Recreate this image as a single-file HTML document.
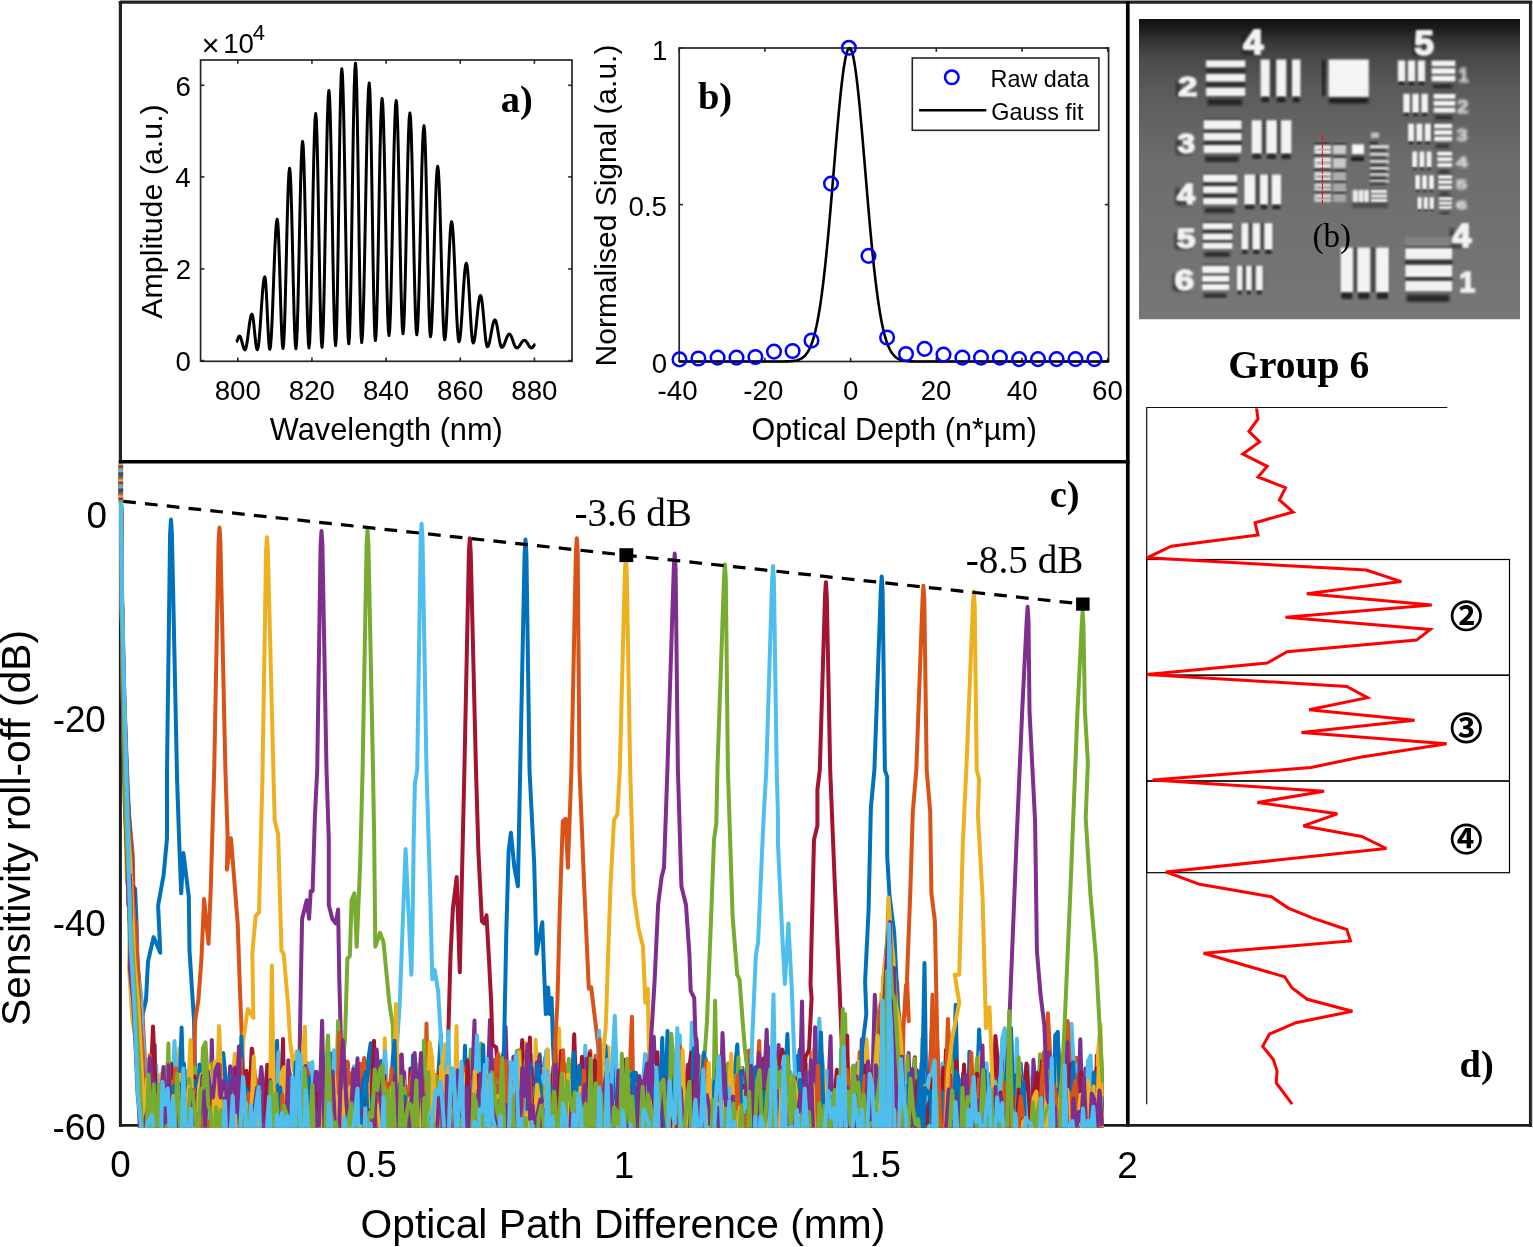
<!DOCTYPE html><html><head><meta charset="utf-8"><style>html,body{margin:0;padding:0;background:#fff;overflow:hidden}svg{display:block}</style></head><body><svg width="1533" height="1247" viewBox="0 0 1533 1247">
<rect x="0" y="0" width="1533" height="1247" fill="#fff"/>
<rect x="200.6" y="60.0" width="371.40" height="301.30" fill="none" stroke="#262626" stroke-width="1.7"/>
<line x1="237.80" y1="361.3" x2="237.80" y2="357.5" stroke="#262626" stroke-width="1.6" />
<line x1="237.80" y1="60.0" x2="237.80" y2="63.8" stroke="#262626" stroke-width="1.6" />
<text x="214.68" y="399.75" font-family="'Liberation Sans', Arial, sans-serif" font-size="27.7" font-weight="normal" fill="#000" >800</text>
<line x1="311.95" y1="361.3" x2="311.95" y2="357.5" stroke="#262626" stroke-width="1.6" />
<line x1="311.95" y1="60.0" x2="311.95" y2="63.8" stroke="#262626" stroke-width="1.6" />
<text x="288.82" y="399.75" font-family="'Liberation Sans', Arial, sans-serif" font-size="27.7" font-weight="normal" fill="#000" >820</text>
<line x1="386.10" y1="361.3" x2="386.10" y2="357.5" stroke="#262626" stroke-width="1.6" />
<line x1="386.10" y1="60.0" x2="386.10" y2="63.8" stroke="#262626" stroke-width="1.6" />
<text x="362.98" y="399.75" font-family="'Liberation Sans', Arial, sans-serif" font-size="27.7" font-weight="normal" fill="#000" >840</text>
<line x1="460.25" y1="361.3" x2="460.25" y2="357.5" stroke="#262626" stroke-width="1.6" />
<line x1="460.25" y1="60.0" x2="460.25" y2="63.8" stroke="#262626" stroke-width="1.6" />
<text x="437.12" y="399.75" font-family="'Liberation Sans', Arial, sans-serif" font-size="27.7" font-weight="normal" fill="#000" >860</text>
<line x1="534.40" y1="361.3" x2="534.40" y2="357.5" stroke="#262626" stroke-width="1.6" />
<line x1="534.40" y1="60.0" x2="534.40" y2="63.8" stroke="#262626" stroke-width="1.6" />
<text x="511.27" y="399.75" font-family="'Liberation Sans', Arial, sans-serif" font-size="27.7" font-weight="normal" fill="#000" >880</text>
<line x1="200.6" y1="360.60" x2="204.4" y2="360.60" stroke="#262626" stroke-width="1.6" />
<line x1="572.0" y1="360.60" x2="568.2" y2="360.60" stroke="#262626" stroke-width="1.6" />
<text x="175.55" y="371.00" font-family="'Liberation Sans', Arial, sans-serif" font-size="27.7" font-weight="normal" fill="#000" >0</text>
<line x1="200.6" y1="268.90" x2="204.4" y2="268.90" stroke="#262626" stroke-width="1.6" />
<line x1="572.0" y1="268.90" x2="568.2" y2="268.90" stroke="#262626" stroke-width="1.6" />
<text x="175.80" y="279.42" font-family="'Liberation Sans', Arial, sans-serif" font-size="27.7" font-weight="normal" fill="#000" >2</text>
<line x1="200.6" y1="176.90" x2="204.4" y2="176.90" stroke="#262626" stroke-width="1.6" />
<line x1="572.0" y1="176.90" x2="568.2" y2="176.90" stroke="#262626" stroke-width="1.6" />
<text x="175.30" y="187.30" font-family="'Liberation Sans', Arial, sans-serif" font-size="27.7" font-weight="normal" fill="#000" >4</text>
<line x1="200.6" y1="85.30" x2="204.4" y2="85.30" stroke="#262626" stroke-width="1.6" />
<line x1="572.0" y1="85.30" x2="568.2" y2="85.30" stroke="#262626" stroke-width="1.6" />
<text x="175.55" y="95.70" font-family="'Liberation Sans', Arial, sans-serif" font-size="27.7" font-weight="normal" fill="#000" >6</text>
<text x="269.85" y="440.10" font-family="'Liberation Sans', Arial, sans-serif" font-size="30.75" font-weight="normal" fill="#000" >Wavelength (nm)</text>
<text transform="translate(161.60,318.80) rotate(-90)" x="0" y="0" font-family="'Liberation Sans', Arial, sans-serif" font-size="30.4" font-weight="normal" fill="#000">Amplitude (a.u.)</text>
<text x="201.45" y="56.30" font-family="'Liberation Sans', Arial, sans-serif" font-size="31.0" font-weight="normal" fill="#000" >×</text>
<text x="223.20" y="53.15" font-family="'Liberation Sans', Arial, sans-serif" font-size="27.7" font-weight="normal" fill="#000" >10</text>
<text x="252.80" y="39.80" font-family="'Liberation Sans', Arial, sans-serif" font-size="22" font-weight="normal" fill="#000" >4</text>
<text x="500.75" y="112.05" font-family="'Liberation Serif', 'Times New Roman', serif" font-size="38.5" font-weight="bold" fill="#000" >a)</text>
<path d="M236.20,342.00 L236.52,341.85 L236.84,341.43 L237.16,340.76 L237.48,339.93 L237.80,339.00 L238.12,338.07 L238.44,337.24 L238.76,336.57 L239.08,336.15 L239.40,336.00 L239.96,336.34 L240.52,337.31 L241.08,338.82 L241.64,340.73 L242.20,342.85 L242.76,344.97 L243.32,346.88 L243.88,348.39 L244.44,349.36 L245.00,349.70 L245.69,348.83 L246.38,346.31 L247.07,342.38 L247.76,337.44 L248.45,331.95 L249.14,326.46 L249.83,321.52 L250.52,317.59 L251.21,315.07 L251.90,314.20 L252.44,315.07 L252.98,317.59 L253.52,321.52 L254.06,326.46 L254.60,331.95 L255.14,337.44 L255.68,342.38 L256.22,346.31 L256.76,348.83 L257.30,349.70 L258.05,347.92 L258.80,342.75 L259.55,334.70 L260.30,324.55 L261.05,313.30 L261.80,302.05 L262.55,291.90 L263.30,283.85 L264.05,278.68 L264.80,276.90 L265.30,278.67 L265.80,283.81 L266.30,291.82 L266.80,301.91 L267.30,313.10 L267.80,324.29 L268.30,334.38 L268.80,342.39 L269.30,347.53 L269.80,349.30 L270.54,346.12 L271.28,336.88 L272.02,322.49 L272.76,304.35 L273.50,284.25 L274.24,264.15 L274.98,246.01 L275.72,231.62 L276.46,222.38 L277.20,219.20 L277.78,222.36 L278.36,231.55 L278.94,245.85 L279.52,263.87 L280.10,283.85 L280.68,303.83 L281.26,321.85 L281.84,336.15 L282.42,345.34 L283.00,348.50 L283.66,344.09 L284.32,331.29 L284.98,311.36 L285.64,286.24 L286.30,258.40 L286.96,230.56 L287.62,205.44 L288.28,185.51 L288.94,172.71 L289.60,168.30 L290.23,172.71 L290.86,185.53 L291.49,205.48 L292.12,230.63 L292.75,258.50 L293.38,286.37 L294.01,311.52 L294.64,331.47 L295.27,344.29 L295.90,348.70 L296.57,343.63 L297.24,328.91 L297.91,305.99 L298.58,277.11 L299.25,245.10 L299.92,213.09 L300.59,184.21 L301.26,161.29 L301.93,146.57 L302.60,141.50 L303.24,146.55 L303.88,161.22 L304.52,184.06 L305.16,212.84 L305.80,244.75 L306.44,276.66 L307.08,305.44 L307.72,328.28 L308.36,342.95 L309.00,348.00 L309.67,342.26 L310.34,325.62 L311.01,299.69 L311.68,267.02 L312.35,230.80 L313.02,194.58 L313.69,161.91 L314.36,135.98 L315.03,119.34 L315.70,113.60 L316.33,119.32 L316.96,135.92 L317.59,161.77 L318.22,194.34 L318.85,230.45 L319.48,266.56 L320.11,299.13 L320.74,324.98 L321.37,341.58 L322.00,347.30 L322.69,341.02 L323.38,322.78 L324.07,294.37 L324.76,258.58 L325.45,218.90 L326.14,179.22 L326.83,143.43 L327.52,115.02 L328.21,96.78 L328.90,90.50 L329.57,96.74 L330.24,114.85 L330.91,143.06 L331.58,178.60 L332.25,218.00 L332.92,257.40 L333.59,292.94 L334.26,321.15 L334.93,339.26 L335.60,345.50 L336.22,338.73 L336.84,319.07 L337.46,288.45 L338.08,249.87 L338.70,207.10 L339.32,164.33 L339.94,125.75 L340.56,95.13 L341.18,75.47 L341.80,68.70 L342.50,75.43 L343.20,94.97 L343.90,125.40 L344.60,163.74 L345.30,206.25 L346.00,248.76 L346.70,287.10 L347.40,317.53 L348.10,337.07 L348.80,343.80 L349.47,336.93 L350.14,317.01 L350.81,285.97 L351.48,246.86 L352.15,203.50 L352.82,160.14 L353.49,121.03 L354.16,89.99 L354.83,70.07 L355.50,63.20 L356.12,70.03 L356.74,89.87 L357.36,120.77 L357.98,159.70 L358.60,202.85 L359.22,246.00 L359.84,284.93 L360.46,315.83 L361.08,335.67 L361.70,342.50 L362.45,336.15 L363.20,317.73 L363.95,289.04 L364.70,252.88 L365.45,212.80 L366.20,172.72 L366.95,136.56 L367.70,107.87 L368.45,89.45 L369.20,83.10 L369.82,89.40 L370.44,107.68 L371.06,136.15 L371.68,172.03 L372.30,211.80 L372.92,251.57 L373.54,287.45 L374.16,315.92 L374.78,334.20 L375.40,340.50 L376.07,334.58 L376.74,317.39 L377.41,290.62 L378.08,256.89 L378.75,219.50 L379.42,182.11 L380.09,148.38 L380.76,121.61 L381.43,104.42 L382.10,98.50 L382.79,104.30 L383.48,121.13 L384.17,147.35 L384.86,180.38 L385.55,217.00 L386.24,253.62 L386.93,286.65 L387.62,312.87 L388.31,329.70 L389.00,335.50 L389.72,329.75 L390.44,313.06 L391.16,287.06 L391.88,254.31 L392.60,218.00 L393.32,181.69 L394.04,148.94 L394.76,122.94 L395.48,106.25 L396.20,100.50 L396.88,106.21 L397.56,122.78 L398.24,148.58 L398.92,181.10 L399.60,217.15 L400.28,253.20 L400.96,285.72 L401.64,311.52 L402.32,328.09 L403.00,333.80 L403.69,328.39 L404.38,312.71 L405.07,288.27 L405.76,257.48 L406.45,223.35 L407.14,189.22 L407.83,158.43 L408.52,133.99 L409.21,118.31 L409.90,112.90 L410.59,118.33 L411.28,134.09 L411.97,158.64 L412.66,189.56 L413.35,223.85 L414.04,258.14 L414.73,289.06 L415.42,313.61 L416.11,329.37 L416.80,334.80 L417.52,329.69 L418.24,314.84 L418.96,291.72 L419.68,262.59 L420.40,230.30 L421.12,198.01 L421.84,168.88 L422.56,145.76 L423.28,130.91 L424.00,125.80 L424.65,130.96 L425.30,145.95 L425.95,169.29 L426.60,198.70 L427.25,231.30 L427.90,263.90 L428.55,293.31 L429.20,316.65 L429.85,331.64 L430.50,336.80 L431.22,332.63 L431.94,320.52 L432.66,301.66 L433.38,277.89 L434.10,251.55 L434.82,225.21 L435.54,201.44 L436.26,182.58 L436.98,170.47 L437.70,166.30 L438.40,170.55 L439.10,182.87 L439.80,202.06 L440.50,226.24 L441.20,253.05 L441.90,279.86 L442.60,304.04 L443.30,323.23 L444.00,335.55 L444.70,339.80 L445.39,336.91 L446.08,328.52 L446.77,315.46 L447.46,299.00 L448.15,280.75 L448.84,262.50 L449.53,246.04 L450.22,232.98 L450.91,224.59 L451.60,221.70 L452.34,224.64 L453.08,233.17 L453.82,246.45 L454.56,263.19 L455.30,281.75 L456.04,300.31 L456.78,317.05 L457.52,330.33 L458.26,338.86 L459.00,341.80 L459.73,339.88 L460.46,334.29 L461.19,325.60 L461.92,314.64 L462.65,302.50 L463.38,290.36 L464.11,279.40 L464.84,270.71 L465.57,265.12 L466.30,263.20 L466.99,265.15 L467.68,270.82 L468.37,279.65 L469.06,290.77 L469.75,303.10 L470.44,315.43 L471.13,326.55 L471.82,335.38 L472.51,341.05 L473.20,343.00 L473.93,341.84 L474.66,338.46 L475.39,333.21 L476.12,326.59 L476.85,319.25 L477.58,311.91 L478.31,305.29 L479.04,300.04 L479.77,296.66 L480.50,295.50 L481.19,296.76 L481.88,300.40 L482.57,306.07 L483.26,313.22 L483.95,321.15 L484.64,329.08 L485.33,336.23 L486.02,341.90 L486.71,345.54 L487.40,346.80 L488.15,346.14 L488.90,344.23 L489.65,341.26 L490.40,337.51 L491.15,333.35 L491.90,329.19 L492.65,325.44 L493.40,322.47 L494.15,320.56 L494.90,319.90 L495.59,320.58 L496.28,322.54 L496.97,325.59 L497.66,329.44 L498.35,333.70 L499.04,337.96 L499.73,341.81 L500.42,344.86 L501.11,346.82 L501.80,347.50 L502.55,347.17 L503.30,346.22 L504.05,344.74 L504.80,342.87 L505.55,340.80 L506.30,338.73 L507.05,336.86 L507.80,335.38 L508.55,334.43 L509.30,334.10 L510.04,334.44 L510.78,335.43 L511.52,336.96 L512.26,338.90 L513.00,341.05 L513.74,343.20 L514.48,345.14 L515.22,346.67 L515.96,347.66 L516.70,348.00 L517.47,347.81 L518.24,347.26 L519.01,346.41 L519.78,345.34 L520.55,344.15 L521.32,342.96 L522.09,341.89 L522.86,341.04 L523.63,340.49 L524.40,340.30 L525.12,340.49 L525.84,341.04 L526.56,341.89 L527.28,342.96 L528.00,344.15 L528.72,345.34 L529.44,346.41 L530.16,347.26 L530.88,347.81 L531.60,348.00 L531.98,347.91 L532.36,347.65 L532.74,347.24 L533.12,346.72 L533.50,346.15 L533.88,345.58 L534.26,345.06 L534.64,344.65 L535.02,344.39 L535.40,344.30" fill="none" stroke="#000" stroke-width="3.0" stroke-linejoin="round" />
<rect x="679.2" y="48.0" width="429.40" height="313.50" fill="none" stroke="#262626" stroke-width="1.7"/>
<line x1="679.20" y1="361.5" x2="679.20" y2="357.7" stroke="#262626" stroke-width="1.6" />
<line x1="679.20" y1="48.0" x2="679.20" y2="51.8" stroke="#262626" stroke-width="1.6" />
<text x="657.58" y="399.75" font-family="'Liberation Sans', Arial, sans-serif" font-size="27.7" font-weight="normal" fill="#000" >-40</text>
<line x1="764.90" y1="361.5" x2="764.90" y2="357.7" stroke="#262626" stroke-width="1.6" />
<line x1="764.90" y1="48.0" x2="764.90" y2="51.8" stroke="#262626" stroke-width="1.6" />
<text x="743.27" y="399.75" font-family="'Liberation Sans', Arial, sans-serif" font-size="27.7" font-weight="normal" fill="#000" >-20</text>
<line x1="850.60" y1="361.5" x2="850.60" y2="357.7" stroke="#262626" stroke-width="1.6" />
<line x1="850.60" y1="48.0" x2="850.60" y2="51.8" stroke="#262626" stroke-width="1.6" />
<text x="842.98" y="399.75" font-family="'Liberation Sans', Arial, sans-serif" font-size="27.7" font-weight="normal" fill="#000" >0</text>
<line x1="936.30" y1="361.5" x2="936.30" y2="357.7" stroke="#262626" stroke-width="1.6" />
<line x1="936.30" y1="48.0" x2="936.30" y2="51.8" stroke="#262626" stroke-width="1.6" />
<text x="920.68" y="399.75" font-family="'Liberation Sans', Arial, sans-serif" font-size="27.7" font-weight="normal" fill="#000" >20</text>
<line x1="1022.00" y1="361.5" x2="1022.00" y2="357.7" stroke="#262626" stroke-width="1.6" />
<line x1="1022.00" y1="48.0" x2="1022.00" y2="51.8" stroke="#262626" stroke-width="1.6" />
<text x="1006.75" y="399.75" font-family="'Liberation Sans', Arial, sans-serif" font-size="27.7" font-weight="normal" fill="#000" >40</text>
<line x1="1107.70" y1="361.5" x2="1107.70" y2="357.7" stroke="#262626" stroke-width="1.6" />
<line x1="1107.70" y1="48.0" x2="1107.70" y2="51.8" stroke="#262626" stroke-width="1.6" />
<text x="1092.08" y="399.75" font-family="'Liberation Sans', Arial, sans-serif" font-size="27.7" font-weight="normal" fill="#000" >60</text>
<line x1="679.2" y1="361.50" x2="683.0" y2="361.50" stroke="#262626" stroke-width="1.6" />
<line x1="1108.6" y1="361.50" x2="1104.8" y2="361.50" stroke="#262626" stroke-width="1.6" />
<text x="651.75" y="373.10" font-family="'Liberation Sans', Arial, sans-serif" font-size="27.7" font-weight="normal" fill="#000" >0</text>
<line x1="679.2" y1="204.60" x2="683.0" y2="204.60" stroke="#262626" stroke-width="1.6" />
<line x1="1108.6" y1="204.60" x2="1104.8" y2="204.60" stroke="#262626" stroke-width="1.6" />
<text x="628.50" y="216.20" font-family="'Liberation Sans', Arial, sans-serif" font-size="27.7" font-weight="normal" fill="#000" >0.5</text>
<line x1="679.2" y1="48.00" x2="683.0" y2="48.00" stroke="#262626" stroke-width="1.6" />
<line x1="1108.6" y1="48.00" x2="1104.8" y2="48.00" stroke="#262626" stroke-width="1.6" />
<text x="652.00" y="59.60" font-family="'Liberation Sans', Arial, sans-serif" font-size="27.7" font-weight="normal" fill="#000" >1</text>
<text x="751.50" y="439.60" font-family="'Liberation Sans', Arial, sans-serif" font-size="30.5" font-weight="normal" fill="#000" >Optical Depth (n*µm)</text>
<text transform="translate(616.30,366.40) rotate(-90)" x="0" y="0" font-family="'Liberation Sans', Arial, sans-serif" font-size="30.0" font-weight="normal" fill="#000">Normalised Signal (a.u.)</text>
<text x="697.90" y="109.05" font-family="'Liberation Serif', 'Times New Roman', serif" font-size="38.5" font-weight="bold" fill="#000" >b)</text>
<path d="M679.20,361.50 L680.27,361.50 L681.35,361.50 L682.42,361.50 L683.49,361.50 L684.57,361.50 L685.64,361.50 L686.71,361.50 L687.79,361.50 L688.86,361.50 L689.94,361.50 L691.01,361.50 L692.08,361.50 L693.16,361.50 L694.23,361.50 L695.30,361.50 L696.38,361.50 L697.45,361.50 L698.52,361.50 L699.60,361.50 L700.67,361.50 L701.74,361.50 L702.82,361.50 L703.89,361.50 L704.96,361.50 L706.04,361.50 L707.11,361.50 L708.18,361.50 L709.26,361.50 L710.33,361.50 L711.41,361.50 L712.48,361.50 L713.55,361.50 L714.63,361.50 L715.70,361.50 L716.77,361.50 L717.85,361.50 L718.92,361.50 L719.99,361.50 L721.07,361.50 L722.14,361.50 L723.21,361.50 L724.29,361.50 L725.36,361.50 L726.43,361.50 L727.51,361.50 L728.58,361.50 L729.65,361.50 L730.73,361.50 L731.80,361.50 L732.88,361.50 L733.95,361.50 L735.02,361.50 L736.10,361.50 L737.17,361.50 L738.24,361.50 L739.32,361.50 L740.39,361.50 L741.46,361.50 L742.54,361.50 L743.61,361.50 L744.68,361.50 L745.76,361.50 L746.83,361.50 L747.90,361.50 L748.98,361.50 L750.05,361.50 L751.12,361.50 L752.20,361.50 L753.27,361.50 L754.35,361.50 L755.42,361.50 L756.49,361.50 L757.57,361.50 L758.64,361.50 L759.71,361.50 L760.79,361.50 L761.86,361.50 L762.93,361.50 L764.01,361.50 L765.08,361.50 L766.15,361.50 L767.23,361.50 L768.30,361.50 L769.37,361.50 L770.45,361.50 L771.52,361.50 L772.59,361.50 L773.67,361.50 L774.74,361.50 L775.82,361.49 L776.89,361.49 L777.96,361.49 L779.04,361.48 L780.11,361.48 L781.18,361.47 L782.26,361.46 L783.33,361.45 L784.40,361.44 L785.48,361.41 L786.55,361.39 L787.62,361.35 L788.70,361.31 L789.77,361.25 L790.84,361.18 L791.92,361.09 L792.99,360.98 L794.06,360.83 L795.14,360.66 L796.21,360.44 L797.28,360.17 L798.36,359.84 L799.43,359.43 L800.51,358.94 L801.58,358.35 L802.65,357.63 L803.73,356.78 L804.80,355.77 L805.87,354.57 L806.95,353.16 L808.02,351.51 L809.09,349.59 L810.17,347.36 L811.24,344.79 L812.31,341.85 L813.39,338.49 L814.46,334.69 L815.53,330.40 L816.61,325.59 L817.68,320.23 L818.75,314.29 L819.83,307.74 L820.90,300.57 L821.98,292.75 L823.05,284.29 L824.12,275.19 L825.20,265.46 L826.27,255.13 L827.34,244.23 L828.42,232.80 L829.49,220.91 L830.56,208.63 L831.64,196.04 L832.71,183.25 L833.78,170.34 L834.86,157.45 L835.93,144.69 L837.00,132.19 L838.08,120.09 L839.15,108.52 L840.23,97.62 L841.30,87.51 L842.37,78.33 L843.45,70.19 L844.52,63.20 L845.59,57.44 L846.67,53.00 L847.74,49.94 L848.81,48.30 L849.89,48.09 L850.96,49.34 L852.03,52.00 L853.11,56.06 L854.18,61.46 L855.25,68.11 L856.33,75.94 L857.40,84.85 L858.47,94.70 L859.55,105.40 L860.62,116.79 L861.69,128.76 L862.77,141.16 L863.84,153.86 L864.92,166.73 L865.99,179.64 L867.06,192.48 L868.14,205.13 L869.21,217.51 L870.28,229.52 L871.36,241.08 L872.43,252.13 L873.50,262.63 L874.58,272.53 L875.65,281.81 L876.72,290.45 L877.80,298.45 L878.87,305.80 L879.94,312.52 L881.02,318.63 L882.09,324.15 L883.16,329.11 L884.24,333.54 L885.31,337.47 L886.39,340.95 L887.46,344.01 L888.53,346.67 L889.61,348.99 L890.68,351.00 L891.75,352.72 L892.83,354.20 L893.90,355.45 L894.97,356.52 L896.05,357.41 L897.12,358.16 L898.19,358.79 L899.27,359.30 L900.34,359.73 L901.41,360.08 L902.49,360.37 L903.56,360.60 L904.63,360.79 L905.71,360.94 L906.78,361.06 L907.86,361.16 L908.93,361.23 L910.00,361.29 L911.08,361.34 L912.15,361.38 L913.22,361.41 L914.30,361.43 L915.37,361.45 L916.44,361.46 L917.52,361.47 L918.59,361.48 L919.66,361.48 L920.74,361.49 L921.81,361.49 L922.88,361.49 L923.96,361.50 L925.03,361.50 L926.11,361.50 L927.18,361.50 L928.25,361.50 L929.33,361.50 L930.40,361.50 L931.47,361.50 L932.55,361.50 L933.62,361.50 L934.69,361.50 L935.77,361.50 L936.84,361.50 L937.91,361.50 L938.99,361.50 L940.06,361.50 L941.13,361.50 L942.21,361.50 L943.28,361.50 L944.35,361.50 L945.43,361.50 L946.50,361.50 L947.58,361.50 L948.65,361.50 L949.72,361.50 L950.80,361.50 L951.87,361.50 L952.94,361.50 L954.02,361.50 L955.09,361.50 L956.16,361.50 L957.24,361.50 L958.31,361.50 L959.38,361.50 L960.46,361.50 L961.53,361.50 L962.60,361.50 L963.68,361.50 L964.75,361.50 L965.82,361.50 L966.90,361.50 L967.97,361.50 L969.04,361.50 L970.12,361.50 L971.19,361.50 L972.27,361.50 L973.34,361.50 L974.41,361.50 L975.49,361.50 L976.56,361.50 L977.63,361.50 L978.71,361.50 L979.78,361.50 L980.85,361.50 L981.93,361.50 L983.00,361.50 L984.07,361.50 L985.15,361.50 L986.22,361.50 L987.29,361.50 L988.37,361.50 L989.44,361.50 L990.51,361.50 L991.59,361.50 L992.66,361.50 L993.74,361.50 L994.81,361.50 L995.88,361.50 L996.96,361.50 L998.03,361.50 L999.10,361.50 L1000.18,361.50 L1001.25,361.50 L1002.32,361.50 L1003.40,361.50 L1004.47,361.50 L1005.54,361.50 L1006.62,361.50 L1007.69,361.50 L1008.76,361.50 L1009.84,361.50 L1010.91,361.50 L1011.98,361.50 L1013.06,361.50 L1014.13,361.50 L1015.21,361.50 L1016.28,361.50 L1017.35,361.50 L1018.43,361.50 L1019.50,361.50 L1020.57,361.50 L1021.65,361.50 L1022.72,361.50 L1023.79,361.50 L1024.87,361.50 L1025.94,361.50 L1027.01,361.50 L1028.09,361.50 L1029.16,361.50 L1030.23,361.50 L1031.31,361.50 L1032.38,361.50 L1033.45,361.50 L1034.53,361.50 L1035.60,361.50 L1036.68,361.50 L1037.75,361.50 L1038.82,361.50 L1039.90,361.50 L1040.97,361.50 L1042.04,361.50 L1043.12,361.50 L1044.19,361.50 L1045.26,361.50 L1046.34,361.50 L1047.41,361.50 L1048.48,361.50 L1049.56,361.50 L1050.63,361.50 L1051.70,361.50 L1052.78,361.50 L1053.85,361.50 L1054.92,361.50 L1056.00,361.50 L1057.07,361.50 L1058.15,361.50 L1059.22,361.50 L1060.29,361.50 L1061.37,361.50 L1062.44,361.50 L1063.51,361.50 L1064.59,361.50 L1065.66,361.50 L1066.73,361.50 L1067.81,361.50 L1068.88,361.50 L1069.95,361.50 L1071.03,361.50 L1072.10,361.50 L1073.17,361.50 L1074.25,361.50 L1075.32,361.50 L1076.39,361.50 L1077.47,361.50 L1078.54,361.50 L1079.62,361.50 L1080.69,361.50 L1081.76,361.50 L1082.84,361.50 L1083.91,361.50 L1084.98,361.50 L1086.06,361.50 L1087.13,361.50 L1088.20,361.50 L1089.28,361.50 L1090.35,361.50 L1091.42,361.50 L1092.50,361.50 L1093.57,361.50 L1094.64,361.50 L1095.72,361.50 L1096.79,361.50 L1097.86,361.50 L1098.94,361.50 L1100.01,361.50 L1101.09,361.50 L1102.16,361.50 L1103.23,361.50 L1104.31,361.50 L1105.38,361.50 L1106.45,361.50 L1107.53,361.50 L1108.60,361.50" fill="none" stroke="#000" stroke-width="2.6" stroke-linejoin="round" />
<circle cx="679.5" cy="359.4" r="6.8" fill="none" stroke="#0000ff" stroke-width="2.5"/>
<circle cx="698.4" cy="358.5" r="6.8" fill="none" stroke="#0000ff" stroke-width="2.5"/>
<circle cx="717.6" cy="357.6" r="6.8" fill="none" stroke="#0000ff" stroke-width="2.5"/>
<circle cx="736.5" cy="357.6" r="6.8" fill="none" stroke="#0000ff" stroke-width="2.5"/>
<circle cx="755.4" cy="357" r="6.8" fill="none" stroke="#0000ff" stroke-width="2.5"/>
<circle cx="774" cy="351.6" r="6.8" fill="none" stroke="#0000ff" stroke-width="2.5"/>
<circle cx="792.6" cy="351" r="6.8" fill="none" stroke="#0000ff" stroke-width="2.5"/>
<circle cx="811.5" cy="340.5" r="6.8" fill="none" stroke="#0000ff" stroke-width="2.5"/>
<circle cx="831" cy="183.6" r="6.8" fill="none" stroke="#0000ff" stroke-width="2.5"/>
<circle cx="848.9" cy="47.8" r="6.8" fill="none" stroke="#0000ff" stroke-width="2.5"/>
<circle cx="868.5" cy="255.9" r="6.8" fill="none" stroke="#0000ff" stroke-width="2.5"/>
<circle cx="887.1" cy="337.5" r="6.8" fill="none" stroke="#0000ff" stroke-width="2.5"/>
<circle cx="906" cy="354" r="6.8" fill="none" stroke="#0000ff" stroke-width="2.5"/>
<circle cx="924.6" cy="348.9" r="6.8" fill="none" stroke="#0000ff" stroke-width="2.5"/>
<circle cx="943.5" cy="354.6" r="6.8" fill="none" stroke="#0000ff" stroke-width="2.5"/>
<circle cx="962.4" cy="357.6" r="6.8" fill="none" stroke="#0000ff" stroke-width="2.5"/>
<circle cx="981" cy="357.6" r="6.8" fill="none" stroke="#0000ff" stroke-width="2.5"/>
<circle cx="999.9" cy="357.6" r="6.8" fill="none" stroke="#0000ff" stroke-width="2.5"/>
<circle cx="1019.1" cy="359.1" r="6.8" fill="none" stroke="#0000ff" stroke-width="2.5"/>
<circle cx="1038" cy="359.1" r="6.8" fill="none" stroke="#0000ff" stroke-width="2.5"/>
<circle cx="1056.6" cy="359.1" r="6.8" fill="none" stroke="#0000ff" stroke-width="2.5"/>
<circle cx="1075.5" cy="359.1" r="6.8" fill="none" stroke="#0000ff" stroke-width="2.5"/>
<circle cx="1094.4" cy="359.1" r="6.8" fill="none" stroke="#0000ff" stroke-width="2.5"/>
<rect x="912.3" y="58.0" width="186.6" height="72.3" fill="#fff" stroke="#262626" stroke-width="1.6"/>
<circle cx="951.8" cy="77.3" r="6.8" fill="none" stroke="#0000ff" stroke-width="2.5"/>
<line x1="919.1" y1="110.2" x2="986.3" y2="110.2" stroke="#000" stroke-width="2.6" />
<text x="990.50" y="87.00" font-family="'Liberation Sans', Arial, sans-serif" font-size="23.4" font-weight="normal" fill="#000" >Raw data</text>
<text x="991.25" y="119.70" font-family="'Liberation Sans', Arial, sans-serif" font-size="23.4" font-weight="normal" fill="#000" >Gauss fit</text>
<defs><clipPath id="cc"><rect x="117" y="463.5" width="987" height="664.3"/></clipPath></defs>
<line x1="119" y1="1125.4" x2="1128" y2="1125.4" stroke="#1c1c1c" stroke-width="2.9"/>
<line x1="120.4" y1="463" x2="120.4" y2="1126.8" stroke="#1c1c1c" stroke-width="3"/>
<g clip-path="url(#cc)" fill="none" stroke-width="4" stroke-linejoin="round">
<path d="M120.8,463.5 L121.0,500.0 L122.1,609.6 L124.2,709.7 L127.9,803.0 L132.1,887.6 L133.6,917.2 L135.1,888.8 L136.7,927.2 L136.8,947.0 L140.9,1022.1 L146.0,1000.0 L148.0,961.8 L153.6,937.1 L160.3,952.8 L158.1,905.7 L163.7,874.3 L167.0,838.3 L167.0,770.0 L170.1,533.6 L171.0,519.6 L171.9,533.6 L177.1,780.0 L179.4,847.3 L181.2,893.3 L183.4,852.9 L188.8,896.7 L189.5,950.6 L194.0,1020.1 L196.5,1140.2 L199.1,1181.4 L201.7,1142.5 L204.3,1128.5 L206.9,1150.4 L209.5,1158.1 L212.1,1105.0 L214.7,1075.4 L217.3,1113.9 L219.9,1132.9 L222.5,1097.7 L225.1,1090.0 L227.7,1128.0 L230.3,1103.6 L232.9,1090.7 L235.5,1136.0 L238.1,1159.2 L240.7,1122.0 L243.3,1126.1 L245.9,1097.1 L248.5,1175.8 L251.1,1152.4 L253.7,1155.3 L256.3,1182.3 L258.9,1117.0 L261.5,1101.5 L264.1,1143.2 L266.7,1071.8 L269.3,1091.4 L271.9,1099.3 L274.5,1108.3 L277.1,1040.8 L279.7,1169.4 L282.3,1105.2 L284.9,1106.6 L287.5,1187.2 L290.1,1116.4 L292.7,1135.9 L295.3,1100.0 L297.9,1139.1 L300.5,1122.6 L303.1,1108.1 L305.7,1147.0 L308.3,1095.7 L310.9,1089.1 L313.5,1097.1 L316.1,1130.3 L318.7,1075.4 L321.3,1090.9 L323.9,1117.0 L326.5,1090.1 L329.1,1070.0 L331.7,1053.5 L334.3,1167.9 L336.9,1086.3 L339.5,1100.8 L342.1,1119.6 L344.7,1150.3 L347.3,1074.1 L349.9,1158.8 L352.5,1097.4 L355.1,1072.5 L357.7,1169.6 L360.3,1125.2 L362.9,1158.0 L365.5,1104.6 L368.1,1061.1 L370.7,1043.3 L373.3,1171.1 L375.9,1131.1 L378.5,1089.0 L381.1,1061.1 L383.7,1101.9 L386.3,1143.4 L388.9,1110.7 L391.5,1123.6 L394.1,1132.2 L396.7,1152.3 L399.3,1116.3 L401.9,1120.1 L404.5,1134.0 L407.1,1100.9 L409.7,1172.4 L412.3,1143.9 L414.9,1085.0 L417.5,1130.1 L420.1,1170.3 L422.7,1075.6 L425.3,1101.6 L427.9,1047.7 L430.5,1116.1 L433.1,1133.7 L435.7,1167.4 L438.3,1075.1 L440.9,1034.5 L443.5,1125.7 L446.1,1145.4 L448.7,1104.5 L451.3,1152.6 L453.9,1132.9 L456.5,1133.8 L459.1,1113.1 L461.7,1080.2 L464.3,1113.7 L466.9,1081.8 L469.5,1125.7 L472.1,1100.2 L474.7,1183.4 L477.3,1161.0 L479.9,1086.6 L482.5,1134.4 L485.1,1096.3 L487.7,1098.5 L490.3,1072.8 L492.9,1090.2 L495.5,1083.1 L498.1,1120.6 L500.7,1140.0 L503.3,1141.2 L505.9,1133.7 L508.5,1156.6 L511.1,1138.5 L513.7,1124.6 L516.3,1114.0 L518.9,1134.3 L521.5,1187.7 L524.1,1125.5 L526.7,1115.6 L529.3,1086.8 L531.9,1103.9 L534.5,1144.8 L537.1,1147.0 L539.7,1054.3 L542.3,1096.0 L544.9,1059.7 L547.5,1049.8 L550.1,1124.8 L552.7,1108.4 L555.3,1105.0 L557.9,1099.9 L560.5,1098.0 L563.1,1106.8 L565.7,1105.3 L568.3,1159.8 L570.9,1113.7 L573.5,1133.0 L576.1,1103.9 L578.7,1124.7 L581.3,1089.3 L583.9,1083.7 L586.5,1102.1 L589.1,1103.3 L591.7,1112.4 L594.3,1132.6 L596.9,1125.5 L599.5,1139.7 L602.1,1113.4 L604.7,1129.6 L607.3,1113.9 L609.9,1180.8 L612.5,1107.8 L615.1,1163.5 L617.7,1161.2 L620.3,1140.5 L622.9,1149.1 L625.5,1116.3 L628.1,1141.5 L630.7,1155.1 L633.3,1145.8 L635.9,1072.8 L638.5,1116.0 L641.1,1157.8 L643.7,1119.3 L646.3,1172.6 L648.9,1060.2 L651.5,1171.3 L654.1,1103.2 L656.7,1100.6 L659.3,1167.7 L661.9,1109.5 L664.5,1087.5 L667.1,1107.6 L669.7,1117.3 L672.3,1097.2 L674.9,1126.3 L677.5,1122.0 L680.1,1137.7 L682.7,1110.9 L685.3,1160.9 L687.9,1098.8 L690.5,1138.4 L693.1,1109.5 L695.7,1102.1 L698.3,1055.3 L700.9,1078.4 L703.5,1127.5 L706.1,1086.3 L708.7,1103.4 L711.3,1112.9 L713.9,1104.7 L716.5,1184.3 L719.1,1098.4 L721.7,1137.9 L724.3,1125.4 L726.9,1150.5 L729.5,1151.2 L732.1,1131.6 L734.7,1072.2 L737.3,1044.6 L739.9,1103.0 L742.5,1068.0 L745.1,1116.9 L747.7,1176.4 L750.3,1111.4 L752.9,1105.3 L755.5,1138.0 L758.1,1115.7 L760.7,1107.9 L763.3,1156.6 L765.9,1176.9 L768.5,1133.8 L771.1,1132.4 L773.7,1136.1 L776.3,1090.0 L778.9,1064.2 L781.5,1135.4 L784.1,1097.3 L786.7,1088.5 L789.3,1095.5 L791.9,1083.7 L794.5,1131.5 L797.1,1093.2 L799.7,1049.6 L802.3,1090.1 L804.9,1137.3 L807.5,1095.1 L810.1,1072.2 L812.7,1101.3 L815.3,1132.5 L817.9,1062.2 L820.5,1157.7 L823.1,1100.9 L825.7,1120.7 L828.3,1162.0 L830.9,1081.7 L833.5,1111.0 L836.1,1161.5 L838.7,1101.8 L841.3,1137.0 L843.9,1187.8 L846.5,1148.8 L849.1,1118.5 L851.7,1107.1 L854.3,1123.0 L856.9,1125.9 L859.5,1109.8 L862.1,1130.7 L864.7,1082.2 L867.3,1115.6 L869.9,1110.1 L872.5,1101.8 L875.1,1156.1 L877.7,1117.5 L880.3,1063.6 L882.9,1024.4 L885.5,995.5 L888.1,962.0 L890.4,939.9 L890.7,996.6 L893.3,991.0 L895.9,1004.4 L898.5,1020.2 L901.1,1182.1 L903.7,1083.1 L906.3,1143.1 L908.9,1176.5 L911.5,1128.2 L914.1,1130.5 L916.7,1076.3 L919.3,1153.0 L921.9,1100.5 L924.5,963.0 L927.1,1157.1 L929.7,1103.0 L932.3,1124.9 L934.9,1107.5 L937.5,1173.9 L940.1,1150.2 L942.7,1094.5 L945.3,1109.6 L947.9,1051.7 L950.5,1129.0 L953.1,1098.1 L955.7,1004.8 L958.3,1127.5 L960.9,1131.6 L963.5,1102.5 L966.1,1103.9 L968.7,1076.1 L971.3,1103.1 L973.9,1136.3 L976.5,1107.5 L979.1,1029.4 L981.7,1078.2 L984.3,1216.7 L986.9,1129.2 L989.5,1154.1 L992.1,1103.3 L994.7,1086.4 L997.3,1055.8 L999.9,1086.8 L1002.5,1085.3 L1005.1,1106.1 L1007.7,1111.4 L1010.3,1096.8 L1012.9,1063.8 L1015.5,1088.9 L1018.1,1118.5 L1020.7,1063.6 L1023.3,1099.6 L1025.9,1107.9 L1028.5,1131.0 L1031.1,1122.9 L1033.7,1125.0 L1036.3,1198.0 L1038.9,1070.8 L1041.5,1087.3 L1044.1,1115.3 L1046.7,1074.7 L1049.3,1097.2 L1051.9,1101.8 L1054.5,1200.1 L1057.1,1127.6 L1059.7,1104.5 L1062.3,1070.9 L1064.9,1065.3 L1067.5,1080.7 L1070.1,1168.8 L1072.7,1204.0 L1075.3,1110.7 L1077.9,1128.3 L1080.5,1096.0 L1083.1,1131.6 L1085.7,1118.7 L1088.3,1175.5 L1090.9,1108.9 L1093.5,1138.0 L1096.1,1110.5 L1098.7,1106.1 L1101.3,1125.2 L1103.9,1110.5" stroke="#0072BD"/>
<path d="M120.8,465.5 L121.0,500.0 L122.1,593.2 L124.3,696.0 L128.3,807.0 L132.8,855.7 L134.4,952.5 L135.9,921.8 L137.5,962.5 L137.9,968.2 L142.1,1005.8 L145.6,1072.3 L148.3,1132.0 L150.9,1191.1 L153.5,1167.0 L156.1,1155.5 L158.7,1166.2 L161.3,1119.1 L163.9,1138.3 L166.5,1122.8 L169.1,1152.4 L171.7,1143.3 L174.3,1102.5 L176.9,1109.5 L179.5,1139.3 L182.1,1112.5 L184.7,1118.5 L187.3,1118.2 L189.9,1067.6 L192.5,1131.5 L195.1,1021.2 L198.4,999.9 L201.4,959.5 L204.1,898.9 L208.5,943.8 L210.8,887.7 L214.2,770.0 L218.6,541.6 L219.5,527.6 L220.4,541.6 L225.4,770.0 L227.6,836.1 L226.9,869.8 L231.0,838.3 L237.7,923.6 L240.0,991.0 L241.1,1017.9 L244.5,1110.4 L247.1,1114.7 L249.7,1113.7 L252.3,1049.0 L254.9,1076.9 L257.5,1082.8 L260.1,1139.5 L262.7,1079.9 L265.3,1146.3 L267.9,1089.4 L270.5,1145.9 L273.1,1045.4 L275.7,1170.0 L278.3,1074.1 L280.9,1089.3 L283.5,1176.6 L286.1,1125.3 L288.7,1068.6 L291.3,1079.0 L293.9,1173.4 L296.5,1136.0 L299.1,1159.4 L301.7,1156.1 L304.3,1145.0 L306.9,1062.7 L309.5,1120.8 L312.1,1132.6 L314.7,1135.4 L317.3,1100.5 L319.9,1098.2 L322.5,1151.1 L325.1,1069.9 L327.7,1155.0 L330.3,1127.4 L332.9,1102.6 L335.5,1059.7 L338.1,1128.1 L340.7,1106.0 L343.3,1070.5 L345.9,1091.6 L348.5,1072.6 L351.1,1073.9 L353.7,1099.0 L356.3,1086.1 L358.9,1077.1 L361.5,1110.5 L364.1,1058.0 L366.7,1181.1 L369.3,1147.7 L371.9,1070.6 L374.5,1106.9 L377.1,1144.7 L379.7,1111.5 L382.3,1088.2 L384.9,1143.2 L387.5,1097.2 L390.1,1124.7 L392.7,1121.3 L395.3,1116.4 L397.9,1073.8 L400.5,1146.7 L403.1,1120.4 L405.7,1086.0 L408.3,1150.5 L410.9,1164.8 L413.5,1094.9 L416.1,1116.4 L418.7,1123.4 L421.3,1115.2 L423.9,1153.7 L426.5,1023.4 L429.1,1154.5 L431.7,1135.9 L434.3,1169.2 L436.9,1136.4 L439.5,1072.9 L442.1,1126.0 L444.7,1109.3 L447.3,1117.8 L449.9,1071.5 L452.5,1126.3 L455.1,1171.8 L457.7,1100.8 L460.3,1135.7 L462.9,1099.9 L465.5,1113.7 L468.1,1108.6 L470.7,1113.1 L473.3,1149.1 L475.9,1170.3 L478.5,1088.2 L481.1,1126.4 L483.7,1113.0 L486.3,1138.6 L488.9,1191.3 L491.5,1166.5 L494.1,1077.0 L496.7,1150.8 L499.3,1137.7 L501.9,1174.6 L504.5,1143.6 L507.1,1138.9 L509.7,1134.4 L512.3,1129.8 L514.9,1148.4 L517.5,1145.6 L520.1,1125.2 L522.7,1085.5 L525.3,1125.0 L527.9,1059.4 L530.5,1109.5 L533.1,1076.8 L535.7,1137.7 L538.3,1081.7 L540.9,1151.7 L543.5,1172.9 L546.1,1152.4 L548.7,1099.8 L551.3,1159.8 L553.9,1078.4 L556.5,1123.2 L559.1,1173.7 L561.7,1131.0 L564.3,1063.8 L566.9,1153.5 L569.5,1169.4 L572.1,1108.9 L574.7,1082.5 L577.3,1091.9 L579.9,1136.5 L582.5,1118.1 L585.1,1112.6 L587.7,1083.5 L590.3,1050.8 L592.9,1127.5 L595.5,1055.7 L598.1,1138.0 L600.7,1107.6 L603.3,1159.1 L605.9,1153.0 L608.5,1112.2 L611.1,1154.8 L613.7,1093.2 L616.3,1140.1 L618.9,1117.8 L621.5,1122.4 L624.1,1130.6 L626.7,1115.2 L629.3,1083.9 L631.9,1016.8 L634.5,1162.5 L637.1,1114.0 L639.7,1131.3 L642.3,1157.2 L644.9,1117.2 L647.5,1155.9 L650.1,1127.7 L652.7,1081.2 L655.3,1188.0 L657.9,1108.2 L660.5,1097.7 L663.1,1141.1 L665.7,1087.9 L668.3,1091.0 L670.9,1112.8 L673.5,1059.7 L676.1,1144.7 L678.7,1079.9 L681.3,1110.4 L683.9,1138.9 L686.5,1110.1 L689.1,1116.5 L691.7,1078.3 L694.3,1157.6 L696.9,1116.0 L699.5,1127.4 L702.1,1062.0 L704.7,1155.2 L707.3,1084.6 L709.9,1181.6 L712.5,1113.2 L715.1,1131.2 L717.7,1115.5 L720.3,1152.9 L722.9,1195.4 L725.5,1181.3 L728.1,1084.0 L730.7,1119.2 L733.3,1153.3 L735.9,1091.8 L738.5,1145.3 L741.1,1143.7 L743.7,1158.6 L746.3,1077.5 L748.9,1050.5 L751.5,1148.1 L754.1,1105.0 L756.7,1080.6 L759.3,1040.9 L761.9,1191.2 L764.5,1104.2 L767.1,1085.6 L769.7,1155.8 L772.3,1091.4 L774.9,1098.1 L777.5,1080.8 L780.1,1125.8 L782.7,1093.9 L785.3,1130.1 L787.9,1091.1 L790.5,1107.5 L793.1,1126.1 L795.7,1160.7 L798.3,1057.0 L800.9,1074.0 L803.5,1080.5 L806.1,1131.7 L808.7,1120.8 L811.3,1053.1 L813.9,1084.9 L816.5,1139.3 L819.1,1109.6 L821.7,1106.6 L824.3,1118.0 L826.9,1142.8 L829.5,1068.5 L832.1,1090.8 L834.7,1117.4 L837.3,1164.4 L839.9,1132.4 L842.5,1114.6 L845.1,1087.4 L847.7,1104.8 L850.3,1083.2 L852.9,1116.8 L855.5,1146.9 L858.1,1215.5 L860.7,1160.4 L863.3,1170.6 L865.9,1125.5 L868.5,1109.9 L871.1,1075.5 L873.7,1124.2 L876.3,1086.0 L878.9,1047.3 L881.5,1021.1 L884.1,1136.6 L886.7,1136.6 L889.3,927.8 L890.1,916.5 L891.9,1105.2 L894.5,1113.0 L897.1,982.4 L899.7,1038.3 L902.3,1075.2 L904.9,1077.1 L907.5,1127.7 L910.1,1132.4 L912.7,1071.7 L915.3,1160.0 L917.9,1124.1 L920.5,1132.3 L923.1,1101.3 L925.7,1127.3 L928.3,1194.2 L930.9,1132.1 L933.5,1087.7 L936.1,1198.0 L938.7,1161.1 L941.3,1132.9 L943.9,1174.7 L946.5,1144.7 L949.1,1120.4 L951.7,1163.3 L954.3,1106.6 L956.9,1101.0 L959.5,1156.7 L962.1,1113.1 L964.7,1078.1 L967.3,1121.2 L969.9,1101.5 L972.5,1095.5 L975.1,1125.6 L977.7,1085.0 L980.3,1104.9 L982.9,1150.6 L985.5,1099.2 L988.1,1087.5 L990.7,1089.9 L993.3,1140.0 L995.9,1104.9 L998.5,1076.9 L1001.1,1117.8 L1003.7,1087.3 L1006.3,1083.7 L1008.9,1127.1 L1011.5,1100.7 L1014.1,1128.7 L1016.7,1079.0 L1019.3,1114.8 L1021.9,1128.3 L1024.5,1110.3 L1027.1,1112.5 L1029.7,1098.7 L1032.3,1097.3 L1034.9,1153.0 L1037.5,1135.6 L1040.1,1100.1 L1042.7,1093.3 L1045.3,1103.0 L1047.9,1013.3 L1050.5,1060.5 L1053.1,1076.5 L1055.7,1069.1 L1058.3,1048.6 L1060.9,1082.4 L1063.5,1155.5 L1066.1,1096.2 L1068.7,1100.6 L1071.3,1033.3 L1073.9,1169.4 L1076.5,1057.8 L1079.1,1117.0 L1081.7,1082.0 L1084.3,1124.1 L1086.9,1109.0 L1089.5,1077.2 L1092.1,1112.8 L1094.7,1080.9 L1097.3,1120.3 L1099.9,1133.2 L1102.5,1091.5" stroke="#D95319"/>
<path d="M120.8,467.5 L121.0,500.0 L121.6,596.6 L122.7,690.9 L124.5,787.9 L126.8,881.0 L127.8,885.2 L129.3,841.8 L130.4,895.2 L129.1,968.1 L132.2,1018.1 L136.5,1046.4 L143.0,1137.3 L145.6,1133.3 L148.2,1158.0 L150.8,1163.0 L153.4,1102.4 L156.0,1086.4 L158.6,1079.2 L161.2,1074.0 L163.8,1132.4 L166.4,1127.3 L169.0,1156.5 L171.6,1101.8 L174.2,1122.6 L176.8,1103.7 L179.4,1047.8 L182.0,1079.5 L184.6,1152.2 L187.2,1120.7 L189.8,1126.0 L192.4,1126.2 L195.0,1107.1 L197.6,1138.1 L200.2,1140.3 L202.8,1073.5 L205.4,1095.6 L208.0,1134.9 L210.6,1164.0 L213.2,1149.0 L215.8,1122.6 L218.4,1107.7 L221.0,1055.3 L223.6,1142.6 L226.2,1127.4 L228.8,1142.2 L231.4,1125.7 L234.0,1139.4 L236.6,1161.4 L239.2,1091.8 L243.3,1040.3 L247.8,1008.9 L253.4,1017.9 L252.3,953.9 L255.7,915.8 L259.0,912.4 L262.4,780.0 L266.1,551.2 L267.0,537.2 L267.9,551.2 L273.6,780.0 L274.7,820.4 L278.1,833.9 L281.5,950.6 L283.7,953.9 L288.2,1006.7 L290.0,1040.0 L293.8,1070.4 L296.4,1051.4 L299.0,1080.3 L301.6,1074.8 L304.2,1172.8 L306.8,1143.9 L309.4,1103.1 L312.0,1112.4 L314.6,1096.4 L317.2,1136.7 L319.8,1083.5 L322.4,1052.2 L325.0,1098.6 L327.6,1089.1 L330.2,1099.8 L332.8,1086.6 L335.4,1112.0 L338.0,1138.2 L340.6,1117.3 L343.2,1122.4 L345.8,1178.2 L348.4,1120.2 L351.0,1126.8 L353.6,1119.7 L356.2,1143.1 L358.8,1107.0 L361.4,1100.6 L364.0,1143.6 L366.6,1108.8 L369.2,1093.5 L371.8,1095.0 L374.4,1150.8 L377.0,1154.6 L379.6,1120.0 L382.2,1155.9 L384.8,1038.2 L387.4,1148.7 L390.0,1148.8 L392.6,1101.4 L395.2,1138.7 L397.8,1201.0 L400.4,1127.6 L403.0,1155.1 L405.6,1139.5 L408.2,1175.9 L410.8,1152.9 L413.4,1129.3 L416.0,1093.1 L418.6,1163.7 L421.2,1152.1 L423.8,1158.1 L426.4,1126.9 L429.0,1138.4 L431.6,1177.0 L434.2,1116.3 L436.8,1162.8 L439.4,1128.3 L442.0,1172.9 L444.6,1133.3 L447.2,1147.5 L449.8,1141.5 L452.4,1125.8 L455.0,1126.0 L457.6,1132.1 L460.2,1128.1 L462.8,1171.0 L465.4,1126.4 L468.0,1192.9 L470.6,1192.2 L473.2,1127.5 L475.8,1125.6 L478.4,1071.1 L481.0,1101.9 L483.6,1090.7 L486.2,1141.1 L488.8,1119.1 L491.4,1097.2 L494.0,1119.2 L496.6,1124.6 L499.2,1131.4 L501.8,1162.6 L504.4,1158.2 L507.0,1172.1 L509.6,1106.9 L512.2,1125.5 L514.8,1135.4 L517.4,1098.3 L520.0,1127.0 L522.6,1072.0 L525.2,1042.8 L527.8,1091.3 L530.4,1129.5 L533.0,1156.4 L535.6,1039.8 L538.2,1091.1 L540.8,1144.3 L543.4,1068.8 L546.0,1159.4 L548.6,1118.9 L551.2,1113.0 L553.8,1118.1 L556.4,1145.1 L559.0,1028.6 L561.6,1122.1 L564.2,1096.7 L566.8,1109.2 L569.4,1164.9 L572.0,1131.9 L574.6,1109.1 L577.2,1087.4 L579.8,1131.9 L582.4,1109.3 L585.0,1133.1 L587.6,1101.9 L590.2,1203.2 L592.8,1100.0 L595.4,1140.4 L598.0,1139.1 L600.6,1215.2 L603.2,1156.8 L605.8,1102.3 L608.4,1047.3 L611.0,1149.6 L613.6,1149.9 L616.2,1113.3 L618.8,1121.8 L621.4,1152.8 L624.0,1140.7 L626.6,1149.8 L629.2,1118.5 L631.8,1114.7 L634.4,1083.9 L637.0,1112.6 L639.6,1120.8 L642.2,1137.0 L644.8,1109.7 L647.4,1172.7 L650.0,1066.6 L652.6,1128.7 L655.2,1090.4 L657.8,1163.3 L660.4,1100.8 L663.0,1119.2 L665.6,1134.9 L668.2,1146.1 L670.8,1147.9 L673.4,1053.3 L676.0,1068.8 L678.6,1103.7 L681.2,1100.9 L683.8,1133.2 L686.4,1172.7 L689.0,1173.8 L691.6,1136.2 L694.2,1121.9 L696.8,1155.5 L699.4,1088.4 L702.0,1096.4 L704.6,1107.1 L707.2,1171.1 L709.8,1120.1 L712.4,1115.5 L715.0,1158.9 L717.6,1191.8 L720.2,1055.4 L722.8,1099.1 L725.4,1132.0 L728.0,1064.0 L730.6,1078.8 L733.2,1100.0 L735.8,1107.2 L738.4,1089.4 L741.0,1067.9 L743.6,1116.3 L746.2,1127.7 L748.8,1101.1 L751.4,1215.3 L754.0,1093.0 L756.6,1132.4 L759.2,1118.3 L761.8,1123.0 L764.4,1105.0 L767.0,1113.0 L769.6,1115.0 L772.2,1123.4 L774.8,1106.1 L777.4,1141.4 L780.0,1094.6 L782.6,1187.5 L785.2,1127.1 L787.8,1121.0 L790.4,1180.5 L793.0,1153.0 L795.6,1093.7 L798.2,1091.6 L800.8,1164.4 L803.4,1232.1 L806.0,1117.0 L808.6,1121.3 L811.2,1100.7 L813.8,1048.9 L816.4,1115.3 L819.0,1108.8 L821.6,1135.2 L824.2,1114.1 L826.8,1113.7 L829.4,1088.8 L832.0,1097.5 L834.6,1144.0 L837.2,1136.4 L839.8,1075.9 L842.4,1156.2 L845.0,1100.4 L847.6,1072.0 L850.2,1105.5 L852.8,1119.3 L855.4,1081.9 L858.0,1115.6 L860.6,1126.7 L863.2,1131.8 L865.8,1084.4 L868.4,1097.3 L871.0,1066.1 L873.6,1126.8 L876.2,1116.9 L878.8,1054.9 L881.4,994.2 L884.0,1133.1 L886.6,974.5 L889.2,918.7 L889.6,911.0 L891.8,964.7 L894.4,1212.2 L897.0,988.4 L899.6,1035.9 L902.2,1063.7 L904.8,1096.0 L907.4,1131.4 L910.0,1103.9 L912.6,1181.1 L915.2,1182.9 L917.8,1169.4 L920.4,1110.9 L923.0,1088.5 L925.6,1095.7 L928.2,1115.8 L930.8,1155.1 L933.4,1086.0 L936.0,1123.4 L938.6,1116.2 L941.2,1120.1 L943.8,1135.7 L946.4,1146.9 L949.0,1145.0 L951.6,1170.9 L954.2,1121.0 L956.8,1136.4 L959.4,1097.0 L962.0,1192.2 L964.6,1091.6 L967.2,1133.0 L969.8,1135.4 L972.4,1117.2 L975.0,1156.1 L977.6,1178.3 L980.2,1097.2 L982.8,1134.3 L985.4,1102.8 L988.0,1099.0 L990.6,1143.3 L993.2,1133.4 L995.8,1135.2 L998.4,1086.6 L1001.0,1113.8 L1003.6,1109.9 L1006.2,1089.0 L1008.8,1114.3 L1011.4,1042.3 L1014.0,1141.8 L1016.6,1068.1 L1019.2,1062.7 L1021.8,1147.6 L1024.4,1079.3 L1027.0,1097.9 L1029.6,1077.2 L1032.2,1146.0 L1034.8,1096.7 L1037.4,1137.1 L1040.0,1114.7 L1042.6,1055.5 L1045.2,1107.6 L1047.8,1179.0 L1050.4,1150.8 L1053.0,1142.9 L1055.6,1046.7 L1058.2,1131.7 L1060.8,1163.8 L1063.4,1077.7 L1066.0,1111.4 L1068.6,1113.0 L1071.2,1155.9 L1073.8,1085.0 L1076.4,1140.2 L1079.0,1204.7 L1081.6,1178.0 L1084.2,1168.7 L1086.8,1145.6 L1089.4,1113.5 L1092.0,1162.3 L1094.6,1156.3 L1097.2,1060.3 L1099.8,1130.1 L1102.4,1149.4" stroke="#EDB120"/>
<path d="M120.8,469.5 L121.0,500.0 L121.7,600.8 L123.2,707.5 L125.6,781.3 L128.5,877.1 L131.6,943.4 L135.0,1011.5 L138.9,1087.3 L144.2,1092.8 L146.8,1096.8 L149.4,1107.2 L152.0,1115.3 L154.6,1044.6 L157.2,1140.6 L159.8,1173.2 L162.4,1103.8 L165.0,1181.0 L167.6,1063.5 L170.2,1088.0 L172.8,1071.6 L175.4,1075.3 L178.0,1091.7 L180.6,1145.1 L183.2,1118.1 L185.8,1077.1 L188.4,1101.4 L191.0,1081.9 L193.6,1117.5 L196.2,1122.0 L198.8,1087.5 L201.4,1074.7 L204.0,1101.6 L206.6,1136.4 L209.2,1161.3 L211.8,1039.9 L214.4,1146.3 L217.0,1137.6 L219.6,1132.4 L222.2,1077.5 L224.8,1131.7 L227.4,1087.5 L230.0,1095.8 L232.6,1144.2 L235.2,1101.9 L237.8,1149.8 L240.4,1116.7 L243.0,1089.3 L245.6,1124.9 L248.2,1150.6 L250.8,1137.1 L253.4,1131.6 L256.0,1115.5 L258.6,1203.3 L261.2,1187.5 L263.8,1108.0 L266.4,1125.9 L269.0,1119.0 L271.6,1109.6 L274.2,1119.7 L276.8,1127.3 L279.4,1107.3 L282.0,1088.3 L284.6,1099.7 L287.2,1111.9 L289.8,1149.7 L292.4,1110.4 L295.0,1160.4 L297.6,1148.0 L299.8,1044.4 L300.9,979.3 L302.1,918.8 L306.7,900.2 L309.1,918.8 L310.7,891.0 L312.6,891.0 L314.9,816.5 L317.2,770.0 L320.6,544.9 L321.5,530.9 L322.4,544.9 L326.5,770.0 L328.8,839.8 L328.8,904.9 L332.3,918.8 L335.8,923.5 L338.1,909.5 L339.3,979.3 L340.5,1025.8 L344.4,1152.1 L347.0,1107.3 L349.6,1114.9 L352.2,1093.4 L354.8,1072.6 L357.4,1112.0 L360.0,1120.9 L362.6,1083.5 L365.2,1159.9 L367.8,1108.9 L370.4,1151.1 L373.0,1162.6 L375.6,1179.1 L378.2,1184.7 L380.8,1103.9 L383.4,1102.6 L386.0,1126.6 L388.6,1092.8 L391.2,1122.6 L393.8,1136.4 L396.4,1152.8 L399.0,1055.9 L401.6,1086.9 L404.2,1072.1 L406.8,1141.2 L409.4,1125.0 L412.0,1161.1 L414.6,1078.5 L417.2,1093.0 L419.8,1099.0 L422.4,1116.0 L425.0,1119.6 L427.6,1126.1 L430.2,1076.8 L432.8,1133.2 L435.4,1081.8 L438.0,1101.1 L440.6,1143.9 L443.2,1159.0 L445.8,1138.2 L448.4,1114.9 L451.0,1158.2 L453.6,1095.7 L456.2,1079.1 L458.8,1098.4 L461.4,1171.2 L464.0,1191.0 L466.6,1081.9 L469.2,1059.3 L471.8,1120.9 L474.4,1090.2 L477.0,1117.7 L479.6,1132.2 L482.2,1080.9 L484.8,1135.5 L487.4,1091.7 L490.0,1019.9 L492.6,1126.7 L495.2,1059.8 L497.8,1164.2 L500.4,1087.3 L503.0,1114.8 L505.6,1027.0 L508.2,1109.4 L510.8,1136.7 L513.4,1056.8 L516.0,1164.0 L518.6,1100.5 L521.2,1143.2 L523.8,1073.4 L526.4,1123.8 L529.0,1091.8 L531.6,1100.3 L534.2,1155.4 L536.8,1189.2 L539.4,1056.3 L542.0,1107.1 L544.6,1152.4 L547.2,1123.7 L549.8,1080.0 L552.4,1163.5 L555.0,1039.0 L557.6,1124.9 L560.2,1130.5 L562.8,1076.4 L565.4,1113.2 L568.0,1153.9 L570.6,1089.5 L573.2,1105.1 L575.8,1082.7 L578.4,1151.9 L581.0,1159.2 L583.6,1100.8 L586.2,1136.0 L588.8,1192.9 L591.4,1139.0 L594.0,1096.9 L596.6,1140.8 L599.2,1072.5 L601.8,1131.3 L604.4,1117.0 L607.0,1167.8 L609.6,1139.9 L612.2,1119.0 L614.8,1093.0 L617.4,1105.7 L620.0,1076.0 L622.6,1184.0 L625.2,1109.7 L627.8,1114.8 L630.4,1144.3 L633.0,1109.7 L635.6,1088.8 L638.2,1091.1 L640.8,1115.3 L643.4,1084.8 L646.0,1130.6 L648.6,1055.9 L651.2,1084.0 L653.8,1036.8 L656.4,1101.1 L659.0,1113.9 L661.6,1093.6 L664.2,1115.7 L666.8,1137.6 L669.4,1105.2 L672.0,1111.3 L674.6,1134.2 L677.2,1128.5 L679.8,1151.0 L682.4,1115.3 L685.0,1166.5 L687.6,1064.7 L690.2,1120.6 L692.8,1089.5 L695.4,1161.4 L698.0,1109.3 L700.6,1125.4 L703.2,1087.9 L705.8,1091.6 L708.4,1175.7 L711.0,1081.0 L713.6,1168.9 L716.2,1072.3 L718.8,1118.3 L721.4,1156.9 L724.0,1094.0 L726.6,1118.7 L729.2,1156.6 L731.8,1151.6 L734.4,1113.9 L737.0,1178.7 L739.6,1162.7 L742.2,1070.9 L744.8,1133.6 L747.4,1116.4 L750.0,1110.0 L752.6,1088.1 L755.2,1086.3 L757.8,1197.1 L760.4,1125.3 L763.0,1067.4 L765.6,1134.2 L768.2,1047.0 L770.8,1101.8 L773.4,1152.6 L776.0,1092.5 L778.6,1045.1 L781.2,1132.0 L783.8,1088.8 L786.4,1136.6 L789.0,1126.6 L791.6,1104.7 L794.2,1094.3 L796.8,1103.5 L799.4,1112.2 L802.0,1001.4 L804.6,1161.6 L807.2,1189.3 L809.8,1107.7 L812.4,1120.1 L815.0,1174.3 L817.6,1066.4 L820.2,1147.2 L822.8,1169.7 L825.4,1105.8 L828.0,1096.3 L830.6,1036.2 L833.2,1166.2 L835.8,1156.2 L838.4,1121.5 L841.0,1126.7 L843.6,1114.5 L846.2,1136.4 L848.8,1165.3 L851.4,1127.5 L854.0,1087.6 L856.6,1083.2 L859.2,1129.7 L861.8,1039.3 L864.4,1086.7 L867.0,1113.8 L869.6,1105.9 L872.2,1089.8 L874.8,994.8 L877.4,1040.8 L880.0,1036.8 L882.6,1021.9 L885.2,1015.2 L887.8,974.7 L889.5,926.2 L890.4,939.9 L893.0,1143.0 L895.6,1080.0 L898.2,1034.2 L900.8,1066.1 L903.4,1080.6 L906.0,1145.9 L908.6,1053.1 L911.2,1130.3 L913.8,1131.9 L916.4,1069.7 L919.0,1114.1 L921.6,1063.2 L924.2,1071.0 L926.8,1131.7 L929.4,1079.5 L932.0,1027.9 L934.6,1071.2 L937.2,1078.9 L939.8,1088.2 L942.4,1159.9 L945.0,1165.0 L947.6,1119.2 L950.2,1192.0 L952.8,1117.7 L955.4,1109.9 L958.0,1102.4 L960.6,1103.1 L963.2,1073.6 L965.8,1131.0 L968.4,1074.8 L971.0,1104.0 L973.6,1105.2 L976.2,1129.6 L978.8,1092.5 L981.4,1151.0 L984.0,1100.3 L986.6,1085.7 L989.2,1144.1 L991.8,1150.3 L994.4,1139.6 L997.0,1110.3 L999.6,1091.8 L1002.2,1069.9 L1004.8,1031.6 L1007.4,1038.3 L1010.0,1083.1 L1012.6,1105.6 L1015.2,1134.7 L1017.8,1067.8 L1020.4,1081.1 L1023.0,1111.2 L1025.6,1109.8 L1028.2,1110.1 L1030.8,1195.0 L1033.4,1059.8 L1036.0,1097.1 L1038.6,1113.1 L1041.2,1146.1 L1043.8,1109.8 L1046.4,1096.4 L1049.0,1052.4 L1051.6,1078.2 L1054.2,1094.1 L1056.8,1116.1 L1059.4,1160.2 L1062.0,1131.6 L1064.6,1163.9 L1067.2,1123.4 L1069.8,1086.6 L1072.4,1090.4 L1075.0,1098.1 L1077.6,1130.4 L1080.2,1098.6 L1082.8,1141.7 L1085.4,1198.1 L1088.0,1124.6 L1090.6,1125.5 L1093.2,1183.5 L1095.8,1139.8 L1098.4,1203.1 L1101.0,1134.3 L1103.6,1075.2" stroke="#7E2F8E"/>
<path d="M120.8,471.5 L121.0,500.0 L121.7,604.3 L123.0,701.6 L125.1,795.3 L127.7,872.3 L130.5,958.4 L133.8,990.5 L137.3,1093.1 L143.1,1136.2 L145.7,1075.4 L148.3,1130.0 L150.9,1143.0 L153.5,1097.1 L156.1,1144.6 L158.7,1115.6 L161.3,1124.8 L163.9,1199.4 L166.5,1194.7 L169.1,1246.5 L171.7,1130.4 L174.3,1129.8 L176.9,1153.1 L179.5,1149.3 L182.1,1138.1 L184.7,1144.4 L187.3,1121.0 L189.9,1118.4 L192.5,1145.5 L195.1,1067.3 L197.7,1082.0 L200.3,1131.4 L202.9,1047.8 L205.5,1042.4 L208.1,1087.3 L210.7,1063.7 L213.3,1156.4 L215.9,1149.7 L218.5,1163.8 L221.1,1153.7 L223.7,1105.8 L226.3,1151.6 L228.9,1194.2 L231.5,1084.9 L234.1,1074.7 L236.7,1092.7 L239.3,1197.6 L241.9,1120.7 L244.5,1177.6 L247.1,1154.6 L249.7,1125.5 L252.3,1095.5 L254.9,1164.9 L257.5,1151.6 L260.1,1177.9 L262.7,1130.3 L265.3,1158.7 L267.9,1138.3 L270.5,1092.6 L273.1,1116.4 L275.7,1110.9 L278.3,1105.5 L280.9,1088.8 L283.5,1071.0 L286.1,1159.3 L288.7,1176.8 L291.3,1107.8 L293.9,1103.8 L296.5,1081.4 L299.1,1101.7 L301.7,1068.3 L304.3,1106.5 L306.9,1141.2 L309.5,1081.5 L312.1,1114.7 L314.7,1130.0 L317.3,1089.8 L319.9,1110.1 L322.5,1068.9 L325.1,1112.8 L327.7,1039.0 L330.3,1136.3 L332.9,1079.5 L335.5,1121.0 L338.1,1021.1 L340.7,1081.9 L345.0,1040.0 L347.4,958.4 L349.8,956.0 L351.6,900.2 L354.4,893.3 L356.7,946.7 L360.2,863.0 L362.6,770.0 L366.6,544.0 L367.5,530.0 L368.4,544.0 L373.0,770.0 L374.2,839.8 L375.3,946.7 L380.0,932.8 L383.5,942.1 L389.3,1002.6 L392.8,1025.8 L395.3,1138.2 L397.9,1093.5 L400.5,1109.1 L403.1,1131.3 L405.7,1160.0 L408.3,1119.5 L410.9,1141.3 L413.5,1094.2 L416.1,1064.0 L418.7,1117.9 L421.3,1159.0 L423.9,1040.5 L426.5,1100.0 L429.1,1104.8 L431.7,1120.9 L434.3,1121.1 L436.9,1125.4 L439.5,1120.7 L442.1,1180.3 L444.7,1153.3 L447.3,1131.5 L449.9,1122.7 L452.5,1120.4 L455.1,1112.1 L457.7,1187.8 L460.3,1158.1 L462.9,1146.7 L465.5,1117.7 L468.1,1126.1 L470.7,1049.6 L473.3,1126.0 L475.9,1118.1 L478.5,1159.6 L481.1,1043.5 L483.7,1100.9 L486.3,1107.0 L488.9,1125.1 L491.5,1101.4 L494.1,1117.7 L496.7,1066.9 L499.3,1137.6 L501.9,1127.6 L504.5,1133.9 L507.1,1099.3 L509.7,1111.6 L512.3,1093.7 L514.9,1113.2 L517.5,1116.9 L520.1,1138.6 L522.7,1113.3 L525.3,1129.6 L527.9,1135.3 L530.5,1200.0 L533.1,1159.8 L535.7,1164.8 L538.3,1200.2 L540.9,1091.7 L543.5,1083.9 L546.1,1093.2 L548.7,1108.0 L551.3,1075.0 L553.9,1180.7 L556.5,1080.8 L559.1,1192.7 L561.7,1119.9 L564.3,1122.6 L566.9,1110.4 L569.5,1106.6 L572.1,1071.6 L574.7,1154.2 L577.3,1154.8 L579.9,1161.9 L582.5,1131.7 L585.1,1149.9 L587.7,1194.4 L590.3,1110.4 L592.9,1182.8 L595.5,1161.7 L598.1,1170.4 L600.7,1169.7 L603.3,1123.3 L605.9,1163.9 L608.5,1186.0 L611.1,1118.4 L613.7,1166.3 L616.3,1181.3 L618.9,1097.7 L621.5,1089.9 L624.1,1178.7 L626.7,1078.9 L629.3,1071.7 L631.9,1181.8 L634.5,1121.7 L637.1,1145.4 L639.7,1107.6 L642.3,1233.8 L644.9,1112.6 L647.5,1145.0 L650.1,1115.9 L652.7,1102.1 L655.3,1212.1 L657.9,1134.7 L660.5,1133.5 L663.1,1112.8 L665.7,1093.9 L668.3,1105.2 L670.9,1155.0 L673.5,1103.3 L676.1,1151.6 L678.7,1099.4 L681.3,1131.0 L683.9,1131.1 L686.5,1120.4 L689.1,1178.4 L691.7,1135.0 L694.3,1164.0 L696.9,1092.1 L699.5,1080.6 L702.1,1172.6 L704.7,1200.2 L707.3,1117.1 L709.9,1144.8 L712.5,1156.6 L715.1,1000.8 L717.7,1136.2 L720.3,1154.7 L722.9,1127.4 L725.5,1107.1 L728.1,1063.3 L730.7,1106.2 L733.3,1159.6 L735.9,1134.9 L738.5,1057.2 L741.1,1178.6 L743.7,1122.3 L746.3,1081.9 L748.9,1114.1 L751.5,1132.5 L754.1,1157.6 L756.7,1125.2 L759.3,1115.8 L761.9,1128.5 L764.5,1103.7 L767.1,1132.9 L769.7,1096.9 L772.3,1135.7 L774.9,1109.1 L777.5,1149.4 L780.1,1078.2 L782.7,1093.2 L785.3,1111.1 L787.9,1167.3 L790.5,1127.5 L793.1,1233.3 L795.7,1146.9 L798.3,1129.4 L800.9,1164.1 L803.5,1129.1 L806.1,1111.3 L808.7,1071.9 L811.3,1130.9 L813.9,1182.5 L816.5,1206.2 L819.1,1129.4 L821.7,1054.6 L824.3,1079.2 L826.9,1111.1 L829.5,1135.4 L832.1,1137.2 L834.7,1119.9 L837.3,1114.9 L839.9,1080.1 L842.5,1120.1 L845.1,1014.0 L847.7,1121.7 L850.3,1109.9 L852.9,1090.0 L855.5,1091.4 L858.1,1143.2 L860.7,1174.1 L863.3,1161.7 L865.9,1104.0 L868.5,1095.5 L871.1,1103.3 L873.7,1087.9 L876.3,1047.2 L878.9,1012.7 L881.5,1028.9 L884.1,1002.2 L886.7,956.0 L888.7,897.9 L889.3,912.2 L891.9,991.6 L894.5,975.7 L897.1,1002.7 L899.7,1024.6 L902.3,1083.3 L904.9,1133.3 L907.5,1055.4 L910.1,1156.3 L912.7,1118.4 L915.3,1143.5 L917.9,1076.7 L920.5,1094.2 L923.1,1181.0 L925.7,1161.9 L928.3,1118.5 L930.9,1148.0 L933.5,1111.3 L936.1,1123.0 L938.7,1161.3 L941.3,1133.8 L943.9,1106.0 L946.5,1122.6 L949.1,1113.2 L951.7,1102.9 L954.3,1080.6 L956.9,1066.1 L959.5,1131.3 L962.1,1093.0 L964.7,1125.7 L967.3,1094.5 L969.9,1080.1 L972.5,1088.0 L975.1,1087.8 L977.7,1086.0 L980.3,1094.5 L982.9,1092.2 L985.5,1088.6 L988.1,1081.1 L990.7,1085.8 L993.3,1107.3 L995.9,1109.7 L998.5,1189.1 L1001.1,1152.5 L1003.7,1134.4 L1006.3,1096.0 L1008.9,1090.9 L1011.5,1127.2 L1014.1,1170.2 L1016.7,1115.7 L1019.3,1098.1 L1021.9,1104.6 L1024.5,1153.0 L1027.1,1164.8 L1029.7,1157.9 L1032.3,1163.3 L1034.9,1093.0 L1037.5,1116.3 L1040.1,1054.2 L1042.7,1071.3 L1045.3,1092.4 L1047.9,1148.7 L1050.5,1102.4 L1053.1,1108.5 L1055.7,1170.5 L1058.3,1165.5 L1060.9,1147.5 L1063.5,1080.2 L1066.1,1136.2 L1068.7,1169.9 L1071.3,1120.9 L1073.9,1104.7 L1076.5,1167.5 L1079.1,1063.7 L1081.7,1155.1 L1084.3,1095.1 L1086.9,1107.6 L1089.5,1154.2 L1092.1,1131.2 L1094.7,1123.8 L1097.3,1133.6 L1099.9,1093.4 L1102.5,1115.1" stroke="#77AC30"/>
<path d="M120.8,473.5 L121.0,500.0 L122.0,606.3 L124.1,713.5 L127.8,783.9 L132.0,880.2 L136.7,967.9 L140.7,996.6 L144.7,1069.0 L145.9,1119.9 L148.5,1124.5 L151.1,1104.7 L153.7,1084.6 L156.3,1065.2 L158.9,1150.2 L161.5,1123.6 L164.1,1187.6 L166.7,1127.6 L169.3,1088.0 L171.9,1096.8 L174.5,1041.0 L177.1,1099.9 L179.7,1139.4 L182.3,1152.1 L184.9,1118.0 L187.5,1070.7 L190.1,1170.1 L192.7,1159.6 L195.3,1123.7 L197.9,1138.1 L200.5,1095.9 L203.1,1142.4 L205.7,1124.8 L208.3,1126.0 L210.9,1117.0 L213.5,1075.6 L216.1,1164.4 L218.7,1176.8 L221.3,1165.9 L223.9,1122.3 L226.5,1106.1 L229.1,1089.7 L231.7,1095.7 L234.3,1100.6 L236.9,1165.2 L239.5,1126.9 L242.1,1090.7 L244.7,1150.5 L247.3,1128.2 L249.9,1130.9 L252.5,1103.7 L255.1,1155.1 L257.7,1186.0 L260.3,1144.1 L262.9,1143.4 L265.5,1105.9 L268.1,1155.1 L270.7,1141.1 L273.3,1148.5 L275.9,1143.7 L278.5,1052.2 L281.1,1206.6 L283.7,1096.7 L286.3,1143.1 L288.9,1113.9 L291.5,1171.6 L294.1,1115.4 L296.7,1153.6 L299.3,1109.8 L301.9,1084.6 L304.5,1175.1 L307.1,1187.3 L309.7,1064.4 L312.3,1062.2 L314.9,1126.5 L317.5,1195.2 L320.1,1175.2 L322.7,1086.2 L325.3,1056.3 L327.9,1118.4 L330.5,1158.1 L333.1,1069.8 L335.7,1115.2 L338.3,1127.2 L340.9,1081.1 L343.5,1121.2 L346.1,1079.7 L348.7,1131.9 L351.3,1095.4 L353.9,1066.2 L356.5,1069.8 L359.1,1064.8 L361.7,1127.3 L364.3,1176.0 L366.9,1089.4 L369.5,1113.2 L372.1,1111.6 L374.7,1134.6 L377.3,1104.7 L379.9,1153.5 L382.5,1087.3 L385.1,1050.8 L387.7,1102.2 L390.3,1100.1 L392.9,1075.4 L397.0,1045.0 L399.8,1002.6 L402.5,930.0 L405.6,849.0 L411.4,974.7 L412.5,930.0 L413.7,840.0 L414.9,784.0 L417.2,770.0 L420.7,537.7 L421.6,523.7 L422.5,537.7 L426.5,770.0 L430.0,886.3 L432.3,979.3 L434.7,970.0 L438.1,991.0 L441.0,1040.0 L444.9,1102.6 L447.5,1144.3 L450.1,1160.6 L452.7,1120.8 L455.3,1088.6 L457.9,1093.1 L460.5,1152.9 L463.1,1137.0 L465.7,1109.0 L468.3,1140.0 L470.9,1167.4 L473.5,1111.7 L476.1,1129.3 L478.7,1106.2 L481.3,1086.9 L483.9,1132.4 L486.5,1154.3 L489.1,1141.1 L491.7,1087.8 L494.3,1109.3 L496.9,1084.3 L499.5,1120.9 L502.1,1083.0 L504.7,1124.4 L507.3,1130.6 L509.9,1110.7 L512.5,1116.7 L515.1,1122.6 L517.7,1114.4 L520.3,1085.0 L522.9,1141.3 L525.5,1178.4 L528.1,1104.6 L530.7,1054.2 L533.3,1081.9 L535.9,1157.3 L538.5,1100.1 L541.1,1076.4 L543.7,1082.8 L546.3,1050.5 L548.9,1083.2 L551.5,1206.8 L554.1,1092.6 L556.7,1138.9 L559.3,1144.9 L561.9,1172.6 L564.5,1158.4 L567.1,1127.3 L569.7,1076.9 L572.3,1074.0 L574.9,1088.7 L577.5,1067.8 L580.1,1122.8 L582.7,1138.2 L585.3,1045.8 L587.9,1097.8 L590.5,1129.2 L593.1,1095.5 L595.7,1150.2 L598.3,1074.3 L600.9,1175.7 L603.5,1151.8 L606.1,1141.0 L608.7,1142.1 L611.3,1177.7 L613.9,1104.4 L616.5,1110.9 L619.1,1128.4 L621.7,1109.0 L624.3,1143.1 L626.9,1093.0 L629.5,1144.3 L632.1,1159.6 L634.7,1127.0 L637.3,1125.1 L639.9,1103.8 L642.5,1090.5 L645.1,1054.1 L647.7,1156.3 L650.3,1164.8 L652.9,1100.5 L655.5,1065.4 L658.1,1074.7 L660.7,1113.6 L663.3,1118.2 L665.9,1120.4 L668.5,1050.7 L671.1,1119.1 L673.7,1102.2 L676.3,1156.0 L678.9,1083.7 L681.5,1119.9 L684.1,1124.4 L686.7,1125.3 L689.3,1119.4 L691.9,1022.6 L694.5,1093.7 L697.1,1091.8 L699.7,1139.6 L702.3,1160.8 L704.9,1184.4 L707.5,1129.4 L710.1,1101.7 L712.7,1097.7 L715.3,1153.3 L717.9,1080.7 L720.5,1121.4 L723.1,1063.9 L725.7,1111.2 L728.3,1101.2 L730.9,1127.5 L733.5,1125.7 L736.1,1100.7 L738.7,1082.2 L741.3,1077.2 L743.9,1126.0 L746.5,1144.7 L749.1,1088.6 L751.7,1059.4 L754.3,1118.7 L756.9,1114.9 L759.5,1113.3 L762.1,1084.7 L764.7,1061.9 L767.3,1125.2 L769.9,1079.4 L772.5,1047.8 L775.1,1079.8 L777.7,1130.7 L780.3,1159.0 L782.9,1071.4 L785.5,1072.6 L788.1,1093.5 L790.7,1072.2 L793.3,1131.8 L795.9,1114.6 L798.5,1140.2 L801.1,1090.1 L803.7,1111.1 L806.3,1127.4 L808.9,1110.8 L811.5,1076.8 L814.1,1065.6 L816.7,1069.2 L819.3,1018.7 L821.9,1074.5 L824.5,1134.2 L827.1,1070.7 L829.7,1139.8 L832.3,1151.9 L834.9,1094.0 L837.5,1140.6 L840.1,1122.3 L842.7,1140.7 L845.3,1130.7 L847.9,1183.3 L850.5,1095.3 L853.1,1084.8 L855.7,1134.3 L858.3,1084.0 L860.9,1096.2 L863.5,1083.6 L866.1,1072.5 L868.7,1161.8 L871.3,1091.7 L873.9,1105.6 L876.5,1091.8 L879.1,1023.8 L881.7,1048.7 L884.3,978.9 L886.9,977.4 L888.8,917.1 L889.5,993.3 L892.1,956.1 L894.7,1115.8 L897.3,1026.3 L899.9,1089.4 L902.5,1169.2 L905.1,1081.8 L907.7,1106.1 L910.3,1131.4 L912.9,1137.7 L915.5,1164.1 L918.1,1123.4 L920.7,1128.8 L923.3,1069.4 L925.9,1103.9 L928.5,1136.2 L931.1,1080.1 L933.7,1089.8 L936.3,1110.1 L938.9,1143.7 L941.5,1121.0 L944.1,1153.6 L946.7,1189.1 L949.3,1123.7 L951.9,1100.0 L954.5,1176.3 L957.1,1074.3 L959.7,1134.1 L962.3,1121.7 L964.9,1100.4 L967.5,1092.2 L970.1,1144.8 L972.7,1095.7 L975.3,1134.4 L977.9,1206.8 L980.5,1052.2 L983.1,1119.8 L985.7,1131.4 L988.3,1073.9 L990.9,1101.4 L993.5,1132.6 L996.1,1102.9 L998.7,1095.9 L1001.3,1068.0 L1003.9,1184.1 L1006.5,1098.9 L1009.1,1137.2 L1011.7,1142.8 L1014.3,1108.0 L1016.9,1038.8 L1019.5,1154.0 L1022.1,1104.9 L1024.7,1167.4 L1027.3,1174.2 L1029.9,1134.9 L1032.5,1093.9 L1035.1,1117.3 L1037.7,1117.8 L1040.3,1085.0 L1042.9,1107.4 L1045.5,1140.5 L1048.1,1149.2 L1050.7,1123.9 L1053.3,1098.8 L1055.9,1119.9 L1058.5,1115.6 L1061.1,1125.9 L1063.7,1134.2 L1066.3,1147.9 L1068.9,1135.0 L1071.5,1023.7 L1074.1,1074.1 L1076.7,1065.3 L1079.3,1109.9 L1081.9,1119.7 L1084.5,1089.7 L1087.1,1131.7 L1089.7,1081.9 L1092.3,1117.4 L1094.9,1096.3 L1097.5,1150.3 L1100.1,1063.3 L1102.7,1118.3" stroke="#4DBEEE"/>
<path d="M120.8,475.5 L121.0,500.0 L121.7,590.3 L123.1,694.9 L125.5,804.2 L128.4,858.0 L129.6,921.8 L131.1,895.6 L132.3,931.8 L131.4,955.7 L134.8,1019.6 L139.8,1056.1 L142.6,1106.1 L145.2,1097.5 L147.8,1136.4 L150.4,1091.9 L153.0,1026.4 L155.6,1088.1 L158.2,1116.9 L160.8,1100.3 L163.4,1106.0 L166.0,1101.8 L168.6,1077.1 L171.2,1063.7 L173.8,1099.5 L176.4,1075.5 L179.0,1092.9 L181.6,1097.5 L184.2,1091.0 L186.8,1092.5 L189.4,1110.3 L192.0,1098.2 L194.6,1076.2 L197.2,1086.9 L199.8,1090.4 L202.4,1133.0 L205.0,1170.9 L207.6,1130.8 L210.2,1117.9 L212.8,1110.1 L215.4,1070.4 L218.0,1104.5 L220.6,1066.1 L223.2,1126.5 L225.8,1148.6 L228.4,1083.4 L231.0,1149.7 L233.6,1165.3 L236.2,1133.0 L238.8,1105.4 L241.4,1082.6 L244.0,1121.3 L246.6,1093.5 L249.2,1125.1 L251.8,1178.0 L254.4,1158.3 L257.0,1132.9 L259.6,1120.4 L262.2,1179.0 L264.8,1154.2 L267.4,1133.2 L270.0,1076.9 L272.6,1092.0 L275.2,1126.9 L277.8,1113.0 L280.4,1133.0 L283.0,1039.0 L285.6,1189.1 L288.2,1204.8 L290.8,1204.3 L293.4,1190.1 L296.0,1156.0 L298.6,1114.1 L301.2,1152.8 L303.8,1152.4 L306.4,1146.0 L309.0,1130.9 L311.6,1163.2 L314.2,1107.4 L316.8,1125.8 L319.4,1113.0 L322.0,1101.2 L324.6,1100.0 L327.2,1093.5 L329.8,1149.4 L332.4,1106.4 L335.0,1174.1 L337.6,1192.1 L340.2,1134.4 L342.8,1106.6 L345.4,1101.7 L348.0,1102.9 L350.6,1083.8 L353.2,1167.9 L355.8,1126.0 L358.4,1114.6 L361.0,1133.8 L363.6,1096.9 L366.2,1089.7 L368.8,1100.5 L371.4,1109.6 L374.0,1040.8 L376.6,1118.9 L379.2,1125.5 L381.8,1091.2 L384.4,1075.8 L387.0,1169.0 L389.6,1173.8 L392.2,1097.3 L394.8,1103.8 L397.4,1110.6 L400.0,1143.5 L402.6,1109.5 L405.2,1173.4 L407.8,1160.8 L410.4,1068.5 L413.0,1158.4 L415.6,1120.6 L418.2,1094.2 L420.8,1105.2 L423.4,1153.0 L426.0,1139.0 L428.6,1103.6 L431.2,1140.2 L433.8,1074.7 L436.4,1135.6 L439.0,1072.9 L441.6,1133.8 L444.2,1092.8 L448.1,1042.0 L450.5,956.0 L452.8,909.5 L456.7,877.0 L459.8,972.3 L462.1,870.0 L464.4,770.0 L468.9,552.2 L469.8,538.2 L470.7,552.2 L476.0,770.0 L478.4,851.4 L481.9,921.2 L484.2,923.5 L486.5,915.3 L488.8,956.0 L491.2,1002.6 L492.5,1045.0 L496.2,1047.5 L498.8,1076.5 L501.4,1058.0 L504.0,1102.9 L506.6,1093.5 L509.2,1127.8 L511.8,1159.5 L514.4,1154.8 L517.0,1117.5 L519.6,1093.6 L522.2,1039.9 L524.8,1120.2 L527.4,1171.6 L530.0,1136.1 L532.6,1108.0 L535.2,1162.3 L537.8,1138.5 L540.4,1103.9 L543.0,1114.1 L545.6,1101.3 L548.2,1111.7 L550.8,1112.9 L553.4,1066.5 L556.0,1081.3 L558.6,1102.6 L561.2,1093.8 L563.8,1113.5 L566.4,1114.4 L569.0,1100.5 L571.6,1108.8 L574.2,1034.2 L576.8,1112.4 L579.4,1109.9 L582.0,1056.7 L584.6,1159.7 L587.2,1128.0 L589.8,1091.6 L592.4,1126.1 L595.0,1133.4 L597.6,1157.2 L600.2,1126.4 L602.8,1147.0 L605.4,1086.6 L608.0,1074.0 L610.6,1126.5 L613.2,1078.5 L615.8,1149.4 L618.4,1144.3 L621.0,1091.9 L623.6,1107.5 L626.2,1154.7 L628.8,1143.0 L631.4,1128.1 L634.0,1144.0 L636.6,1119.0 L639.2,1132.1 L641.8,1114.8 L644.4,1134.7 L647.0,1122.2 L649.6,1148.7 L652.2,1122.4 L654.8,1123.6 L657.4,1111.6 L660.0,1122.0 L662.6,1144.2 L665.2,1130.9 L667.8,1083.4 L670.4,1131.4 L673.0,1118.2 L675.6,1067.1 L678.2,1097.3 L680.8,1096.2 L683.4,1148.1 L686.0,1149.7 L688.6,1074.1 L691.2,1052.6 L693.8,1180.3 L696.4,1176.2 L699.0,1102.7 L701.6,1112.5 L704.2,1153.1 L706.8,1092.6 L709.4,1117.1 L712.0,1140.4 L714.6,1128.8 L717.2,1144.7 L719.8,1117.5 L722.4,1149.8 L725.0,1162.8 L727.6,1148.1 L730.2,1111.5 L732.8,1086.0 L735.4,1142.8 L738.0,1155.2 L740.6,1112.7 L743.2,1085.8 L745.8,1107.8 L748.4,1070.6 L751.0,1142.8 L753.6,1068.9 L756.2,1090.6 L758.8,1165.7 L761.4,1091.5 L764.0,1091.2 L766.6,1110.7 L769.2,1126.6 L771.8,1100.0 L774.4,1119.7 L777.0,1092.1 L779.6,1060.5 L782.2,1049.5 L784.8,1058.0 L787.4,1066.3 L790.0,1082.2 L792.6,1105.4 L795.2,1091.8 L797.8,1072.4 L800.4,1122.6 L803.0,1105.0 L805.6,1157.7 L808.2,1100.8 L810.8,1071.9 L813.4,1120.9 L816.0,1089.8 L818.6,1125.0 L821.2,1093.6 L823.8,1137.4 L826.4,1209.0 L829.0,1111.0 L831.6,1107.5 L834.2,1105.1 L836.8,1069.7 L839.4,1096.3 L842.0,1112.6 L844.6,1150.4 L847.2,1035.8 L849.8,1174.9 L852.4,1144.2 L855.0,1148.3 L857.6,1097.8 L860.2,1121.9 L862.8,1115.5 L865.4,1189.8 L868.0,1149.5 L870.6,1097.9 L873.2,1146.4 L875.8,1119.7 L878.4,1058.9 L881.0,1141.1 L883.6,1022.0 L886.2,951.3 L888.8,937.2 L889.6,907.5 L891.4,1108.1 L894.0,969.6 L896.6,1003.3 L899.2,1016.6 L901.8,1070.7 L904.4,1090.3 L907.0,1086.1 L909.6,1133.8 L912.2,1104.1 L914.8,1057.2 L917.4,1168.7 L920.0,1086.2 L922.6,1092.7 L925.2,1174.1 L927.8,1179.8 L930.4,1145.2 L933.0,1081.3 L935.6,1145.9 L938.2,1121.6 L940.8,1115.9 L943.4,1119.7 L946.0,1049.8 L948.6,1104.5 L951.2,1152.1 L953.8,1105.5 L956.4,1095.8 L959.0,1153.7 L961.6,1113.6 L964.2,1139.9 L966.8,1162.6 L969.4,1148.5 L972.0,1090.9 L974.6,1121.3 L977.2,1168.2 L979.8,1089.5 L982.4,1123.0 L985.0,1210.2 L987.6,1151.2 L990.2,1196.1 L992.8,1142.9 L995.4,1036.0 L998.0,1062.7 L1000.6,1122.8 L1003.2,1160.4 L1005.8,1170.4 L1008.4,1154.5 L1011.0,1119.6 L1013.6,1083.6 L1016.2,1121.1 L1018.8,1080.4 L1021.4,1125.4 L1024.0,1190.5 L1026.6,1112.1 L1029.2,1090.0 L1031.8,1104.9 L1034.4,1088.0 L1037.0,1154.2 L1039.6,1131.6 L1042.2,1120.6 L1044.8,1108.5 L1047.4,1099.8 L1050.0,1085.1 L1052.6,1129.9 L1055.2,1150.9 L1057.8,1090.1 L1060.4,1123.2 L1063.0,1132.8 L1065.6,1150.9 L1068.2,1094.2 L1070.8,1093.8 L1073.4,1095.5 L1076.0,1104.1 L1078.6,1112.8 L1081.2,1145.1 L1083.8,1142.2 L1086.4,1117.4 L1089.0,1185.2 L1091.6,1113.4 L1094.2,1183.7 L1096.8,1055.5 L1099.4,1092.6 L1102.0,1131.7" stroke="#A2142F"/>
<path d="M120.8,477.5 L121.0,500.0 L121.8,597.6 L123.3,709.0 L125.8,818.0 L128.9,856.9 L130.1,902.5 L131.6,859.7 L132.9,912.5 L132.2,940.8 L135.7,999.5 L140.2,1050.3 L142.6,1148.3 L145.2,1151.6 L147.8,1141.6 L150.4,1114.1 L153.0,1118.4 L155.6,1173.6 L158.2,1116.8 L160.8,1108.5 L163.4,1147.0 L166.0,1201.2 L168.6,1162.5 L171.2,1147.7 L173.8,1099.4 L176.4,1138.2 L179.0,1106.8 L181.6,1027.5 L184.2,1120.4 L186.8,1127.5 L189.4,1092.4 L192.0,1082.4 L194.6,1081.3 L197.2,1126.5 L199.8,1171.7 L202.4,1195.4 L205.0,1162.9 L207.6,1146.0 L210.2,1173.9 L212.8,1180.6 L215.4,1139.2 L218.0,1138.1 L220.6,1137.0 L223.2,1053.1 L225.8,1078.3 L228.4,1151.1 L231.0,1078.4 L233.6,1116.4 L236.2,1142.5 L238.8,1140.1 L241.4,1036.6 L244.0,1133.3 L246.6,1161.8 L249.2,1138.8 L251.8,1109.0 L254.4,1128.9 L257.0,1139.9 L259.6,1163.7 L262.2,1154.7 L264.8,1178.5 L267.4,1132.3 L270.0,1116.1 L272.6,1117.1 L275.2,1133.1 L277.8,1085.2 L280.4,1114.2 L283.0,1107.3 L285.6,1162.6 L288.2,1140.2 L290.8,1144.2 L293.4,1094.6 L296.0,1107.4 L298.6,1136.7 L301.2,1138.1 L303.8,1077.4 L306.4,1144.3 L309.0,1149.1 L311.6,1113.2 L314.2,1121.7 L316.8,1072.1 L319.4,1079.2 L322.0,1106.9 L324.6,1121.9 L327.2,1115.0 L329.8,1069.0 L332.4,1098.0 L335.0,1088.5 L337.6,1187.7 L340.2,1144.8 L342.8,1111.6 L345.4,1085.4 L348.0,1085.9 L350.6,1105.9 L353.2,1170.4 L355.8,1110.6 L358.4,1143.5 L361.0,1191.4 L363.6,1151.5 L366.2,1136.5 L368.8,1117.3 L371.4,1097.9 L374.0,1116.9 L376.6,1121.7 L379.2,1137.3 L381.8,1119.5 L384.4,1155.2 L387.0,1093.7 L389.6,1117.7 L392.2,1084.5 L394.8,1101.6 L397.4,1134.1 L400.0,1125.0 L402.6,1123.1 L405.2,1120.0 L407.8,1206.0 L410.4,1151.8 L413.0,1055.2 L415.6,1116.2 L418.2,1071.7 L420.8,1137.2 L423.4,1171.0 L426.0,1130.2 L428.6,1133.2 L431.2,1148.9 L433.8,1084.9 L436.4,1079.2 L439.0,1152.5 L441.6,1065.5 L444.2,1058.6 L446.8,1168.5 L449.4,1090.9 L452.0,1108.1 L454.6,1089.8 L457.2,1163.9 L459.8,1092.5 L462.4,1131.2 L465.0,1045.8 L467.6,1141.8 L470.2,1158.5 L472.8,1094.8 L475.4,1149.9 L478.0,1061.5 L480.6,1141.6 L483.2,1045.1 L485.8,1143.3 L488.4,1126.8 L491.0,1104.1 L493.6,1132.4 L496.2,1086.0 L498.8,1133.2 L501.4,1063.2 L504.0,1050.0 L506.3,932.8 L508.6,851.4 L510.9,832.8 L514.4,867.7 L517.9,886.3 L520.2,770.0 L524.6,553.6 L525.5,539.6 L526.4,553.6 L529.5,770.0 L534.2,863.0 L536.5,953.7 L542.3,922.3 L543.5,956.0 L545.8,1014.2 L548.1,987.4 L549.5,1014.0 L551.6,997.9 L553.0,1045.0 L556.0,1107.0 L558.6,1094.6 L561.2,1138.2 L563.8,1118.1 L566.4,1121.0 L569.0,1135.7 L571.6,1109.4 L574.2,1114.0 L576.8,1104.5 L579.4,1065.4 L582.0,1122.4 L584.6,1122.2 L587.2,1168.8 L589.8,1134.9 L592.4,1090.1 L595.0,1063.6 L597.6,1111.1 L600.2,1068.8 L602.8,1064.0 L605.4,1045.6 L608.0,1087.8 L610.6,1131.0 L613.2,1102.9 L615.8,1066.5 L618.4,1125.7 L621.0,1082.9 L623.6,1135.3 L626.2,1127.5 L628.8,1158.8 L631.4,1074.3 L634.0,1139.7 L636.6,1117.8 L639.2,1108.0 L641.8,1138.6 L644.4,1166.8 L647.0,1150.7 L649.6,1164.4 L652.2,1122.5 L654.8,1144.0 L657.4,1082.7 L660.0,1129.9 L662.6,1098.5 L665.2,1146.0 L667.8,1173.7 L670.4,1124.5 L673.0,1080.4 L675.6,1079.5 L678.2,1072.3 L680.8,1126.8 L683.4,1125.7 L686.0,1110.2 L688.6,1126.2 L691.2,1096.9 L693.8,1048.2 L696.4,1059.5 L699.0,1140.8 L701.6,1063.9 L704.2,1176.4 L706.8,1122.4 L709.4,1128.3 L712.0,1110.1 L714.6,1117.0 L717.2,1069.7 L719.8,1134.3 L722.4,1086.0 L725.0,1152.2 L727.6,1119.7 L730.2,1110.9 L732.8,1095.0 L735.4,1170.3 L738.0,1206.6 L740.6,1076.0 L743.2,1163.1 L745.8,1139.3 L748.4,1132.4 L751.0,1077.0 L753.6,1097.6 L756.2,1080.7 L758.8,1076.9 L761.4,1106.1 L764.0,1132.9 L766.6,1082.9 L769.2,1096.7 L771.8,1121.4 L774.4,1193.7 L777.0,1151.6 L779.6,1115.3 L782.2,1143.8 L784.8,1093.7 L787.4,1033.9 L790.0,1117.3 L792.6,1106.5 L795.2,1088.0 L797.8,1055.7 L800.4,1185.8 L803.0,1129.8 L805.6,1064.4 L808.2,1113.2 L810.8,1170.1 L813.4,1095.3 L816.0,1159.2 L818.6,1085.9 L821.2,1085.7 L823.8,1133.0 L826.4,1160.4 L829.0,1103.7 L831.6,1131.8 L834.2,1127.6 L836.8,1135.1 L839.4,1128.8 L842.0,1142.4 L844.6,1079.1 L847.2,1067.3 L849.8,1133.9 L852.4,1148.4 L855.0,1080.2 L857.6,1062.9 L860.2,1088.6 L862.8,1068.7 L865.4,1080.5 L868.0,1104.8 L870.6,1116.2 L873.2,1133.8 L875.8,1093.5 L878.4,1080.4 L881.0,1021.2 L883.6,1044.3 L886.2,1111.9 L888.8,1111.2 L890.2,924.2 L891.4,1128.3 L894.0,976.8 L896.6,1028.7 L899.2,1044.9 L901.8,1097.8 L904.4,1097.9 L907.0,1164.9 L909.6,1121.6 L912.2,1178.8 L914.8,1123.0 L917.4,1118.4 L920.0,1167.0 L922.6,1038.0 L925.2,1165.9 L927.8,1077.2 L930.4,1171.7 L933.0,1089.0 L935.6,1175.2 L938.2,1125.9 L940.8,1151.5 L943.4,1097.0 L946.0,1135.9 L948.6,1117.4 L951.2,1105.3 L953.8,1149.2 L956.4,1138.1 L959.0,1111.3 L961.6,1152.5 L964.2,1085.7 L966.8,1180.3 L969.4,1051.7 L972.0,1082.9 L974.6,1169.6 L977.2,1147.6 L979.8,1132.5 L982.4,1101.0 L985.0,1093.3 L987.6,1080.5 L990.2,1074.7 L992.8,1149.2 L995.4,1104.1 L998.0,1113.7 L1000.6,1087.3 L1003.2,1112.9 L1005.8,1168.7 L1008.4,1126.4 L1011.0,1028.0 L1013.6,1113.1 L1016.2,1075.3 L1018.8,1120.0 L1021.4,1128.9 L1024.0,1120.1 L1026.6,1129.5 L1029.2,1094.1 L1031.8,1138.9 L1034.4,1187.0 L1037.0,1095.3 L1039.6,1084.3 L1042.2,1139.2 L1044.8,1130.3 L1047.4,1099.3 L1050.0,1089.3 L1052.6,1155.4 L1055.2,1035.5 L1057.8,1031.9 L1060.4,1115.1 L1063.0,1147.9 L1065.6,1078.3 L1068.2,1068.1 L1070.8,1146.7 L1073.4,1169.7 L1076.0,1166.5 L1078.6,1139.7 L1081.2,1161.6 L1083.8,1141.5 L1086.4,1141.8 L1089.0,1182.3 L1091.6,1115.6 L1094.2,1078.1 L1096.8,1191.0 L1099.4,1128.0 L1102.0,1095.7" stroke="#0072BD"/>
<path d="M120.8,479.5 L121.0,500.0 L121.9,604.1 L123.8,691.5 L127.1,794.2 L130.8,870.0 L132.3,953.5 L133.8,916.6 L135.2,963.5 L135.0,934.5 L138.9,1001.0 L141.4,1077.7 L144.7,1141.1 L147.3,1171.5 L149.9,1055.3 L152.5,1193.9 L155.1,1152.0 L157.7,1146.8 L160.3,1155.6 L162.9,1180.0 L165.5,1168.0 L168.1,1108.4 L170.7,1081.7 L173.3,1086.9 L175.9,1068.6 L178.5,1147.4 L181.1,1122.3 L183.7,1081.9 L186.3,1106.1 L188.9,1115.1 L191.5,1086.8 L194.1,1090.3 L196.7,1137.6 L199.3,1109.2 L201.9,1149.6 L204.5,1097.9 L207.1,1106.8 L209.7,1128.7 L212.3,1175.0 L214.9,1134.0 L217.5,1074.5 L220.1,1149.2 L222.7,1118.9 L225.3,1190.0 L227.9,1165.5 L230.5,1128.8 L233.1,1094.9 L235.7,1096.0 L238.3,1144.4 L240.9,1059.1 L243.5,1221.9 L246.1,1181.4 L248.7,1097.0 L251.3,1093.9 L253.9,1082.2 L256.5,1174.9 L259.1,1194.6 L261.7,1196.6 L264.3,1177.4 L266.9,1126.5 L269.5,1152.5 L272.1,1149.7 L274.7,1112.4 L277.3,1139.4 L279.9,1124.5 L282.5,1078.4 L285.1,1153.2 L287.7,1125.3 L290.3,1155.4 L292.9,1103.6 L295.5,1169.8 L298.1,1161.8 L300.7,1106.3 L303.3,1199.1 L305.9,1065.7 L308.5,1074.8 L311.1,1134.3 L313.7,1139.5 L316.3,1107.9 L318.9,1109.4 L321.5,1155.4 L324.1,1114.1 L326.7,1147.6 L329.3,1135.3 L331.9,1119.0 L334.5,1116.8 L337.1,1131.4 L339.7,1125.6 L342.3,1138.0 L344.9,1135.7 L347.5,1072.0 L350.1,1077.5 L352.7,1158.5 L355.3,1203.2 L357.9,1100.2 L360.5,1063.7 L363.1,1134.8 L365.7,1112.9 L368.3,1124.3 L370.9,1113.1 L373.5,1142.0 L376.1,1125.0 L378.7,1132.5 L381.3,1133.7 L383.9,1117.5 L386.5,1170.3 L389.1,1083.5 L391.7,1117.7 L394.3,1113.7 L396.9,1145.0 L399.5,1190.4 L402.1,1125.1 L404.7,1138.0 L407.3,1206.1 L409.9,1083.6 L412.5,1072.7 L415.1,1110.7 L417.7,1111.5 L420.3,1078.0 L422.9,1108.7 L425.5,1229.4 L428.1,1088.6 L430.7,1194.4 L433.3,1146.4 L435.9,1075.2 L438.5,1156.5 L441.1,1179.2 L443.7,1130.3 L446.3,1135.3 L448.9,1197.6 L451.5,1072.1 L454.1,1122.5 L456.7,1125.3 L459.3,1116.0 L461.9,1112.4 L464.5,1068.1 L467.1,1119.5 L469.7,1132.4 L472.3,1094.0 L474.9,1099.4 L477.5,1085.3 L480.1,1138.2 L482.7,1091.9 L485.3,1088.2 L487.9,1143.3 L490.5,1090.5 L493.1,1110.3 L495.7,1061.5 L498.3,1053.9 L500.9,1101.3 L503.5,1152.2 L506.1,1115.6 L508.7,1145.5 L511.3,1144.2 L513.9,1074.6 L516.5,1100.1 L519.1,1131.5 L521.7,1159.0 L524.3,1117.3 L526.9,1079.6 L529.5,1106.6 L532.1,1120.3 L534.7,1121.1 L537.3,1084.8 L539.9,1103.5 L542.5,1128.3 L545.1,1206.7 L547.7,1111.6 L550.3,1128.1 L552.9,1134.4 L555.0,1045.0 L557.4,1002.6 L559.8,909.5 L562.8,821.2 L565.6,818.8 L567.9,867.7 L571.4,770.0 L575.9,552.2 L576.8,538.2 L577.7,552.2 L579.5,770.0 L584.2,886.3 L588.8,988.6 L591.2,987.4 L595.8,1025.8 L598.0,1045.0 L602.3,1102.1 L604.9,1072.7 L607.5,1163.9 L610.1,1108.3 L612.7,1153.5 L615.3,1141.8 L617.9,1102.4 L620.5,1099.9 L623.1,1134.7 L625.7,1096.1 L628.3,1135.8 L630.9,1140.8 L633.5,1136.0 L636.1,1133.8 L638.7,1095.4 L641.3,1095.4 L643.9,1141.2 L646.5,1130.3 L649.1,1136.9 L651.7,1099.6 L654.3,1104.7 L656.9,1099.8 L659.5,1154.3 L662.1,1109.3 L664.7,1141.6 L667.3,1158.7 L669.9,1124.6 L672.5,1139.1 L675.1,1112.8 L677.7,1114.3 L680.3,1131.7 L682.9,1113.1 L685.5,1120.8 L688.1,1132.6 L690.7,1157.3 L693.3,1096.7 L695.9,1098.4 L698.5,1094.0 L701.1,1161.4 L703.7,1161.3 L706.3,1121.3 L708.9,1098.9 L711.5,1126.0 L714.1,1088.5 L716.7,1158.5 L719.3,1104.6 L721.9,1187.5 L724.5,1150.9 L727.1,1161.0 L729.7,1106.8 L732.3,1149.0 L734.9,1129.7 L737.5,1101.1 L740.1,1125.3 L742.7,1098.5 L745.3,1160.3 L747.9,1084.7 L750.5,1161.4 L753.1,1168.9 L755.7,1115.9 L758.3,1084.3 L760.9,1191.2 L763.5,1099.2 L766.1,1093.8 L768.7,1122.4 L771.3,1181.7 L773.9,1170.7 L776.5,1121.4 L779.1,1163.1 L781.7,1102.6 L784.3,1081.4 L786.9,1163.9 L789.5,1180.8 L792.1,1118.2 L794.7,1165.0 L797.3,1117.9 L799.9,1154.5 L802.5,1154.9 L805.1,1140.2 L807.7,1111.5 L810.3,1111.5 L812.9,1132.4 L815.5,1082.4 L818.1,1077.1 L820.7,1102.4 L823.3,1177.2 L825.9,1153.7 L828.5,1140.3 L831.1,1117.2 L833.7,1090.4 L836.3,1155.4 L838.9,1091.5 L841.5,1171.8 L844.1,1117.7 L846.7,1139.6 L849.3,1129.8 L851.9,1075.5 L854.5,1126.9 L857.1,1108.6 L859.7,1051.9 L862.3,1101.1 L864.9,1157.3 L867.5,1148.8 L870.1,1131.5 L872.7,1110.3 L875.3,1095.1 L877.9,1039.1 L880.5,1004.5 L883.1,1000.7 L885.7,1140.0 L888.3,953.6 L888.6,911.7 L890.9,1152.1 L893.5,1002.9 L896.1,988.1 L898.7,1058.2 L901.3,1095.4 L903.9,1115.5 L906.5,1156.8 L909.1,1146.4 L911.7,1092.7 L914.3,1128.5 L916.9,1146.5 L919.5,1104.1 L922.1,1157.8 L924.7,1103.5 L927.3,1124.3 L929.9,1093.0 L932.5,994.8 L935.1,1092.3 L937.7,1136.3 L940.3,1159.3 L942.9,1099.9 L945.5,1117.6 L948.1,1158.9 L950.7,1137.5 L953.3,1124.3 L955.9,1166.4 L958.5,1136.7 L961.1,1116.7 L963.7,1157.1 L966.3,1087.4 L968.9,1161.5 L971.5,1168.9 L974.1,1094.5 L976.7,1146.5 L979.3,1157.9 L981.9,1166.9 L984.5,1122.6 L987.1,1160.6 L989.7,1155.0 L992.3,1198.9 L994.9,1182.9 L997.5,1147.2 L1000.1,1179.2 L1002.7,1145.5 L1005.3,1090.4 L1007.9,1121.4 L1010.5,1086.7 L1013.1,1154.2 L1015.7,1099.1 L1018.3,1132.9 L1020.9,1092.5 L1023.5,1157.1 L1026.1,1075.9 L1028.7,1092.9 L1031.3,1122.6 L1033.9,1094.5 L1036.5,1143.0 L1039.1,1213.7 L1041.7,1159.9 L1044.3,1153.4 L1046.9,1093.4 L1049.5,1117.3 L1052.1,1153.6 L1054.7,1086.5 L1057.3,1103.7 L1059.9,1172.3 L1062.5,1072.8 L1065.1,1103.3 L1067.7,1021.1 L1070.3,1079.4 L1072.9,1167.7 L1075.5,1074.7 L1078.1,1105.7 L1080.7,1126.9 L1083.3,1103.3 L1085.9,1093.1 L1088.5,1128.7 L1091.1,1150.0 L1093.7,1099.5 L1096.3,1110.8 L1098.9,1166.3 L1101.5,1084.3 L1104.1,1140.0" stroke="#D95319"/>
<path d="M120.8,481.5 L121.0,500.0 L121.8,609.8 L123.5,712.7 L126.3,791.3 L129.5,878.2 L133.1,962.0 L136.8,1002.9 L140.9,1065.9 L143.7,1107.2 L146.3,1132.4 L148.9,1115.4 L151.5,1102.2 L154.1,1101.7 L156.7,1110.5 L159.3,1093.1 L161.9,1140.8 L164.5,1156.0 L167.1,1155.5 L169.7,1127.3 L172.3,1155.4 L174.9,1121.3 L177.5,1132.6 L180.1,1074.7 L182.7,1155.7 L185.3,1080.3 L187.9,1094.9 L190.5,1040.0 L193.1,1137.4 L195.7,1097.5 L198.3,1135.2 L200.9,1129.7 L203.5,1071.4 L206.1,1084.8 L208.7,1065.7 L211.3,1125.6 L213.9,1136.4 L216.5,1108.8 L219.1,1025.9 L221.7,1094.6 L224.3,1094.4 L226.9,1087.3 L229.5,1119.4 L232.1,1101.3 L234.7,1053.7 L237.3,1104.0 L239.9,1144.3 L242.5,1136.2 L245.1,1132.0 L247.7,1115.4 L250.3,1106.5 L252.9,1181.3 L255.5,1158.0 L258.1,1149.2 L260.7,1173.2 L263.3,1209.0 L265.9,1184.7 L268.5,1108.6 L271.1,1188.1 L273.7,1089.3 L276.3,1139.8 L278.9,1134.2 L281.5,1073.4 L284.1,1067.4 L286.7,1169.6 L289.3,1092.4 L291.9,1103.5 L294.5,1145.6 L297.1,1130.8 L299.7,1149.1 L302.3,1060.5 L304.9,1026.8 L307.5,1163.9 L310.1,1142.4 L312.7,1122.3 L315.3,1150.2 L317.9,1083.8 L320.5,1113.4 L323.1,1130.8 L325.7,1178.6 L328.3,1175.7 L330.9,1119.8 L333.5,1184.4 L336.1,1090.3 L338.7,1133.1 L341.3,1082.8 L343.9,1107.1 L346.5,1098.2 L349.1,1105.3 L351.7,1141.9 L354.3,1140.4 L356.9,1133.4 L359.5,1117.7 L362.1,1097.6 L364.7,1134.4 L367.3,1084.8 L369.9,1147.7 L372.5,1174.6 L375.1,1162.2 L377.7,1158.7 L380.3,1087.4 L382.9,1103.9 L385.5,1114.4 L388.1,1081.5 L390.7,1110.1 L393.3,1158.1 L395.9,1003.9 L398.5,1097.2 L401.1,1083.3 L403.7,1080.7 L406.3,1124.9 L408.9,1130.0 L411.5,1158.4 L414.1,1129.5 L416.7,1132.5 L419.3,1187.9 L421.9,1115.8 L424.5,1163.3 L427.1,1127.7 L429.7,1042.3 L432.3,1059.5 L434.9,1165.6 L437.5,1108.2 L440.1,1101.6 L442.7,1059.5 L445.3,1044.3 L447.9,1110.5 L450.5,1129.1 L453.1,1098.4 L455.7,1095.9 L458.3,1176.3 L460.9,1108.7 L463.5,1137.6 L466.1,1073.6 L468.7,1114.7 L471.3,1132.3 L473.9,1116.6 L476.5,1152.2 L479.1,1141.6 L481.7,1133.6 L484.3,1202.8 L486.9,1107.8 L489.5,1098.5 L492.1,1103.4 L494.7,1087.8 L497.3,1162.3 L499.9,1115.5 L502.5,1129.9 L505.1,1134.1 L507.7,1170.1 L510.3,1163.7 L512.9,1139.4 L515.5,1173.0 L518.1,1148.5 L520.7,1123.5 L523.3,1116.3 L525.9,1060.6 L528.5,1112.9 L531.1,1128.4 L533.7,1171.5 L536.3,1149.3 L538.9,1104.1 L541.5,1121.9 L544.1,1136.6 L546.7,1193.0 L549.3,1168.9 L551.9,1119.2 L554.5,1166.8 L557.1,1106.5 L559.7,1132.0 L562.3,1170.2 L564.9,1076.7 L567.5,1224.8 L570.1,1154.1 L572.7,1189.3 L575.3,1149.2 L577.9,1116.9 L580.5,1087.5 L583.1,1116.2 L585.7,1134.9 L588.3,1117.4 L590.9,1164.9 L593.5,1125.8 L596.1,1092.7 L598.7,1107.5 L601.3,1092.4 L603.5,1050.0 L605.8,1025.8 L608.1,956.0 L610.5,886.3 L614.0,820.0 L617.4,814.2 L619.8,770.0 L624.9,570.9 L625.8,556.9 L626.7,570.9 L630.2,770.0 L633.7,893.3 L638.4,928.1 L643.0,946.7 L645.3,1002.6 L647.7,988.6 L648.8,1045.0 L653.3,1129.5 L655.9,1157.0 L658.5,1086.7 L661.1,1090.7 L663.7,1130.4 L666.3,1200.4 L668.9,1156.8 L671.5,1095.6 L674.1,1154.2 L676.7,1150.5 L679.3,1074.7 L681.9,1127.9 L684.5,1130.3 L687.1,1154.0 L689.7,1117.5 L692.3,1120.1 L694.9,1101.7 L697.5,1181.7 L700.1,1078.7 L702.7,1056.0 L705.3,1101.3 L707.9,1132.6 L710.5,1081.3 L713.1,1081.8 L715.7,1150.7 L718.3,1130.7 L720.9,1122.3 L723.5,1159.2 L726.1,1131.9 L728.7,1094.5 L731.3,1053.7 L733.9,1181.3 L736.5,1075.5 L739.1,1164.0 L741.7,1133.6 L744.3,1091.1 L746.9,1109.3 L749.5,1104.3 L752.1,1134.4 L754.7,1098.5 L757.3,1171.3 L759.9,1059.9 L762.5,1160.9 L765.1,1152.2 L767.7,1172.4 L770.3,1087.3 L772.9,1117.1 L775.5,1127.2 L778.1,1077.5 L780.7,1163.8 L783.3,1151.0 L785.9,1107.3 L788.5,1140.9 L791.1,1122.5 L793.7,1118.2 L796.3,1121.9 L798.9,1105.2 L801.5,1154.4 L804.1,1084.0 L806.7,1121.0 L809.3,1146.9 L811.9,1141.2 L814.5,1113.2 L817.1,1125.0 L819.7,1101.7 L822.3,1068.8 L824.9,1090.1 L827.5,1167.9 L830.1,1103.0 L832.7,1108.9 L835.3,1109.3 L837.9,1120.8 L840.5,1170.7 L843.1,1126.7 L845.7,1113.3 L848.3,1126.0 L850.9,1069.3 L853.5,1066.3 L856.1,1190.6 L858.7,1061.8 L861.3,1169.8 L863.9,1147.4 L866.5,1039.3 L869.1,1078.9 L871.7,1100.0 L874.3,1165.4 L876.9,1101.2 L879.5,1067.8 L882.1,1048.8 L884.7,1010.1 L887.3,985.3 L889.9,950.7 L890.4,925.2 L892.5,986.1 L895.1,1005.6 L897.7,1081.1 L900.3,1047.0 L902.9,1080.8 L905.5,1107.8 L908.1,1150.9 L910.7,1132.3 L913.3,1182.5 L915.9,1122.4 L918.5,1122.9 L921.1,1132.4 L923.7,1128.6 L926.3,1177.3 L928.9,1107.9 L931.5,1082.5 L934.1,1175.6 L936.7,1129.6 L939.3,1134.0 L941.9,1175.2 L944.5,1166.6 L947.1,1150.8 L949.7,1183.8 L952.3,1193.0 L954.9,1103.2 L957.5,1168.6 L960.1,1102.5 L962.7,1157.4 L965.3,1106.4 L967.9,1145.2 L970.5,1180.0 L973.1,1113.0 L975.7,1134.6 L978.3,1153.5 L980.9,1056.1 L983.5,1070.0 L986.1,1168.5 L988.7,1134.1 L991.3,1144.9 L993.9,1161.2 L996.5,1116.8 L999.1,1107.1 L1001.7,1097.3 L1004.3,1173.4 L1006.9,1114.9 L1009.5,1091.3 L1012.1,1202.8 L1014.7,1145.4 L1017.3,1160.1 L1019.9,1107.6 L1022.5,1179.5 L1025.1,1130.6 L1027.7,1132.8 L1030.3,1150.3 L1032.9,1123.3 L1035.5,1174.4 L1038.1,1158.8 L1040.7,1150.4 L1043.3,1090.3 L1045.9,1067.9 L1048.5,1120.9 L1051.1,1126.6 L1053.7,1167.2 L1056.3,1163.0 L1058.9,1112.4 L1061.5,1084.9 L1064.1,1139.0 L1066.7,1152.0 L1069.3,1149.5 L1071.9,1108.9 L1074.5,1086.2 L1077.1,1127.6 L1079.7,1137.5 L1082.3,1115.2 L1084.9,1141.4 L1087.5,1123.2 L1090.1,1082.6 L1092.7,1104.6 L1095.3,1172.7 L1097.9,1054.3 L1100.5,1024.3 L1103.1,1171.0" stroke="#EDB120"/>
<path d="M120.8,483.5 L121.0,500.0 L122.0,603.0 L123.9,687.9 L127.3,791.8 L131.1,850.3 L135.5,937.7 L139.4,1013.0 L143.4,1069.5 L146.9,1160.5 L149.5,1058.3 L152.1,1135.7 L154.7,1081.9 L157.3,1126.8 L159.9,1111.3 L162.5,1158.2 L165.1,1106.4 L167.7,1138.7 L170.3,1184.6 L172.9,1145.6 L175.5,1163.9 L178.1,1111.9 L180.7,1151.5 L183.3,1104.7 L185.9,1109.0 L188.5,1114.9 L191.1,1154.1 L193.7,1097.5 L196.3,1137.5 L198.9,1137.7 L201.5,1094.0 L204.1,1142.5 L206.7,1084.2 L209.3,1096.0 L211.9,1101.9 L214.5,1125.8 L217.1,1141.0 L219.7,1105.4 L222.3,1156.0 L224.9,1103.9 L227.5,1140.3 L230.1,1066.3 L232.7,1072.8 L235.3,1067.6 L237.9,1136.4 L240.5,1104.4 L243.1,1128.6 L245.7,1115.8 L248.3,1151.3 L250.9,1082.0 L253.5,1142.2 L256.1,1098.6 L258.7,1095.3 L261.3,1067.1 L263.9,1093.1 L266.5,1170.8 L269.1,1142.3 L271.7,1158.4 L274.3,1161.3 L276.9,1155.0 L279.5,1096.1 L282.1,1099.1 L284.7,1112.1 L287.3,1160.0 L289.9,1141.9 L292.5,1104.3 L295.1,1115.8 L297.7,1163.2 L300.3,1118.7 L302.9,1118.7 L305.5,1065.9 L308.1,1125.0 L310.7,1202.1 L313.3,1099.3 L315.9,1071.8 L318.5,1162.5 L321.1,1077.3 L323.7,1067.3 L326.3,1098.8 L328.9,1123.2 L331.5,1102.2 L334.1,1114.3 L336.7,1095.1 L339.3,1064.4 L341.9,1101.0 L344.5,1127.2 L347.1,1089.1 L349.7,1126.2 L352.3,1171.2 L354.9,1111.0 L357.5,1058.3 L360.1,1137.2 L362.7,1118.4 L365.3,1175.1 L367.9,1132.6 L370.5,1140.8 L373.1,1122.2 L375.7,1128.4 L378.3,1133.7 L380.9,1098.3 L383.5,1145.3 L386.1,1157.2 L388.7,1083.9 L391.3,1101.1 L393.9,1153.4 L396.5,1117.8 L399.1,1165.8 L401.7,1054.4 L404.3,1108.7 L406.9,1125.7 L409.5,1111.9 L412.1,1116.8 L414.7,1053.1 L417.3,1112.9 L419.9,1113.8 L422.5,1137.5 L425.1,1094.5 L427.7,1111.0 L430.3,1116.1 L432.9,1213.2 L435.5,1128.9 L438.1,1152.5 L440.7,1098.2 L443.3,1189.8 L445.9,1142.4 L448.5,1159.4 L451.1,1121.2 L453.7,1116.5 L456.3,1108.7 L458.9,1143.1 L461.5,1134.9 L464.1,1166.1 L466.7,1118.3 L469.3,1147.7 L471.9,1087.3 L474.5,1020.5 L477.1,1184.9 L479.7,1137.3 L482.3,1178.2 L484.9,1176.3 L487.5,1129.6 L490.1,1117.5 L492.7,1141.4 L495.3,1101.5 L497.9,1127.0 L500.5,1146.1 L503.1,1068.4 L505.7,1105.5 L508.3,1122.5 L510.9,1095.6 L513.5,1091.6 L516.1,1125.6 L518.7,1083.7 L521.3,1173.2 L523.9,1161.1 L526.5,1114.4 L529.1,1164.4 L531.7,1068.3 L534.3,1122.9 L536.9,1062.3 L539.5,1117.9 L542.1,1135.8 L544.7,1126.5 L547.3,1088.0 L549.9,1125.4 L552.5,1180.9 L555.1,1065.0 L557.7,1122.8 L560.3,1119.2 L562.9,1116.7 L565.5,1144.1 L568.1,1202.1 L570.7,1134.7 L573.3,1140.3 L575.9,1113.8 L578.5,1115.2 L581.1,1134.1 L583.7,1143.9 L586.3,1058.7 L588.9,1097.8 L591.5,1111.4 L594.1,1157.5 L596.7,1130.3 L599.3,1110.5 L601.9,1150.0 L604.5,1141.4 L607.1,1150.7 L609.7,1125.1 L612.3,1105.1 L614.9,1120.3 L617.5,1122.1 L620.1,1099.0 L622.7,1082.6 L625.3,1208.4 L627.9,1147.0 L630.5,1124.5 L633.1,1106.0 L635.7,1195.0 L638.3,1103.1 L640.9,1080.8 L643.5,1125.8 L646.1,1121.2 L648.7,1095.9 L651.2,1037.4 L654.7,979.3 L658.1,904.9 L661.6,877.0 L664.0,867.7 L667.4,770.0 L673.8,567.6 L674.7,553.6 L675.6,567.6 L677.9,770.0 L681.4,886.3 L686.0,904.9 L689.5,956.0 L690.7,990.9 L694.2,997.9 L695.3,1032.8 L697.0,1050.0 L700.7,1144.5 L703.3,1131.0 L705.9,1136.4 L708.5,1096.1 L711.1,1185.1 L713.7,1185.6 L716.3,1095.0 L718.9,1093.2 L721.5,1105.1 L724.1,1130.7 L726.7,1091.6 L729.3,1124.7 L731.9,1142.5 L734.5,1097.8 L737.1,1156.6 L739.7,1107.2 L742.3,1127.1 L744.9,1116.1 L747.5,1060.5 L750.1,1169.3 L752.7,1114.0 L755.3,1086.5 L757.9,1098.3 L760.5,1078.0 L763.1,1158.0 L765.7,1081.2 L768.3,1139.3 L770.9,1057.8 L773.5,1122.8 L776.1,1087.5 L778.7,1090.4 L781.3,1136.6 L783.9,1121.9 L786.5,1080.6 L789.1,1132.9 L791.7,1091.2 L794.3,1127.1 L796.9,1096.8 L799.5,1112.2 L802.1,1062.8 L804.7,1074.1 L807.3,1119.5 L809.9,1154.1 L812.5,1187.7 L815.1,1027.3 L817.7,1147.9 L820.3,1098.5 L822.9,1149.3 L825.5,1154.6 L828.1,1163.1 L830.7,1063.3 L833.3,1156.4 L835.9,1159.7 L838.5,1110.0 L841.1,1102.6 L843.7,1110.6 L846.3,1158.4 L848.9,1123.4 L851.5,1099.8 L854.1,1153.5 L856.7,1076.4 L859.3,1147.8 L861.9,1114.7 L864.5,1123.9 L867.1,1141.9 L869.7,1097.3 L872.3,1180.5 L874.9,1133.4 L877.5,1175.7 L880.1,1058.8 L882.7,1195.8 L885.3,1111.3 L887.9,955.9 L889.7,930.5 L890.5,1099.6 L893.1,976.3 L895.7,1015.2 L898.3,1132.2 L900.9,1083.9 L903.5,1137.6 L906.1,1128.0 L908.7,1158.7 L911.3,1101.2 L913.9,1163.1 L916.5,1107.5 L919.1,1122.1 L921.7,1119.0 L924.3,1138.2 L926.9,1123.6 L929.5,1121.1 L932.1,1114.2 L934.7,1074.8 L937.3,1137.9 L939.9,1105.2 L942.5,1104.1 L945.1,1109.7 L947.7,1146.9 L950.3,1075.3 L952.9,1193.1 L955.5,1165.1 L958.1,1135.4 L960.7,1167.8 L963.3,1139.4 L965.9,1121.2 L968.5,1142.5 L971.1,1149.1 L973.7,1120.2 L976.3,1146.5 L978.9,1151.8 L981.5,1189.3 L984.1,1107.8 L986.7,1070.5 L989.3,1158.9 L991.9,1144.1 L994.5,1077.8 L997.1,1161.9 L999.7,1153.0 L1002.3,1103.6 L1004.9,1119.7 L1007.5,1100.2 L1010.1,1170.1 L1012.7,1097.8 L1015.3,1146.5 L1017.9,1086.4 L1020.5,1098.1 L1023.1,1144.2 L1025.7,1090.9 L1028.3,1137.0 L1030.9,1165.3 L1033.5,1147.6 L1036.1,1180.3 L1038.7,1142.7 L1041.3,1166.6 L1043.9,1093.1 L1046.5,1163.8 L1049.1,1083.5 L1051.7,1096.1 L1054.3,1172.1 L1056.9,1118.3 L1059.5,1120.1 L1062.1,1130.2 L1064.7,1116.0 L1067.3,1042.3 L1069.9,1116.4 L1072.5,1152.3 L1075.1,1143.8 L1077.7,1131.4 L1080.3,1039.3 L1082.9,1132.7 L1085.5,1068.4 L1088.1,1166.6 L1090.7,1135.1 L1093.3,1133.8 L1095.9,1136.8 L1098.5,1114.3 L1101.1,1110.9 L1103.7,1131.4" stroke="#7E2F8E"/>
<path d="M120.8,485.5 L121.0,500.0 L121.8,595.7 L123.3,689.2 L125.8,789.4 L128.8,872.0 L130.1,946.1 L131.6,915.0 L132.8,956.1 L132.1,960.7 L135.6,987.5 L139.5,1100.0 L142.4,1149.7 L145.0,1135.9 L147.6,1156.4 L150.2,1135.8 L152.8,1164.1 L155.4,1174.2 L158.0,1095.6 L160.6,1174.8 L163.2,1166.2 L165.8,1150.5 L168.4,1043.6 L171.0,1162.6 L173.6,1126.4 L176.2,1135.4 L178.8,1086.0 L181.4,1140.2 L184.0,1075.8 L186.6,1121.6 L189.2,1078.7 L191.8,1115.4 L194.4,1129.5 L197.0,1170.8 L199.6,1149.5 L202.2,1135.2 L204.8,1140.4 L207.4,1111.1 L210.0,1133.2 L212.6,1105.1 L215.2,1139.4 L217.8,1145.2 L220.4,1106.5 L223.0,1126.8 L225.6,1109.7 L228.2,1124.6 L230.8,1156.0 L233.4,1130.6 L236.0,1122.8 L238.6,1132.4 L241.2,1085.4 L243.8,1203.2 L246.4,1124.8 L249.0,1128.7 L251.6,1099.6 L254.2,1148.4 L256.8,1122.0 L259.4,1152.3 L262.0,1177.8 L264.6,1159.1 L267.2,1078.8 L269.8,1169.6 L272.4,1109.3 L275.0,1171.1 L277.6,1098.1 L280.2,1103.2 L282.8,1119.6 L285.4,1141.2 L288.0,1121.0 L290.6,1108.1 L293.2,1128.5 L295.8,1184.6 L298.4,1090.8 L301.0,1113.8 L303.6,1122.0 L306.2,1136.2 L308.8,1239.8 L311.4,1132.8 L314.0,1099.4 L316.6,1113.6 L319.2,1121.4 L321.8,1154.3 L324.4,1109.9 L327.0,1132.2 L329.6,1116.7 L332.2,1127.1 L334.8,1100.9 L337.4,1096.5 L340.0,1100.3 L342.6,1062.7 L345.2,1077.0 L347.8,1097.9 L350.4,1129.5 L353.0,1123.3 L355.6,1110.9 L358.2,1110.7 L360.8,1140.3 L363.4,1150.1 L366.0,1098.4 L368.6,1113.5 L371.2,1112.9 L373.8,1176.5 L376.4,1176.6 L379.0,1111.6 L381.6,1088.0 L384.2,1088.1 L386.8,1107.3 L389.4,1100.3 L392.0,1176.2 L394.6,1097.6 L397.2,1111.6 L399.8,1206.3 L402.4,1087.6 L405.0,1090.5 L407.6,1146.4 L410.2,1175.6 L412.8,1090.8 L415.4,1133.7 L418.0,1178.6 L420.6,1160.6 L423.2,1116.0 L425.8,1147.2 L428.4,1072.2 L431.0,1148.6 L433.6,1091.7 L436.2,1076.1 L438.8,1105.6 L441.4,1089.2 L444.0,1130.3 L446.6,1063.3 L449.2,1104.4 L451.8,1130.8 L454.4,1110.4 L457.0,1073.5 L459.6,1121.5 L462.2,1168.4 L464.8,1151.3 L467.4,1076.4 L470.0,1122.0 L472.6,1148.8 L475.2,1108.2 L477.8,1101.2 L480.4,1095.3 L483.0,1130.1 L485.6,1109.2 L488.2,1107.6 L490.8,1109.9 L493.4,1108.9 L496.0,1117.0 L498.6,1119.2 L501.2,1169.9 L503.8,1160.1 L506.4,1089.7 L509.0,1134.5 L511.6,1152.5 L514.2,1102.9 L516.8,1050.9 L519.4,1050.3 L522.0,1128.5 L524.6,1116.5 L527.2,1154.5 L529.8,1094.3 L532.4,1087.9 L535.0,1139.7 L537.6,1171.4 L540.2,1150.9 L542.8,1112.2 L545.4,1166.8 L548.0,1079.2 L550.6,1108.4 L553.2,1122.1 L555.8,1098.1 L558.4,1125.5 L561.0,1071.7 L563.6,1108.5 L566.2,1085.4 L568.8,1059.0 L571.4,1126.5 L574.0,1119.0 L576.6,1206.3 L579.2,1105.8 L581.8,1116.0 L584.4,1116.4 L587.0,1152.3 L589.6,1153.5 L592.2,1220.4 L594.8,1136.3 L597.4,1162.8 L600.0,1135.2 L602.6,1135.4 L605.2,1132.8 L607.8,1176.4 L610.4,1112.6 L613.0,1120.9 L615.6,1151.8 L618.2,1177.1 L620.8,1150.3 L623.4,1184.8 L626.0,1130.3 L628.6,1152.6 L631.2,1080.3 L633.8,1104.3 L636.4,1157.8 L639.0,1150.3 L641.6,1143.1 L644.2,1125.1 L646.8,1095.7 L649.4,1138.8 L652.0,1203.1 L654.6,1137.4 L657.2,1207.2 L659.8,1124.8 L662.4,1098.2 L665.0,1132.8 L667.6,1172.9 L670.2,1126.1 L672.8,1081.4 L675.4,1113.1 L678.0,1167.6 L680.6,1148.2 L683.2,1110.2 L685.8,1112.8 L688.4,1101.8 L691.0,1139.3 L693.6,1224.4 L696.2,1126.7 L698.8,1073.6 L701.4,1090.4 L705.0,1050.0 L707.0,1021.2 L710.5,932.8 L714.0,839.8 L716.3,823.5 L717.4,770.0 L724.0,578.4 L724.9,564.4 L725.8,578.4 L727.9,770.0 L732.6,916.5 L737.2,974.7 L739.5,979.3 L743.0,1025.8 L745.0,1050.0 L748.2,1076.6 L750.8,1107.2 L753.4,1148.1 L756.0,1100.3 L758.6,1080.5 L761.2,1129.9 L763.8,1141.4 L766.4,1121.0 L769.0,1110.0 L771.6,1144.7 L774.2,1199.7 L776.8,1067.9 L779.4,1103.2 L782.0,1152.2 L784.6,1115.5 L787.2,1056.3 L789.8,1086.9 L792.4,1134.6 L795.0,1137.7 L797.6,1130.6 L800.2,1106.3 L802.8,1202.0 L805.4,1062.7 L808.0,1132.6 L810.6,1124.2 L813.2,1149.4 L815.8,1151.4 L818.4,1121.3 L821.0,1137.9 L823.6,1129.9 L826.2,1155.4 L828.8,1097.2 L831.4,1151.0 L834.0,1117.8 L836.6,1166.2 L839.2,1111.1 L841.8,1114.1 L844.4,1115.0 L847.0,1164.7 L849.6,1140.5 L852.2,1129.6 L854.8,1096.4 L857.4,1145.2 L860.0,1123.5 L862.6,1100.5 L865.2,1167.0 L867.8,1181.7 L870.4,1177.7 L873.0,1104.8 L875.6,1077.2 L878.2,1062.5 L880.8,1052.7 L883.4,979.9 L886.0,952.5 L888.4,926.3 L888.6,928.6 L891.2,990.5 L893.8,987.3 L896.4,1024.6 L899.0,1061.8 L901.6,1113.4 L904.2,1125.8 L906.8,1204.6 L909.4,1114.3 L912.0,1147.3 L914.6,1058.5 L917.2,1131.0 L919.8,1185.1 L922.4,1152.7 L925.0,1085.6 L927.6,1096.3 L930.2,1155.3 L932.8,1141.2 L935.4,1130.3 L938.0,1148.8 L940.6,1166.4 L943.2,1176.1 L945.8,1092.2 L948.4,1030.3 L951.0,1059.1 L953.6,1071.4 L956.2,1092.4 L958.8,1103.0 L961.4,1158.1 L964.0,1105.4 L966.6,1095.5 L969.2,1107.6 L971.8,1113.8 L974.4,1098.4 L977.0,1058.2 L979.6,1115.0 L982.2,1124.9 L984.8,1114.5 L987.4,1104.1 L990.0,1105.2 L992.6,1104.1 L995.2,1081.6 L997.8,1098.2 L1000.4,1076.7 L1003.0,1073.5 L1005.6,1143.9 L1008.2,1118.1 L1010.8,1120.0 L1013.4,1117.7 L1016.0,1152.0 L1018.6,1057.3 L1021.2,1196.3 L1023.8,1154.2 L1026.4,1115.5 L1029.0,1190.1 L1031.6,1144.7 L1034.2,1127.7 L1036.8,1154.8 L1039.4,1109.4 L1042.0,1187.8 L1044.6,1168.6 L1047.2,1070.5 L1049.8,1125.6 L1052.4,1124.0 L1055.0,1196.4 L1057.6,1155.0 L1060.2,1118.0 L1062.8,1175.4 L1065.4,1166.0 L1068.0,1106.3 L1070.6,1175.5 L1073.2,1136.1 L1075.8,1148.3 L1078.4,1179.1 L1081.0,1135.1 L1083.6,1126.4 L1086.2,1202.9 L1088.8,1101.4 L1091.4,1167.2 L1094.0,1163.0 L1096.6,1130.7 L1099.2,1112.9 L1101.8,1103.2 L1104.4,1186.8" stroke="#77AC30"/>
<path d="M120.8,487.5 L121.0,500.0 L121.8,600.1 L123.5,710.8 L126.3,811.9 L129.6,867.2 L130.9,915.1 L132.4,881.9 L133.7,925.1 L133.2,944.2 L136.8,1017.4 L139.4,1075.5 L141.6,1117.9 L144.2,1131.9 L146.8,1132.9 L149.4,1163.1 L152.0,1109.4 L154.6,1135.9 L157.2,1142.3 L159.8,1180.8 L162.4,1112.6 L165.0,1137.5 L167.6,1170.7 L170.2,1113.4 L172.8,1151.0 L175.4,1107.3 L178.0,1151.9 L180.6,1087.7 L183.2,1120.6 L185.8,1181.2 L188.4,1123.5 L191.0,1228.4 L193.6,1156.2 L196.2,1103.9 L198.8,1148.6 L201.4,1119.0 L204.0,1098.9 L206.6,1108.5 L209.2,1086.2 L211.8,1157.7 L214.4,1136.7 L217.0,1120.6 L219.6,1110.3 L222.2,1169.0 L224.8,1172.7 L227.4,1179.4 L230.0,1135.7 L232.6,1110.4 L235.2,1136.9 L237.8,1128.5 L240.4,1102.1 L243.0,1187.0 L245.6,1153.0 L248.2,1185.2 L250.8,1098.4 L253.4,1126.0 L256.0,1089.2 L258.6,1202.3 L261.2,1177.7 L263.8,1153.6 L266.4,1125.8 L269.0,1127.3 L271.6,1119.2 L274.2,1125.1 L276.8,1183.2 L279.4,1173.2 L282.0,1171.4 L284.6,1102.5 L287.2,1105.2 L289.8,1116.0 L292.4,1139.4 L295.0,1120.6 L297.6,1121.1 L300.2,1054.5 L302.8,1103.6 L305.4,1154.4 L308.0,1144.7 L310.6,1198.4 L313.2,1096.7 L315.8,1170.2 L318.4,1129.9 L321.0,1181.0 L323.6,1121.6 L326.2,1121.9 L328.8,1135.8 L331.4,1154.6 L334.0,1050.2 L336.6,1106.6 L339.2,1115.8 L341.8,1128.7 L344.4,1120.9 L347.0,1097.4 L349.6,1116.3 L352.2,1091.2 L354.8,1131.2 L357.4,1097.4 L360.0,1111.9 L362.6,1096.3 L365.2,1110.7 L367.8,1127.2 L370.4,1119.1 L373.0,1119.1 L375.6,1120.9 L378.2,1176.2 L380.8,1118.2 L383.4,1150.3 L386.0,1116.4 L388.6,1130.4 L391.2,1126.2 L393.8,1172.7 L396.4,1125.7 L399.0,1146.5 L401.6,1140.2 L404.2,1142.1 L406.8,1104.5 L409.4,1132.0 L412.0,1157.3 L414.6,1162.0 L417.2,1158.5 L419.8,1125.0 L422.4,1193.8 L425.0,1154.2 L427.6,1151.7 L430.2,1112.4 L432.8,1156.5 L435.4,1131.1 L438.0,1130.5 L440.6,1118.9 L443.2,1156.8 L445.8,1082.0 L448.4,1031.3 L451.0,1144.1 L453.6,1089.1 L456.2,1115.6 L458.8,1092.6 L461.4,1127.8 L464.0,1094.6 L466.6,1084.0 L469.2,1081.1 L471.8,1163.1 L474.4,1112.7 L477.0,1035.3 L479.6,1078.0 L482.2,1134.7 L484.8,1149.5 L487.4,1059.1 L490.0,1137.1 L492.6,1121.0 L495.2,1101.0 L497.8,1125.1 L500.4,1148.5 L503.0,1098.2 L505.6,1092.8 L508.2,1118.4 L510.8,1091.1 L513.4,1095.7 L516.0,1068.4 L518.6,1080.5 L521.2,1145.2 L523.8,1088.0 L526.4,1138.5 L529.0,1070.8 L531.6,1176.8 L534.2,1142.1 L536.8,1189.2 L539.4,1098.4 L542.0,1133.0 L544.6,1142.2 L547.2,1126.0 L549.8,1169.4 L552.4,1176.7 L555.0,1174.4 L557.6,1139.0 L560.2,1149.1 L562.8,1087.5 L565.4,1173.5 L568.0,1154.8 L570.6,1147.4 L573.2,1103.5 L575.8,1128.0 L578.4,1147.2 L581.0,1096.8 L583.6,1098.2 L586.2,1175.6 L588.8,1078.7 L591.4,1104.7 L594.0,1120.5 L596.6,1111.6 L599.2,1030.7 L601.8,1111.7 L604.4,1136.2 L607.0,1139.7 L609.6,1151.0 L612.2,1067.3 L614.8,1015.7 L617.4,1094.2 L620.0,1111.3 L622.6,1077.9 L625.2,1161.9 L627.8,1136.2 L630.4,1117.6 L633.0,1136.4 L635.6,1112.4 L638.2,1173.4 L640.8,1197.7 L643.4,1123.7 L646.0,1143.8 L648.6,1078.3 L651.2,1099.7 L653.8,1172.1 L656.4,1104.3 L659.0,1147.5 L661.6,1218.2 L664.2,1054.4 L666.8,1096.0 L669.4,1144.5 L672.0,1134.9 L674.6,1071.5 L677.2,1109.1 L679.8,1035.2 L682.4,1123.2 L685.0,1164.7 L687.6,1131.0 L690.2,1087.6 L692.8,1105.9 L695.4,1142.1 L698.0,1156.4 L700.6,1112.9 L703.2,1089.9 L705.8,1058.0 L708.4,1172.8 L711.0,1148.8 L713.6,1113.7 L716.2,1122.4 L718.8,1136.3 L721.4,1109.9 L724.0,1160.4 L726.6,1209.5 L729.2,1088.1 L731.8,1155.8 L734.4,1165.0 L737.0,1115.2 L739.6,1121.3 L742.2,1171.2 L744.8,1097.6 L747.4,1141.2 L750.0,1117.0 L752.3,1037.4 L755.8,956.0 L758.1,942.1 L762.8,835.1 L764.0,810.7 L766.3,770.0 L772.1,580.1 L773.0,566.1 L773.9,580.1 L776.7,770.0 L777.9,813.0 L777.9,842.1 L782.6,942.1 L784.9,984.0 L788.4,923.5 L791.9,991.0 L794.0,1050.0 L796.8,1120.3 L799.4,1073.8 L802.0,1133.1 L804.6,1182.3 L807.2,1076.3 L809.8,1126.1 L812.4,1148.5 L815.0,1098.4 L817.6,1132.0 L820.2,1137.4 L822.8,1160.6 L825.4,1181.9 L828.0,1155.1 L830.6,1093.3 L833.2,1132.4 L835.8,1131.5 L838.4,1198.7 L841.0,1049.4 L843.6,1160.6 L846.2,1097.5 L848.8,1079.9 L851.4,1139.5 L854.0,1213.8 L856.6,1113.8 L859.2,1188.2 L861.8,1146.0 L864.4,1132.2 L867.0,1093.7 L869.6,1087.5 L872.2,1092.9 L874.8,1160.9 L877.4,1156.2 L880.0,1125.5 L882.6,1029.5 L885.2,1023.9 L887.8,971.6 L889.9,943.9 L890.4,978.9 L893.0,998.7 L895.6,1194.7 L898.2,1028.2 L900.8,1112.6 L903.4,1066.8 L906.0,1112.2 L908.6,1113.4 L911.2,1106.3 L913.8,1089.3 L916.4,1111.3 L919.0,1157.5 L921.6,1135.7 L924.2,1119.5 L926.8,1087.2 L929.4,1075.6 L932.0,1074.3 L934.6,1060.2 L937.2,1101.9 L939.8,1148.3 L942.4,1063.4 L945.0,1148.5 L947.6,1144.3 L950.2,1114.0 L952.8,1118.5 L955.4,1138.3 L958.0,1111.7 L960.6,1095.9 L963.2,1101.3 L965.8,1178.8 L968.4,1124.0 L971.0,1166.5 L973.6,1137.2 L976.2,1085.0 L978.8,1112.4 L981.4,1188.6 L984.0,1138.0 L986.6,1063.3 L989.2,1107.1 L991.8,1134.4 L994.4,1081.7 L997.0,1096.2 L999.6,1099.4 L1002.2,1038.7 L1004.8,1028.2 L1007.4,1129.7 L1010.0,1129.8 L1012.6,1110.3 L1015.2,1160.3 L1017.8,1115.1 L1020.4,1148.7 L1023.0,1137.8 L1025.6,1169.9 L1028.2,1065.8 L1030.8,1170.4 L1033.4,1130.2 L1036.0,1126.9 L1038.6,1176.5 L1041.2,1139.3 L1043.8,1159.1 L1046.4,1157.0 L1049.0,1112.4 L1051.6,1081.3 L1054.2,1134.3 L1056.8,1150.1 L1059.4,1123.6 L1062.0,1131.6 L1064.6,1140.8 L1067.2,1151.7 L1069.8,1132.4 L1072.4,1144.7 L1075.0,1126.3 L1077.6,1139.6 L1080.2,1087.9 L1082.8,1121.9 L1085.4,1129.6 L1088.0,1060.8 L1090.6,1055.6 L1093.2,1127.1 L1095.8,1135.7 L1098.4,1157.0 L1101.0,1108.5 L1103.6,1135.6" stroke="#4DBEEE"/>
<path d="M120.8,489.5 L121.0,500.0 L121.9,598.8 L123.7,704.0 L126.8,789.3 L130.5,874.0 L131.9,921.9 L133.4,886.3 L134.8,931.9 L134.5,950.6 L138.3,997.5 L141.5,1100.8 L145.1,1105.5 L147.7,1222.3 L150.3,1156.2 L152.9,1116.3 L155.5,1122.5 L158.1,1112.8 L160.7,1186.0 L163.3,1080.6 L165.9,1147.4 L168.5,1140.7 L171.1,1136.4 L173.7,1090.0 L176.3,1138.3 L178.9,1127.0 L181.5,1166.3 L184.1,1169.1 L186.7,1109.3 L189.3,1159.7 L191.9,1162.8 L194.5,1095.5 L197.1,1126.3 L199.7,1114.9 L202.3,1091.7 L204.9,1103.3 L207.5,1076.9 L210.1,1089.3 L212.7,1134.6 L215.3,1115.2 L217.9,1119.7 L220.5,1142.3 L223.1,1111.2 L225.7,1142.8 L228.3,1112.2 L230.9,1118.7 L233.5,1147.1 L236.1,1069.4 L238.7,1073.4 L241.3,1067.5 L243.9,1076.7 L246.5,1070.8 L249.1,1108.5 L251.7,1048.8 L254.3,1121.8 L256.9,1125.9 L259.5,1116.2 L262.1,1146.7 L264.7,1130.4 L267.3,1064.8 L269.9,1196.0 L272.5,1149.3 L275.1,1139.9 L277.7,1092.5 L280.3,1146.4 L282.9,1103.5 L285.5,1151.7 L288.1,1136.7 L290.7,1122.0 L293.3,1191.7 L295.9,1161.5 L298.5,1105.9 L301.1,1119.8 L303.7,1101.8 L306.3,1129.5 L308.9,1095.6 L311.5,1156.4 L314.1,1102.6 L316.7,1093.6 L319.3,1121.6 L321.9,1157.7 L324.5,1091.9 L327.1,1072.7 L329.7,1075.1 L332.3,1138.2 L334.9,1104.9 L337.5,1077.8 L340.1,1141.3 L342.7,1181.3 L345.3,1116.8 L347.9,1073.3 L350.5,1128.6 L353.1,1122.9 L355.7,1154.6 L358.3,1174.0 L360.9,1105.5 L363.5,1079.2 L366.1,1125.8 L368.7,1152.3 L371.3,1165.2 L373.9,1076.9 L376.5,1128.9 L379.1,1139.2 L381.7,1119.2 L384.3,1104.6 L386.9,1139.9 L389.5,1179.8 L392.1,1153.7 L394.7,1165.5 L397.3,1130.2 L399.9,1154.0 L402.5,1111.3 L405.1,1157.1 L407.7,1126.3 L410.3,1096.1 L412.9,1089.1 L415.5,1184.9 L418.1,1112.4 L420.7,1129.7 L423.3,1131.6 L425.9,1158.7 L428.5,1182.5 L431.1,1127.9 L433.7,1088.7 L436.3,1187.9 L438.9,1135.6 L441.5,1106.8 L444.1,1093.3 L446.7,1181.2 L449.3,1118.7 L451.9,1187.2 L454.5,1075.2 L457.1,1131.2 L459.7,1106.0 L462.3,1124.0 L464.9,1175.0 L467.5,1060.8 L470.1,1113.0 L472.7,1141.3 L475.3,1197.2 L477.9,1075.4 L480.5,1159.3 L483.1,1119.5 L485.7,1084.1 L488.3,1077.0 L490.9,1127.0 L493.5,1113.4 L496.1,1095.8 L498.7,1108.6 L501.3,1198.2 L503.9,1111.9 L506.5,1138.0 L509.1,1101.2 L511.7,1161.6 L514.3,1127.0 L516.9,1125.0 L519.5,1125.3 L522.1,1166.4 L524.7,1150.7 L527.3,1118.5 L529.9,1037.6 L532.5,1135.3 L535.1,1100.1 L537.7,1115.5 L540.3,1083.7 L542.9,1195.7 L545.5,1202.5 L548.1,1129.9 L550.7,1142.8 L553.3,1150.2 L555.9,1139.1 L558.5,1104.6 L561.1,1051.0 L563.7,1190.1 L566.3,1148.9 L568.9,1107.2 L571.5,1159.4 L574.1,1122.0 L576.7,1133.1 L579.3,1138.1 L581.9,1111.0 L584.5,1134.9 L587.1,1100.4 L589.7,1053.3 L592.3,1137.8 L594.9,1060.4 L597.5,1120.0 L600.1,1132.7 L602.7,1085.0 L605.3,1088.4 L607.9,1114.4 L610.5,1086.9 L613.1,1163.5 L615.7,1120.6 L618.3,1116.6 L620.9,1188.3 L623.5,1059.6 L626.1,1133.7 L628.7,1132.7 L631.3,1089.6 L633.9,1088.3 L636.5,1109.7 L639.1,1081.8 L641.7,1142.4 L644.3,1183.0 L646.9,1182.0 L649.5,1138.4 L652.1,1085.2 L654.7,1166.0 L657.3,1052.3 L659.9,1161.6 L662.5,1123.2 L665.1,1076.9 L667.7,1139.1 L670.3,1202.1 L672.9,1074.7 L675.5,1162.8 L678.1,1066.3 L680.7,1081.2 L683.3,1070.0 L685.9,1125.5 L688.5,1069.8 L691.1,1138.0 L693.7,1082.7 L696.3,1131.9 L698.9,1099.3 L701.5,1086.6 L704.1,1132.8 L706.7,1163.4 L709.3,1102.7 L711.9,1108.0 L714.5,1111.5 L717.1,1088.6 L719.7,1140.7 L722.3,1182.9 L724.9,1171.5 L727.5,1144.7 L730.1,1183.1 L732.7,1137.4 L735.3,1136.7 L737.9,1191.1 L740.5,1122.7 L743.1,1169.0 L745.7,1206.5 L748.3,1119.7 L750.9,1152.0 L753.5,1122.4 L756.1,1108.3 L758.7,1181.4 L761.3,1124.4 L763.9,1058.2 L766.5,1080.5 L769.1,1135.1 L771.7,1111.5 L774.3,1107.7 L776.9,1108.4 L779.5,1161.3 L782.1,1133.8 L784.7,1192.9 L787.3,1102.2 L789.9,1147.7 L792.5,1127.6 L795.1,1077.9 L797.7,1116.3 L800.3,1155.0 L802.9,1123.4 L805.5,1056.9 L809.0,1050.0 L811.6,997.9 L810.5,984.0 L814.0,839.8 L817.4,825.8 L817.4,789.8 L819.8,770.0 L825.0,596.2 L825.9,582.2 L826.8,596.2 L830.2,770.0 L834.9,886.3 L839.5,986.3 L842.0,1050.0 L844.5,1154.1 L847.1,1059.5 L849.7,1109.9 L852.3,1125.7 L854.9,1143.1 L857.5,1141.0 L860.1,1111.0 L862.7,1187.2 L865.3,1065.6 L867.9,1132.5 L870.5,1071.6 L873.1,1121.0 L875.7,1180.6 L878.3,1054.7 L880.9,1040.5 L883.5,996.3 L886.1,986.1 L888.7,931.4 L889.0,926.2 L891.3,971.8 L893.9,1004.8 L896.5,1052.4 L899.1,1057.2 L901.7,1078.5 L904.3,1120.2 L906.9,1135.4 L909.5,1123.9 L912.1,1107.0 L914.7,1148.9 L917.3,1080.9 L919.9,1151.7 L922.5,1099.9 L925.1,1181.3 L927.7,1107.3 L930.3,1099.6 L932.9,1079.5 L935.5,1149.3 L938.1,1121.8 L940.7,1134.2 L943.3,1067.8 L945.9,1091.0 L948.5,1105.2 L951.1,1110.5 L953.7,1124.4 L956.3,1060.9 L958.9,1101.3 L961.5,1115.7 L964.1,1064.6 L966.7,1119.4 L969.3,1103.6 L971.9,1165.2 L974.5,1137.9 L977.1,1073.7 L979.7,1102.3 L982.3,1120.0 L984.9,1152.9 L987.5,1118.4 L990.1,1119.3 L992.7,1115.5 L995.3,1128.1 L997.9,1141.7 L1000.5,1092.5 L1003.1,1136.9 L1005.7,1126.5 L1008.3,1228.1 L1010.9,1127.6 L1013.5,1134.7 L1016.1,1144.6 L1018.7,1089.4 L1021.3,1136.4 L1023.9,1093.7 L1026.5,1063.4 L1029.1,1101.6 L1031.7,1138.6 L1034.3,1095.5 L1036.9,1073.1 L1039.5,1093.2 L1042.1,1060.9 L1044.7,1111.7 L1047.3,1172.5 L1049.9,1112.1 L1052.5,1100.8 L1055.1,1136.2 L1057.7,1116.0 L1060.3,1148.9 L1062.9,1127.8 L1065.5,1109.9 L1068.1,1117.1 L1070.7,1064.4 L1073.3,1088.3 L1075.9,1097.6 L1078.5,1149.0 L1081.1,1072.2 L1083.7,1173.9 L1086.3,1144.1 L1088.9,1113.0 L1091.5,1164.3 L1094.1,1124.1 L1096.7,1067.9 L1099.3,1084.2 L1101.9,1128.2 L1104.5,1104.0" stroke="#A2142F"/>
<path d="M120.8,491.5 L121.0,500.0 L121.9,595.3 L123.8,705.8 L127.1,784.0 L130.9,851.0 L132.4,939.8 L133.9,909.2 L135.3,949.8 L135.2,945.0 L139.1,1010.1 L143.2,1095.9 L144.9,1083.3 L147.5,1168.3 L150.1,1112.7 L152.7,1199.7 L155.3,1109.2 L157.9,1143.6 L160.5,1104.1 L163.1,1113.9 L165.7,1080.1 L168.3,1104.6 L170.9,1098.4 L173.5,1086.2 L176.1,1144.1 L178.7,1083.8 L181.3,1105.2 L183.9,1063.5 L186.5,1122.3 L189.1,1103.3 L191.7,1133.0 L194.3,1143.2 L196.9,1156.8 L199.5,1064.4 L202.1,1158.5 L204.7,1144.4 L207.3,1194.2 L209.9,1245.4 L212.5,1134.7 L215.1,1094.7 L217.7,1135.0 L220.3,1197.1 L222.9,1174.9 L225.5,1106.5 L228.1,1145.0 L230.7,1075.9 L233.3,1159.8 L235.9,1080.8 L238.5,1189.1 L241.1,1136.8 L243.7,1191.2 L246.3,1088.7 L248.9,1097.0 L251.5,1112.5 L254.1,1136.5 L256.7,1149.0 L259.3,1174.4 L261.9,1148.2 L264.5,1155.2 L267.1,1114.1 L269.7,1174.2 L272.3,1215.2 L274.9,1116.3 L277.5,1132.5 L280.1,1087.2 L282.7,1117.4 L285.3,1103.9 L287.9,1179.1 L290.5,1098.5 L293.1,1115.7 L295.7,1062.3 L298.3,1112.4 L300.9,1129.5 L303.5,1180.9 L306.1,1114.1 L308.7,1077.2 L311.3,1143.1 L313.9,1164.6 L316.5,1116.5 L319.1,1159.6 L321.7,1107.5 L324.3,1135.3 L326.9,1097.2 L329.5,1106.0 L332.1,1127.3 L334.7,1100.2 L337.3,1162.1 L339.9,1108.1 L342.5,1129.3 L345.1,1112.7 L347.7,1062.6 L350.3,1139.3 L352.9,1102.5 L355.5,1099.9 L358.1,1091.6 L360.7,1124.5 L363.3,1083.5 L365.9,1072.1 L368.5,1154.1 L371.1,1153.0 L373.7,1119.1 L376.3,1099.9 L378.9,1148.9 L381.5,1128.2 L384.1,1192.8 L386.7,1185.8 L389.3,1175.8 L391.9,1071.2 L394.5,1040.7 L397.1,1156.5 L399.7,1125.3 L402.3,1104.2 L404.9,1096.7 L407.5,1129.1 L410.1,1120.2 L412.7,1185.3 L415.3,1128.4 L417.9,1166.8 L420.5,1151.3 L423.1,1130.3 L425.7,1180.2 L428.3,1162.6 L430.9,1126.6 L433.5,1109.2 L436.1,1120.5 L438.7,1109.1 L441.3,1164.9 L443.9,1118.5 L446.5,1149.2 L449.1,1104.6 L451.7,1115.5 L454.3,1152.4 L456.9,1147.1 L459.5,1123.7 L462.1,1106.8 L464.7,1148.4 L467.3,1100.4 L469.9,1160.3 L472.5,1120.6 L475.1,1106.9 L477.7,1101.3 L480.3,1118.2 L482.9,1126.7 L485.5,1113.6 L488.1,1170.5 L490.7,1100.7 L493.3,1125.3 L495.9,1182.2 L498.5,1129.9 L501.1,1121.5 L503.7,1100.1 L506.3,1136.5 L508.9,1119.2 L511.5,1171.8 L514.1,1169.6 L516.7,1130.3 L519.3,1104.4 L521.9,1148.4 L524.5,1122.6 L527.1,1152.5 L529.7,1063.6 L532.3,1142.0 L534.9,1132.7 L537.5,1065.0 L540.1,1086.1 L542.7,1125.3 L545.3,1099.4 L547.9,1129.0 L550.5,1086.4 L553.1,1167.0 L555.7,1165.4 L558.3,1139.4 L560.9,1150.7 L563.5,1173.9 L566.1,1136.9 L568.7,1121.0 L571.3,1094.1 L573.9,1052.4 L576.5,1126.9 L579.1,1186.8 L581.7,1105.8 L584.3,1159.4 L586.9,1139.9 L589.5,1148.4 L592.1,1159.1 L594.7,1120.7 L597.3,1095.9 L599.9,1105.4 L602.5,1133.5 L605.1,1099.9 L607.7,1093.3 L610.3,1102.6 L612.9,1167.8 L615.5,1115.7 L618.1,1170.2 L620.7,1092.0 L623.3,1169.3 L625.9,1105.6 L628.5,1099.8 L631.1,1091.5 L633.7,1072.4 L636.3,1153.0 L638.9,1196.9 L641.5,1125.5 L644.1,1087.2 L646.7,1140.9 L649.3,1104.0 L651.9,1090.0 L654.5,1073.2 L657.1,1136.1 L659.7,1100.2 L662.3,1038.0 L664.9,1126.5 L667.5,1031.1 L670.1,1072.1 L672.7,1112.7 L675.3,1062.7 L677.9,1075.0 L680.5,1090.0 L683.1,1124.0 L685.7,1105.5 L688.3,1149.0 L690.9,1153.3 L693.5,1109.2 L696.1,1142.8 L698.7,1137.8 L701.3,1087.9 L703.9,1052.5 L706.5,1109.3 L709.1,1088.2 L711.7,1146.5 L714.3,1081.5 L716.9,1198.2 L719.5,1179.9 L722.1,1146.1 L724.7,1074.1 L727.3,1117.3 L729.9,1109.0 L732.5,1121.9 L735.1,1113.4 L737.7,1152.3 L740.3,1071.6 L742.9,1204.2 L745.5,1144.8 L748.1,1110.4 L750.7,1178.6 L753.3,1071.4 L755.9,1067.0 L758.5,1113.3 L761.1,1153.6 L763.7,1091.5 L766.3,1102.7 L768.9,1118.0 L771.5,1102.7 L774.1,1114.3 L776.7,1093.7 L779.3,1125.7 L781.9,1158.0 L784.5,1131.0 L787.1,1165.8 L789.7,1166.9 L792.3,1092.2 L794.9,1094.0 L797.5,1120.5 L800.1,1080.0 L802.7,1110.9 L805.3,1100.3 L807.9,1181.9 L810.5,1089.7 L813.1,1170.1 L815.7,1093.9 L818.3,1112.3 L820.9,1032.4 L823.5,1111.1 L826.1,1106.4 L828.7,1177.5 L831.3,1167.0 L833.9,1149.4 L836.5,1148.2 L839.1,1161.2 L841.7,1138.4 L844.3,1133.9 L846.9,1216.6 L849.5,1109.5 L852.1,1090.8 L854.7,1123.4 L857.3,1194.3 L859.9,1112.2 L862.0,1050.0 L866.3,1014.2 L865.1,981.6 L868.6,909.5 L870.9,807.2 L874.4,770.0 L880.8,590.6 L881.7,576.6 L882.6,590.6 L884.9,770.0 L887.2,777.0 L887.2,856.0 L889.5,895.6 L894.2,932.8 L898.8,1025.8 L901.5,1069.4 L904.1,1137.3 L906.7,1155.7 L909.3,1073.6 L911.9,1122.9 L914.5,1109.5 L917.1,1131.4 L919.7,1071.3 L922.3,1171.3 L924.9,1088.0 L927.5,1093.3 L930.1,1091.4 L932.7,1141.0 L935.3,1095.8 L937.9,1114.3 L940.5,1110.4 L943.1,1091.7 L945.7,1148.0 L948.3,1125.0 L950.9,1147.0 L953.5,1107.5 L956.1,1071.3 L958.7,1079.2 L961.3,1146.5 L963.9,1108.0 L966.5,1090.0 L969.1,1153.5 L971.7,1087.8 L974.3,1110.0 L976.9,1101.9 L979.5,1173.0 L982.1,1099.1 L984.7,1071.1 L987.3,1146.2 L989.9,1118.7 L992.5,1139.5 L995.1,1132.7 L997.7,1175.8 L1000.3,1109.5 L1002.9,1133.1 L1005.5,1087.1 L1008.1,1047.9 L1010.7,1129.9 L1013.3,1161.2 L1015.9,1122.6 L1018.5,1114.1 L1021.1,1100.1 L1023.7,1081.9 L1026.3,1181.8 L1028.9,1149.5 L1031.5,1134.2 L1034.1,1107.2 L1036.7,1176.4 L1039.3,1154.8 L1041.9,1107.9 L1044.5,1159.9 L1047.1,1202.0 L1049.7,1098.2 L1052.3,1114.4 L1054.9,1090.3 L1057.5,1123.3 L1060.1,1168.9 L1062.7,1172.6 L1065.3,1125.6 L1067.9,1190.3 L1070.5,1121.2 L1073.1,1062.2 L1075.7,1122.0 L1078.3,1157.0 L1080.9,1149.5 L1083.5,1208.2 L1086.1,1108.9 L1088.7,1149.5 L1091.3,1120.0 L1093.9,1072.4 L1096.5,1157.8 L1099.1,1137.5 L1101.7,1097.7 L1104.3,1197.8" stroke="#0072BD"/>
<path d="M120.8,493.5 L121.0,500.0 L122.0,602.9 L123.9,690.1 L127.3,794.2 L131.2,870.7 L135.6,941.8 L139.6,1014.4 L143.0,1057.1 L144.5,1120.0 L147.1,1121.3 L149.7,1110.0 L152.3,1115.4 L154.9,1101.4 L157.5,1145.5 L160.1,1148.1 L162.7,1138.0 L165.3,1171.0 L167.9,1076.7 L170.5,1166.3 L173.1,1102.9 L175.7,1183.8 L178.3,1179.3 L180.9,1149.2 L183.5,1120.3 L186.1,1100.9 L188.7,1126.7 L191.3,1176.7 L193.9,1130.1 L196.5,1119.1 L199.1,1142.6 L201.7,1118.1 L204.3,1150.5 L206.9,1168.8 L209.5,1121.7 L212.1,1142.7 L214.7,1168.7 L217.3,1108.2 L219.9,1064.9 L222.5,1161.8 L225.1,1210.3 L227.7,1142.1 L230.3,1102.0 L232.9,1153.9 L235.5,1098.9 L238.1,1100.3 L240.7,1063.6 L243.3,1105.1 L245.9,1161.3 L248.5,1093.5 L251.1,1188.6 L253.7,1144.4 L256.3,1111.3 L258.9,1131.5 L261.5,1140.8 L264.1,1125.0 L266.7,1157.9 L269.3,1126.9 L271.9,1123.5 L274.5,1111.1 L277.1,1146.8 L279.7,1190.1 L282.3,1095.1 L284.9,1143.2 L287.5,1182.4 L290.1,1124.5 L292.7,1134.6 L295.3,1130.1 L297.9,1165.8 L300.5,1158.8 L303.1,1165.2 L305.7,1116.3 L308.3,1170.6 L310.9,1131.5 L313.5,1165.8 L316.1,1136.6 L318.7,1170.1 L321.3,1127.6 L323.9,1145.5 L326.5,1163.4 L329.1,1161.1 L331.7,1150.2 L334.3,1159.2 L336.9,1109.3 L339.5,1032.7 L342.1,1126.1 L344.7,1145.4 L347.3,1061.4 L349.9,1100.8 L352.5,1150.1 L355.1,1164.6 L357.7,1146.7 L360.3,1187.0 L362.9,1197.6 L365.5,1112.8 L368.1,1158.0 L370.7,1110.2 L373.3,1225.5 L375.9,1131.7 L378.5,1067.0 L381.1,1088.2 L383.7,1083.5 L386.3,1082.9 L388.9,1131.0 L391.5,1068.5 L394.1,1138.4 L396.7,1102.2 L399.3,1166.5 L401.9,1195.8 L404.5,1135.5 L407.1,1141.3 L409.7,1130.7 L412.3,1150.2 L414.9,1149.2 L417.5,1211.0 L420.1,1102.6 L422.7,1078.7 L425.3,1147.1 L427.9,1199.3 L430.5,1153.9 L433.1,1101.8 L435.7,1139.2 L438.3,1215.2 L440.9,1137.4 L443.5,1170.5 L446.1,1140.5 L448.7,1150.7 L451.3,1164.6 L453.9,1125.4 L456.5,1162.7 L459.1,1195.2 L461.7,1165.3 L464.3,1098.6 L466.9,1155.1 L469.5,1166.0 L472.1,1242.0 L474.7,1165.4 L477.3,1154.1 L479.9,1114.4 L482.5,1175.2 L485.1,1116.6 L487.7,1094.4 L490.3,1168.5 L492.9,1140.1 L495.5,1084.3 L498.1,1131.4 L500.7,1146.0 L503.3,1153.4 L505.9,1061.2 L508.5,1152.6 L511.1,1211.0 L513.7,1145.4 L516.3,1145.5 L518.9,1148.3 L521.5,1116.0 L524.1,1082.1 L526.7,1076.2 L529.3,1075.2 L531.9,1119.3 L534.5,1153.6 L537.1,1157.8 L539.7,1179.2 L542.3,1103.8 L544.9,1158.5 L547.5,1113.9 L550.1,1124.0 L552.7,1095.8 L555.3,1139.5 L557.9,1116.9 L560.5,1095.1 L563.1,1050.3 L565.7,1119.9 L568.3,1111.4 L570.9,1126.6 L573.5,1174.7 L576.1,1101.5 L578.7,1093.8 L581.3,1161.4 L583.9,1070.3 L586.5,1177.0 L589.1,1120.9 L591.7,1147.5 L594.3,1110.8 L596.9,1162.0 L599.5,1039.2 L602.1,1139.3 L604.7,1083.5 L607.3,1079.5 L609.9,1149.3 L612.5,1143.3 L615.1,1111.1 L617.7,1157.1 L620.3,1157.7 L622.9,1197.8 L625.5,1174.9 L628.1,1177.1 L630.7,1133.6 L633.3,1130.4 L635.9,1176.3 L638.5,1159.8 L641.1,1150.9 L643.7,1083.2 L646.3,1150.9 L648.9,1164.1 L651.5,1118.8 L654.1,1120.2 L656.7,1144.4 L659.3,1167.1 L661.9,1150.5 L664.5,1136.3 L667.1,1166.7 L669.7,1181.9 L672.3,1212.3 L674.9,1142.1 L677.5,1113.1 L680.1,1046.4 L682.7,1139.2 L685.3,1134.3 L687.9,1135.0 L690.5,1160.1 L693.1,1227.4 L695.7,1112.0 L698.3,1133.5 L700.9,1142.0 L703.5,1092.3 L706.1,1060.5 L708.7,1167.6 L711.3,1120.4 L713.9,1117.6 L716.5,1090.3 L719.1,1166.1 L721.7,1155.7 L724.3,1163.3 L726.9,1149.5 L729.5,1100.6 L732.1,1201.8 L734.7,1171.6 L737.3,1075.3 L739.9,1160.1 L742.5,1180.4 L745.1,1115.5 L747.7,1138.7 L750.3,1159.9 L752.9,1144.0 L755.5,1124.4 L758.1,1150.1 L760.7,1137.3 L763.3,1147.6 L765.9,1200.8 L768.5,1114.9 L771.1,1096.9 L773.7,1144.3 L776.3,1127.4 L778.9,1114.5 L781.5,1158.4 L784.1,1123.0 L786.7,1154.2 L789.3,1131.2 L791.9,1101.9 L794.5,1204.6 L797.1,1180.9 L799.7,1152.4 L802.3,1169.5 L804.9,1086.1 L807.5,1199.9 L810.1,1149.6 L812.7,1118.1 L815.3,1134.6 L817.9,1065.7 L820.5,1148.5 L823.1,1151.5 L825.7,1144.8 L828.3,1118.4 L830.9,1164.5 L833.5,1121.9 L836.1,1110.6 L838.7,1126.9 L841.3,1174.7 L843.9,1105.3 L846.5,1069.7 L849.1,1087.6 L851.7,1153.9 L854.3,1153.3 L856.9,1133.3 L859.5,1141.0 L862.1,1110.4 L864.7,1076.1 L867.3,1092.7 L869.9,1094.5 L872.5,1107.9 L875.1,1161.0 L877.7,1058.9 L880.3,1068.6 L882.9,1110.8 L885.5,1125.1 L888.1,941.2 L889.0,927.7 L890.7,963.2 L893.3,989.9 L895.9,996.0 L898.5,1134.7 L901.1,1137.9 L903.5,1025.8 L906.0,985.0 L908.8,1021.2 L907.0,979.3 L910.5,886.3 L912.8,811.9 L916.3,770.0 L922.5,599.8 L923.4,585.8 L924.3,599.8 L926.7,770.0 L930.2,811.9 L931.4,893.3 L934.9,921.2 L937.2,1037.4 L940.1,1113.1 L942.7,1166.5 L945.3,1109.2 L947.9,1018.9 L950.5,1126.6 L953.1,1172.5 L955.7,1115.4 L958.3,1161.7 L960.9,1128.3 L963.5,1129.4 L966.1,1132.9 L968.7,1134.9 L971.3,1052.7 L973.9,1111.1 L976.5,1164.6 L979.1,1078.8 L981.7,1152.1 L984.3,1108.4 L986.9,1113.6 L989.5,1130.9 L992.1,1117.3 L994.7,1157.9 L997.3,1140.6 L999.9,1127.3 L1002.5,1131.2 L1005.1,1083.0 L1007.7,1114.9 L1010.3,1127.7 L1012.9,1145.9 L1015.5,1145.2 L1018.1,1128.9 L1020.7,1096.7 L1023.3,1117.7 L1025.9,1119.5 L1028.5,1123.3 L1031.1,1128.6 L1033.7,1114.3 L1036.3,1131.6 L1038.9,1171.1 L1041.5,1086.3 L1044.1,1052.0 L1046.7,1128.6 L1049.3,1101.0 L1051.9,1151.7 L1054.5,1089.9 L1057.1,1109.1 L1059.7,1127.5 L1062.3,1167.3 L1064.9,1149.4 L1067.5,1158.5 L1070.1,1094.1 L1072.7,1097.5 L1075.3,1080.9 L1077.9,1160.7 L1080.5,1097.6 L1083.1,1234.7 L1085.7,1087.6 L1088.3,1115.5 L1090.9,1171.8 L1093.5,1149.8 L1096.1,1209.8 L1098.7,1107.8 L1101.3,1104.6 L1103.9,1169.4" stroke="#D95319"/>
<path d="M120.8,495.5 L121.0,500.0 L121.9,599.2 L123.7,709.3 L126.7,813.8 L130.3,860.8 L134.2,959.3 L138.0,1000.7 L143.1,1094.9 L144.5,1134.9 L147.1,1079.1 L149.7,1129.7 L152.3,1118.0 L154.9,1178.1 L157.5,1178.9 L160.1,1217.0 L162.7,1113.4 L165.3,1121.9 L167.9,1073.5 L170.5,1190.1 L173.1,1095.9 L175.7,1137.9 L178.3,1122.7 L180.9,1184.9 L183.5,1121.5 L186.1,1122.2 L188.7,1087.0 L191.3,1119.2 L193.9,1123.5 L196.5,1151.6 L199.1,1086.3 L201.7,1074.2 L204.3,1108.9 L206.9,1183.7 L209.5,1163.3 L212.1,1157.4 L214.7,1061.3 L217.3,1141.3 L219.9,1096.7 L222.5,1113.0 L225.1,1128.6 L227.7,1144.8 L230.3,1116.3 L232.9,1080.4 L235.5,1121.9 L238.1,1182.6 L240.7,1140.7 L243.3,1110.6 L245.9,1103.5 L248.5,1189.8 L251.1,1120.0 L253.7,1056.6 L256.3,1132.4 L258.9,1165.7 L261.5,1142.5 L264.1,1156.4 L266.7,1129.8 L269.3,1151.2 L271.9,965.6 L274.5,1161.6 L277.1,1153.4 L279.7,1131.6 L282.3,1117.5 L284.9,1178.2 L287.5,1192.1 L290.1,1134.7 L292.7,1180.1 L295.3,1124.5 L297.9,1156.3 L300.5,1109.5 L303.1,1152.4 L305.7,1138.6 L308.3,1119.3 L310.9,1108.1 L313.5,1159.1 L316.1,1126.0 L318.7,1149.0 L321.3,1070.5 L323.9,1156.3 L326.5,1171.5 L329.1,1085.1 L331.7,1219.5 L334.3,1076.6 L336.9,1138.2 L339.5,1095.1 L342.1,1090.9 L344.7,1163.9 L347.3,1095.8 L349.9,1087.4 L352.5,1151.4 L355.1,1181.9 L357.7,1131.2 L360.3,1126.4 L362.9,1143.3 L365.5,1148.5 L368.1,1125.4 L370.7,1114.4 L373.3,1112.7 L375.9,1114.4 L378.5,1105.2 L381.1,1143.7 L383.7,1086.2 L386.3,1152.2 L388.9,1170.4 L391.5,1087.7 L394.1,1131.2 L396.7,1153.7 L399.3,1131.7 L401.9,1186.9 L404.5,1158.5 L407.1,1119.7 L409.7,1098.5 L412.3,1094.4 L414.9,1127.9 L417.5,1124.9 L420.1,1073.3 L422.7,1192.8 L425.3,1173.5 L427.9,1139.3 L430.5,1169.5 L433.1,1070.3 L435.7,1116.6 L438.3,1155.4 L440.9,1066.6 L443.5,1072.0 L446.1,1112.9 L448.7,1067.3 L451.3,1139.7 L453.9,1148.1 L456.5,1026.0 L459.1,1187.8 L461.7,1116.8 L464.3,1131.3 L466.9,1159.1 L469.5,1159.3 L472.1,1144.9 L474.7,1071.5 L477.3,1162.8 L479.9,1127.5 L482.5,1136.5 L485.1,1069.0 L487.7,1105.7 L490.3,1126.7 L492.9,1153.3 L495.5,1095.9 L498.1,1097.0 L500.7,1094.7 L503.3,1141.5 L505.9,1154.2 L508.5,1159.7 L511.1,1131.2 L513.7,1168.1 L516.3,1092.5 L518.9,1052.6 L521.5,1133.8 L524.1,1170.9 L526.7,1112.4 L529.3,1142.2 L531.9,1129.1 L534.5,1122.3 L537.1,1084.7 L539.7,1102.7 L542.3,1163.9 L544.9,1149.3 L547.5,1049.3 L550.1,1150.5 L552.7,1134.2 L555.3,1146.2 L557.9,1146.9 L560.5,1111.4 L563.1,1074.2 L565.7,1168.3 L568.3,1074.7 L570.9,1128.4 L573.5,1096.1 L576.1,1165.9 L578.7,1176.1 L581.3,1142.6 L583.9,1158.2 L586.5,1153.8 L589.1,1156.3 L591.7,1131.5 L594.3,1223.7 L596.9,1152.7 L599.5,1108.7 L602.1,1145.0 L604.7,1147.5 L607.3,1109.8 L609.9,1115.6 L612.5,1133.4 L615.1,1108.4 L617.7,1095.2 L620.3,1102.9 L622.9,1144.1 L625.5,1179.2 L628.1,1091.4 L630.7,1154.5 L633.3,1174.9 L635.9,1163.2 L638.5,1170.9 L641.1,1145.5 L643.7,1170.0 L646.3,1119.4 L648.9,1092.9 L651.5,1115.1 L654.1,1153.7 L656.7,1155.3 L659.3,1150.2 L661.9,1130.4 L664.5,1176.8 L667.1,1123.1 L669.7,1136.7 L672.3,1155.1 L674.9,1116.2 L677.5,1090.7 L680.1,1124.0 L682.7,1050.2 L685.3,1150.7 L687.9,1108.7 L690.5,1198.8 L693.1,1120.3 L695.7,1104.1 L698.3,1166.7 L700.9,1158.6 L703.5,1138.6 L706.1,1146.7 L708.7,1063.1 L711.3,1122.5 L713.9,1166.4 L716.5,1104.6 L719.1,1103.4 L721.7,1104.2 L724.3,1101.4 L726.9,1151.0 L729.5,1120.8 L732.1,1109.1 L734.7,1111.3 L737.3,1152.4 L739.9,1107.1 L742.5,1137.1 L745.1,1146.3 L747.7,1161.7 L750.3,1172.5 L752.9,1175.1 L755.5,1212.0 L758.1,1150.1 L760.7,1195.9 L763.3,1150.0 L765.9,1130.3 L768.5,1083.2 L771.1,1140.0 L773.7,1160.9 L776.3,1167.3 L778.9,1162.1 L781.5,1082.3 L784.1,1171.8 L786.7,1120.2 L789.3,1097.7 L791.9,1077.5 L794.5,1080.9 L797.1,1096.9 L799.7,1150.4 L802.3,1102.2 L804.9,1129.3 L807.5,1119.7 L810.1,1164.3 L812.7,1084.0 L815.3,1181.5 L817.9,1146.3 L820.5,1191.2 L823.1,1174.8 L825.7,1132.2 L828.3,1189.4 L830.9,1168.4 L833.5,1154.4 L836.1,1214.5 L838.7,1241.3 L841.3,1146.7 L843.9,1164.1 L846.5,1155.4 L849.1,1149.4 L851.7,1153.8 L854.3,1151.4 L856.9,1169.1 L859.5,1122.3 L862.1,1132.4 L864.7,1129.4 L867.3,1127.5 L869.9,1143.7 L872.5,1175.4 L875.1,1075.0 L877.7,1035.7 L880.3,1113.8 L882.9,980.9 L885.5,957.7 L888.1,1076.7 L888.5,897.5 L890.7,930.9 L893.3,957.4 L895.9,1004.2 L898.5,1016.5 L901.1,1043.2 L903.7,1101.0 L906.3,1112.9 L908.9,1181.8 L911.5,1152.1 L914.1,1128.0 L916.7,1173.6 L919.3,1136.6 L921.9,1170.4 L924.5,1132.1 L927.1,1144.1 L929.7,1155.2 L932.3,1171.5 L934.9,1120.2 L937.5,1176.3 L940.1,1131.8 L942.7,1180.6 L945.3,1137.5 L947.9,1073.0 L952.3,1037.4 L959.3,1002.6 L954.7,974.7 L959.3,974.7 L962.8,844.4 L966.3,770.0 L972.9,605.6 L973.8,591.6 L974.7,605.6 L976.7,770.0 L979.1,779.3 L977.9,814.2 L982.6,897.9 L986.0,1028.1 L989.5,1007.2 L991.0,1045.0 L994.7,1139.8 L997.3,1121.6 L999.9,1171.1 L1002.5,1137.8 L1005.1,1143.3 L1007.7,1147.0 L1010.3,1162.3 L1012.9,1150.7 L1015.5,1118.2 L1018.1,1163.4 L1020.7,1139.4 L1023.3,1121.0 L1025.9,1177.2 L1028.5,1147.4 L1031.1,1175.7 L1033.7,1097.9 L1036.3,1091.6 L1038.9,1134.7 L1041.5,1150.4 L1044.1,1183.4 L1046.7,1086.6 L1049.3,1138.1 L1051.9,1167.7 L1054.5,1134.5 L1057.1,1142.7 L1059.7,1105.7 L1062.3,1119.0 L1064.9,1111.6 L1067.5,1089.9 L1070.1,1155.2 L1072.7,1138.1 L1075.3,1131.8 L1077.9,1124.2 L1080.5,1094.7 L1083.1,1147.4 L1085.7,1177.2 L1088.3,1080.7 L1090.9,1166.2 L1093.5,1086.4 L1096.1,1168.9 L1098.7,1063.1 L1101.3,1110.3 L1103.9,1127.1" stroke="#EDB120"/>
<path d="M120.8,497.5 L121.0,500.0 L121.6,597.9 L122.9,700.6 L124.8,804.5 L127.3,859.9 L128.4,905.3 L129.9,874.6 L131.0,915.3 L129.9,969.0 L133.1,999.5 L137.1,1072.6 L142.7,1186.2 L145.3,1119.0 L147.9,1109.3 L150.5,1058.5 L153.1,1132.7 L155.7,1138.8 L158.3,1100.8 L160.9,1101.0 L163.5,1067.0 L166.1,1153.3 L168.7,1065.2 L171.3,1169.6 L173.9,1115.7 L176.5,1171.8 L179.1,1107.4 L181.7,1100.3 L184.3,1121.7 L186.9,1137.8 L189.5,1134.2 L192.1,1090.2 L194.7,1124.6 L197.3,1114.8 L199.9,1114.3 L202.5,1075.6 L205.1,1127.5 L207.7,1071.3 L210.3,1090.9 L212.9,1097.4 L215.5,1069.8 L218.1,1064.2 L220.7,1097.5 L223.3,1081.2 L225.9,1088.1 L228.5,1128.0 L231.1,1081.5 L233.7,1076.4 L236.3,1112.2 L238.9,1046.5 L241.5,1227.8 L244.1,1122.8 L246.7,1131.8 L249.3,1149.7 L251.9,1136.9 L254.5,1108.6 L257.1,1087.5 L259.7,1096.1 L262.3,1148.4 L264.9,1129.1 L267.5,1116.3 L270.1,1080.2 L272.7,1149.0 L275.3,1095.5 L277.9,1183.1 L280.5,1136.6 L283.1,1208.6 L285.7,1143.9 L288.3,1060.3 L290.9,1142.9 L293.5,1154.6 L296.1,1095.6 L298.7,1072.3 L301.3,1170.9 L303.9,1148.5 L306.5,1108.0 L309.1,1118.4 L311.7,1114.7 L314.3,1095.6 L316.9,1177.9 L319.5,1108.7 L322.1,1020.7 L324.7,1147.3 L327.3,1153.1 L329.9,1129.3 L332.5,1071.5 L335.1,1130.0 L337.7,1177.5 L340.3,1090.4 L342.9,1040.4 L345.5,1084.8 L348.1,1127.0 L350.7,1121.4 L353.3,1068.9 L355.9,1134.8 L358.5,1113.6 L361.1,1112.3 L363.7,1110.3 L366.3,1153.0 L368.9,1110.7 L371.5,1134.6 L374.1,1143.1 L376.7,1049.6 L379.3,1084.7 L381.9,1114.2 L384.5,1142.1 L387.1,1148.7 L389.7,1141.9 L392.3,1150.5 L394.9,1075.6 L397.5,1125.9 L400.1,1084.1 L402.7,1161.9 L405.3,1102.7 L407.9,1151.8 L410.5,1113.3 L413.1,1073.6 L415.7,1151.0 L418.3,1097.1 L420.9,1053.0 L423.5,1130.9 L426.1,1153.2 L428.7,1147.9 L431.3,1149.3 L433.9,1129.9 L436.5,1142.8 L439.1,1093.3 L441.7,1092.6 L444.3,1219.0 L446.9,1076.1 L449.5,1115.3 L452.1,1189.1 L454.7,1115.6 L457.3,1070.6 L459.9,1129.1 L462.5,1098.7 L465.1,1148.0 L467.7,1087.4 L470.3,1165.6 L472.9,1148.3 L475.5,1140.6 L478.1,1095.8 L480.7,1073.6 L483.3,1088.0 L485.9,1133.6 L488.5,1150.8 L491.1,1049.0 L493.7,1124.1 L496.3,1114.5 L498.9,1161.8 L501.5,1156.7 L504.1,1111.5 L506.7,1105.0 L509.3,1157.7 L511.9,1147.7 L514.5,1130.1 L517.1,1087.7 L519.7,1136.5 L522.3,1068.0 L524.9,1095.9 L527.5,1044.4 L530.1,1119.1 L532.7,1105.6 L535.3,1136.2 L537.9,1112.2 L540.5,1099.2 L543.1,1158.3 L545.7,1109.6 L548.3,1124.8 L550.9,1142.1 L553.5,1194.3 L556.1,1129.1 L558.7,1148.0 L561.3,1182.0 L563.9,1134.0 L566.5,1163.0 L569.1,1158.2 L571.7,1096.2 L574.3,1171.3 L576.9,1108.5 L579.5,1126.9 L582.1,1114.8 L584.7,1084.8 L587.3,1092.1 L589.9,1119.4 L592.5,1141.4 L595.1,1111.8 L597.7,1120.1 L600.3,1121.9 L602.9,1105.7 L605.5,1078.3 L608.1,1111.7 L610.7,1085.3 L613.3,1154.0 L615.9,1120.8 L618.5,1070.4 L621.1,1135.2 L623.7,1114.5 L626.3,1168.9 L628.9,1085.2 L631.5,1099.0 L634.1,1142.4 L636.7,1138.1 L639.3,1076.0 L641.9,1133.8 L644.5,1081.1 L647.1,1063.4 L649.7,1099.9 L652.3,1066.3 L654.9,1080.0 L657.5,1128.5 L660.1,1123.6 L662.7,1109.9 L665.3,1077.7 L667.9,1193.7 L670.5,1168.8 L673.1,1163.6 L675.7,1152.4 L678.3,1083.1 L680.9,1090.3 L683.5,1136.6 L686.1,1183.8 L688.7,1141.1 L691.3,1103.9 L693.9,1123.1 L696.5,1038.7 L699.1,1142.6 L701.7,1132.3 L704.3,1102.1 L706.9,1095.2 L709.5,1108.8 L712.1,1182.8 L714.7,1153.9 L717.3,1108.1 L719.9,1141.7 L722.5,1033.1 L725.1,1091.9 L727.7,1129.6 L730.3,1119.6 L732.9,1096.4 L735.5,1156.2 L738.1,1144.5 L740.7,1151.7 L743.3,1135.7 L745.9,1196.7 L748.5,1178.2 L751.1,1065.8 L753.7,1114.4 L756.3,1154.1 L758.9,1053.0 L761.5,1069.2 L764.1,1086.1 L766.7,1029.7 L769.3,1116.6 L771.9,1143.3 L774.5,1120.2 L777.1,1084.7 L779.7,1066.6 L782.3,1069.7 L784.9,1191.2 L787.5,1153.1 L790.1,1097.8 L792.7,1208.8 L795.3,1113.7 L797.9,1113.1 L800.5,1092.4 L803.1,1120.3 L805.7,1071.5 L808.3,1149.9 L810.9,1060.5 L813.5,1145.1 L816.1,1133.6 L818.7,1131.5 L821.3,1174.1 L823.9,1209.3 L826.5,1157.3 L829.1,1095.9 L831.7,1142.7 L834.3,1201.8 L836.9,1176.3 L839.5,1166.8 L842.1,1127.7 L844.7,1156.7 L847.3,1088.1 L849.9,1157.6 L852.5,1179.7 L855.1,1138.4 L857.7,1108.9 L860.3,1111.5 L862.9,1141.9 L865.5,1126.6 L868.1,1061.5 L870.7,1092.6 L873.3,1155.9 L875.9,1065.2 L878.5,1081.9 L881.1,1070.2 L883.7,1011.8 L886.3,966.2 L888.9,932.3 L890.0,921.9 L891.5,1001.8 L894.1,968.0 L896.7,1106.5 L899.3,1111.2 L901.9,1056.5 L904.5,1132.9 L907.1,1125.0 L909.7,1121.5 L912.3,1069.0 L914.9,1132.4 L917.5,1121.7 L920.1,1176.2 L922.7,1158.3 L925.3,1156.0 L927.9,1158.5 L930.5,1134.6 L933.1,1130.7 L935.7,1217.0 L938.3,1137.5 L940.9,1196.8 L943.5,1139.5 L946.1,1127.0 L948.7,1089.6 L951.3,1134.1 L953.9,1117.2 L956.5,1098.4 L959.1,1138.4 L961.7,1169.5 L964.3,1076.8 L966.9,1075.6 L969.5,1129.9 L972.1,1097.7 L974.7,1136.2 L977.3,1100.6 L979.9,1138.6 L982.5,1045.6 L985.1,1153.9 L987.7,1109.2 L990.3,1103.1 L992.9,1165.9 L995.5,1087.1 L998.1,1149.0 L1000.7,1096.3 L1003.3,1118.3 L1005.9,1164.4 L1009.2,1024.7 L1016.6,840.0 L1022.2,710.8 L1026.7,620.8 L1027.6,606.8 L1028.5,620.8 L1029.5,710.8 L1035.1,821.6 L1036.9,950.8 L1040.6,995.1 L1044.3,1024.7 L1047.5,1098.8 L1050.1,1106.9 L1052.7,1105.2 L1055.3,1107.8 L1057.9,1189.1 L1060.5,1111.8 L1063.1,1086.5 L1065.7,1090.2 L1068.3,1154.2 L1070.9,1170.4 L1073.5,1098.5 L1076.1,1130.7 L1078.7,1111.8 L1081.3,1121.8 L1083.9,1077.4 L1086.5,1135.0 L1089.1,1153.0 L1091.7,1093.6 L1094.3,1099.1 L1096.9,1133.8 L1099.5,1090.6 L1102.1,1125.9" stroke="#7E2F8E"/>
<path d="M120.8,499.5 L121.0,500.0 L121.7,607.1 L123.2,685.5 L125.5,815.9 L128.4,870.0 L131.5,935.8 L134.9,993.5 L139.5,1072.4 L143.4,1161.8 L146.0,1152.5 L148.6,1074.5 L151.2,1139.6 L153.8,1084.3 L156.4,1175.8 L159.0,1084.7 L161.6,1128.9 L164.2,1131.8 L166.8,1126.3 L169.4,1123.4 L172.0,1132.2 L174.6,1136.8 L177.2,1074.1 L179.8,1115.5 L182.4,1201.1 L185.0,1145.7 L187.6,1126.0 L190.2,1088.9 L192.8,1092.7 L195.4,1116.5 L198.0,1139.4 L200.6,1089.4 L203.2,1087.6 L205.8,1054.8 L208.4,1105.7 L211.0,1113.0 L213.6,1169.1 L216.2,1107.3 L218.8,1129.1 L221.4,1110.1 L224.0,1129.5 L226.6,1160.4 L229.2,1145.9 L231.8,1165.6 L234.4,1175.1 L237.0,1130.8 L239.6,1144.7 L242.2,1140.3 L244.8,1100.5 L247.4,1125.4 L250.0,1143.4 L252.6,1113.4 L255.2,1125.2 L257.8,1139.7 L260.4,1138.6 L263.0,1131.4 L265.6,1217.2 L268.2,1146.0 L270.8,1081.9 L273.4,1129.7 L276.0,1093.0 L278.6,1130.8 L281.2,1174.3 L283.8,1105.3 L286.4,1113.3 L289.0,1180.6 L291.6,1138.4 L294.2,1138.6 L296.8,1122.6 L299.4,1087.6 L302.0,1184.4 L304.6,1068.4 L307.2,1106.5 L309.8,1131.5 L312.4,1084.9 L315.0,1181.3 L317.6,1149.5 L320.2,1128.8 L322.8,1140.4 L325.4,1130.8 L328.0,1035.4 L330.6,1109.6 L333.2,1128.0 L335.8,1122.4 L338.4,1138.5 L341.0,1130.6 L343.6,1157.2 L346.2,1156.8 L348.8,1117.0 L351.4,1103.2 L354.0,1170.4 L356.6,1125.5 L359.2,1155.1 L361.8,1148.8 L364.4,1210.9 L367.0,1127.6 L369.6,1112.7 L372.2,1116.6 L374.8,1069.5 L377.4,1090.1 L380.0,1069.4 L382.6,1065.1 L385.2,1137.6 L387.8,1090.3 L390.4,1150.9 L393.0,1083.3 L395.6,1151.5 L398.2,1201.5 L400.8,1076.5 L403.4,1144.9 L406.0,1116.7 L408.6,1103.2 L411.2,1105.2 L413.8,1130.1 L416.4,1080.5 L419.0,1178.8 L421.6,1195.7 L424.2,1097.9 L426.8,1158.7 L429.4,1128.8 L432.0,1114.7 L434.6,1142.3 L437.2,1137.9 L439.8,1156.9 L442.4,1135.4 L445.0,1156.7 L447.6,1169.6 L450.2,1090.6 L452.8,1077.3 L455.4,1096.4 L458.0,1164.3 L460.6,1119.7 L463.2,1137.2 L465.8,1167.7 L468.4,1147.8 L471.0,1156.8 L473.6,1094.5 L476.2,1103.7 L478.8,1137.4 L481.4,1160.2 L484.0,1086.0 L486.6,1106.2 L489.2,1129.1 L491.8,1072.2 L494.4,1095.2 L497.0,1110.0 L499.6,1122.1 L502.2,1057.9 L504.8,1150.0 L507.4,1160.8 L510.0,1140.5 L512.6,1095.9 L515.2,1151.3 L517.8,1134.4 L520.4,1143.1 L523.0,1168.1 L525.6,1117.9 L528.2,1173.0 L530.8,1149.6 L533.4,1125.9 L536.0,1185.3 L538.6,1117.4 L541.2,1105.7 L543.8,1123.1 L546.4,1181.7 L549.0,1094.5 L551.6,1156.9 L554.2,1091.7 L556.8,1137.7 L559.4,1120.4 L562.0,1073.7 L564.6,1142.2 L567.2,1081.1 L569.8,1097.2 L572.4,1110.8 L575.0,1092.2 L577.6,1109.0 L580.2,1135.2 L582.8,1129.3 L585.4,1103.9 L588.0,1150.1 L590.6,1058.5 L593.2,1149.4 L595.8,1083.3 L598.4,1094.2 L601.0,1093.7 L603.6,1153.6 L606.2,1133.3 L608.8,1141.7 L611.4,1155.5 L614.0,1107.5 L616.6,1110.8 L619.2,1184.5 L621.8,1053.7 L624.4,1135.2 L627.0,1058.8 L629.6,1122.1 L632.2,1096.4 L634.8,1138.2 L637.4,1133.9 L640.0,1144.1 L642.6,1086.7 L645.2,1145.8 L647.8,1094.2 L650.4,1108.1 L653.0,1138.5 L655.6,1153.8 L658.2,1114.6 L660.8,1083.9 L663.4,1079.7 L666.0,1114.5 L668.6,1136.5 L671.2,1033.8 L673.8,1062.4 L676.4,1110.6 L679.0,1109.4 L681.6,1173.3 L684.2,1129.9 L686.8,1099.6 L689.4,1081.7 L692.0,1164.5 L694.6,1183.6 L697.2,1136.9 L699.8,1144.9 L702.4,1162.5 L705.0,1138.2 L707.6,1138.7 L710.2,1171.4 L712.8,1099.9 L715.4,1140.7 L718.0,1183.5 L720.6,1156.6 L723.2,1187.0 L725.8,1108.7 L728.4,1120.9 L731.0,1143.8 L733.6,1103.4 L736.2,1149.8 L738.8,1142.1 L741.4,1105.3 L744.0,1160.2 L746.6,1188.1 L749.2,1091.7 L751.8,1176.3 L754.4,1147.1 L757.0,1081.8 L759.6,1070.1 L762.2,1134.2 L764.8,1124.0 L767.4,1091.4 L770.0,1069.8 L772.6,1140.9 L775.2,1059.8 L777.8,1087.2 L780.4,1071.3 L783.0,1084.4 L785.6,1060.3 L788.2,1073.6 L790.8,1132.6 L793.4,1076.0 L796.0,1122.0 L798.6,1211.1 L801.2,1117.4 L803.8,1135.3 L806.4,1117.9 L809.0,1112.0 L811.6,1152.2 L814.2,1129.3 L816.8,1152.5 L819.4,1103.1 L822.0,1128.3 L824.6,1105.4 L827.2,1122.8 L829.8,1141.0 L832.4,1101.4 L835.0,1089.7 L837.6,1123.2 L840.2,1100.0 L842.8,1009.0 L845.4,1106.4 L848.0,1091.4 L850.6,1124.8 L853.2,1065.5 L855.8,1092.3 L858.4,1082.4 L861.0,1133.4 L863.6,1094.2 L866.2,1135.6 L868.8,1127.9 L871.4,1123.1 L874.0,1123.6 L876.6,1102.3 L879.2,1084.4 L881.8,1056.3 L884.4,1100.5 L887.0,971.0 L889.6,987.3 L889.8,944.9 L892.2,992.5 L894.8,1000.5 L897.4,1042.9 L900.0,1086.5 L902.6,1104.2 L905.2,1144.2 L907.8,1151.0 L910.4,1078.6 L913.0,1108.6 L915.6,1124.3 L918.2,1119.2 L920.8,1149.2 L923.4,1132.6 L926.0,1151.2 L928.6,1126.2 L931.2,1169.5 L933.8,1143.6 L936.4,1096.8 L939.0,1177.4 L941.6,1175.3 L944.2,1139.6 L946.8,1136.4 L949.4,1135.2 L952.0,1090.5 L954.6,1120.3 L957.2,1130.0 L959.8,1210.2 L962.4,1087.8 L965.0,1142.0 L967.6,1096.9 L970.2,1101.3 L972.8,1086.1 L975.4,1118.3 L978.0,1132.6 L980.6,1120.5 L983.2,1070.1 L985.8,1123.9 L988.4,1151.3 L991.0,1089.0 L993.6,1144.3 L996.2,1150.1 L998.8,1136.3 L1001.4,1110.1 L1004.0,1127.5 L1006.6,1150.3 L1009.2,1011.3 L1011.8,1110.5 L1014.4,1161.1 L1017.0,1173.7 L1019.6,1148.3 L1022.2,1157.8 L1024.8,1183.0 L1027.4,1179.1 L1030.0,1158.6 L1032.6,1102.3 L1035.2,1147.9 L1037.8,1108.4 L1040.4,1100.3 L1043.0,1122.2 L1045.6,1112.2 L1048.2,1107.1 L1050.8,1104.1 L1053.4,1134.4 L1056.0,1213.2 L1058.6,1178.0 L1061.2,1090.6 L1064.6,1024.7 L1070.2,895.4 L1077.5,710.8 L1081.7,625.6 L1082.6,611.6 L1083.5,625.6 L1084.9,710.8 L1087.9,762.5 L1085.7,817.9 L1090.5,895.4 L1096.0,958.2 L1099.7,1028.4 L1102.8,1082.8" stroke="#77AC30"/>
<path d="M120.8,501.5 L121.0,500.0 L122.0,600.0 L124.5,700.0 L127.0,800.0 L129.0,880.0 L131.0,950.0 L134.0,1000.0 L138.0,1095.1 L144.3,1161.3 L146.9,1126.2 L149.5,1119.0 L152.1,1115.0 L154.7,1157.3 L157.3,1161.4 L159.9,1174.9 L162.5,1081.8 L165.1,1104.6 L167.7,1088.5 L170.3,1141.7 L172.9,1098.6 L175.5,1141.9 L178.1,1203.3 L180.7,1193.2 L183.3,1068.6 L185.9,1137.5 L188.5,1142.0 L191.1,1109.0 L193.7,1186.3 L196.3,1143.4 L198.9,1140.8 L201.5,1177.5 L204.1,1147.3 L206.7,1176.3 L209.3,1140.8 L211.9,1134.2 L214.5,1161.0 L217.1,1153.8 L219.7,1207.6 L222.3,1150.0 L224.9,1101.3 L227.5,1166.3 L230.1,1143.4 L232.7,1096.0 L235.3,1157.4 L237.9,1190.9 L240.5,1123.2 L243.1,1076.9 L245.7,1120.0 L248.3,1172.6 L250.9,1104.8 L253.5,1144.0 L256.1,1105.8 L258.7,1087.0 L261.3,1171.6 L263.9,1196.1 L266.5,1134.0 L269.1,1096.7 L271.7,1157.2 L274.3,1163.2 L276.9,1114.5 L279.5,1134.3 L282.1,1112.9 L284.7,1141.3 L287.3,1115.7 L289.9,1183.2 L292.5,1076.9 L295.1,1127.7 L297.7,1051.2 L300.3,1119.5 L302.9,1201.9 L305.5,1090.3 L308.1,1127.2 L310.7,1153.6 L313.3,1167.3 L315.9,1147.1 L318.5,1135.1 L321.1,1141.1 L323.7,1149.8 L326.3,1236.9 L328.9,1103.0 L331.5,1131.5 L334.1,1164.3 L336.7,1132.0 L339.3,1185.0 L341.9,1155.0 L344.5,1117.6 L347.1,1140.3 L349.7,1129.0 L352.3,1138.8 L354.9,1113.4 L357.5,1088.4 L360.1,1223.8 L362.7,1177.5 L365.3,1108.2 L367.9,1202.7 L370.5,1123.5 L373.1,1141.2 L375.7,1170.9 L378.3,1151.4 L380.9,1151.6 L383.5,1097.1 L386.1,1170.1 L388.7,1179.2 L391.3,1169.6 L393.9,1137.6 L396.5,1154.8 L399.1,1190.8 L401.7,1156.1 L404.3,1192.0 L406.9,1146.3 L409.5,1174.4 L412.1,1185.4 L414.7,1133.3 L417.3,1167.4 L419.9,1150.4 L422.5,1219.6 L425.1,1188.1 L427.7,1206.3 L430.3,1142.3 L432.9,1111.3 L435.5,1090.3 L438.1,1094.3 L440.7,1081.9 L443.3,1115.2 L445.9,1160.0 L448.5,1145.5 L451.1,1067.7 L453.7,1069.8 L456.3,1144.6 L458.9,1105.8 L461.5,1061.4 L464.1,1151.1 L466.7,1154.8 L469.3,1147.2 L471.9,1138.5 L474.5,1121.5 L477.1,1160.7 L479.7,1109.3 L482.3,1111.6 L484.9,1064.8 L487.5,1195.6 L490.1,1074.9 L492.7,1118.5 L495.3,1128.7 L497.9,1145.3 L500.5,1116.0 L503.1,1171.2 L505.7,1178.7 L508.3,1154.9 L510.9,1061.7 L513.5,1078.8 L516.1,1054.3 L518.7,1136.8 L521.3,1119.1 L523.9,1188.4 L526.5,1195.3 L529.1,1139.8 L531.7,1121.9 L534.3,1171.3 L536.9,1144.3 L539.5,1190.3 L542.1,1196.2 L544.7,1194.6 L547.3,1070.5 L549.9,1168.7 L552.5,1116.6 L555.1,1170.9 L557.7,1155.7 L560.3,1154.2 L562.9,1103.6 L565.5,1116.7 L568.1,1146.2 L570.7,1179.6 L573.3,1114.0 L575.9,1134.4 L578.5,1093.3 L581.1,1109.4 L583.7,1203.4 L586.3,1129.2 L588.9,1157.2 L591.5,1144.7 L594.1,1148.5 L596.7,1166.1 L599.3,1087.5 L601.9,1168.2 L604.5,1184.3 L607.1,1059.8 L609.7,1160.3 L612.3,1179.9 L614.9,1209.7 L617.5,1127.4 L620.1,1173.0 L622.7,1110.4 L625.3,1140.5 L627.9,1178.1 L630.5,1123.9 L633.1,1184.6 L635.7,1193.3 L638.3,1151.7 L640.9,1159.5 L643.5,1109.4 L646.1,1115.5 L648.7,1123.5 L651.3,1175.6 L653.9,1160.1 L656.5,1067.4 L659.1,1145.4 L661.7,1182.8 L664.3,1197.3 L666.9,1171.3 L669.5,1081.0 L672.1,1112.1 L674.7,1123.6 L677.3,1028.3 L679.9,1102.8 L682.5,1162.3 L685.1,1233.8 L687.7,1139.9 L690.3,1134.8 L692.9,1129.7 L695.5,1099.7 L698.1,1136.0 L700.7,1129.5 L703.3,1069.6 L705.9,1140.4 L708.5,1127.6 L711.1,1134.4 L713.7,1139.8 L716.3,1091.9 L718.9,1056.5 L721.5,1116.5 L724.1,1205.5 L726.7,1152.1 L729.3,1101.3 L731.9,1162.8 L734.5,1121.6 L737.1,1221.6 L739.7,1167.6 L742.3,1210.4 L744.9,1139.4 L747.5,1169.3 L750.1,1164.6 L752.7,1238.6 L755.3,1116.8 L757.9,1171.2 L760.5,1116.6 L763.1,1125.9 L765.7,1224.5 L768.3,1154.3 L770.9,1096.5 L773.5,994.5 L776.1,1139.4 L778.7,1135.2 L781.3,1145.8 L783.9,1056.5 L786.5,1158.4 L789.1,1128.0 L791.7,1126.8 L794.3,1145.8 L796.9,1110.0 L799.5,1146.6 L802.1,1141.6 L804.7,1088.5 L807.3,1129.8 L809.9,1141.1 L812.5,1171.6 L815.1,1166.3 L817.7,1155.6 L820.3,1132.5 L822.9,1145.6 L825.5,1118.8 L828.1,1090.9 L830.7,1117.7 L833.3,1108.1 L835.9,1134.5 L838.5,1076.7 L841.1,1135.1 L843.7,1047.0 L846.3,1139.0 L848.9,1178.3 L851.5,1153.8 L854.1,1094.9 L856.7,1115.6 L859.3,1136.2 L861.9,1109.4 L864.5,1180.4 L867.1,1135.5 L869.7,1073.8 L872.3,1085.6 L874.9,1149.9 L877.5,1114.0 L880.1,1143.3 L882.7,1000.8 L885.3,1223.3 L887.9,1128.8 L889.2,924.3 L890.5,1138.2 L893.1,1138.7 L895.7,1204.7 L898.3,1164.1 L900.9,1059.0 L903.5,1099.6 L906.1,1115.5 L908.7,1180.0 L911.3,1139.1 L913.9,1130.8 L916.5,1155.6 L919.1,1172.0 L921.7,1135.5 L924.3,1167.8 L926.9,1149.4 L929.5,1126.0 L932.1,1174.3 L934.7,1061.2 L937.3,1167.2 L939.9,1188.8 L942.5,1217.7 L945.1,1157.8 L947.7,1158.6 L950.3,1155.7 L952.9,1169.1 L955.5,1101.9 L958.1,1138.3 L960.7,1215.2 L963.3,1151.9 L965.9,1172.3 L968.5,1109.4 L971.1,1134.0 L973.7,1076.9 L976.3,1121.9 L978.9,1114.1 L981.5,1131.4 L984.1,1127.7 L986.7,1106.3 L989.3,1087.2 L991.9,1171.2 L994.5,1148.6 L997.1,1097.3 L999.7,1120.5 L1002.3,1103.1 L1004.9,1197.3 L1007.5,1207.8 L1010.1,1151.6 L1012.7,1192.0 L1015.3,1113.6 L1017.9,1145.9 L1020.5,1177.2 L1023.1,1209.2 L1025.7,1118.1 L1028.3,1121.8 L1030.9,1123.5 L1033.5,1199.3 L1036.1,1132.9 L1038.7,1157.1 L1041.3,1098.1 L1043.9,1178.7 L1046.5,1170.4 L1049.1,1166.8 L1051.7,1058.5 L1054.3,1159.6 L1056.9,1146.9 L1059.5,1154.6 L1062.1,1230.4 L1064.7,1065.2 L1067.3,1149.7 L1069.9,1124.9 L1072.5,1121.0 L1075.1,1144.4 L1077.7,1173.9 L1080.3,1161.3 L1082.9,1108.5 L1085.5,1140.2 L1088.1,1120.6 L1090.7,1134.4 L1093.3,1106.8 L1095.9,1148.4 L1098.5,1220.5 L1101.1,1134.5 L1103.7,1167.6" stroke="#4DBEEE"/>
</g>
<rect x="118.4" y="463.2" width="4.8" height="2.45" fill="#EDB120"/>
<rect x="118.4" y="465.5" width="4.8" height="2.45" fill="#7E2F8E"/>
<rect x="118.4" y="467.8" width="4.8" height="2.45" fill="#77AC30"/>
<rect x="118.4" y="470.1" width="4.8" height="2.45" fill="#4DBEEE"/>
<rect x="118.4" y="472.4" width="4.8" height="2.45" fill="#A2142F"/>
<rect x="118.4" y="474.7" width="4.8" height="2.45" fill="#0072BD"/>
<rect x="118.4" y="477.0" width="4.8" height="2.45" fill="#D95319"/>
<rect x="118.4" y="479.3" width="4.8" height="2.45" fill="#EDB120"/>
<rect x="118.4" y="481.6" width="4.8" height="2.45" fill="#7E2F8E"/>
<rect x="118.4" y="483.9" width="4.8" height="2.45" fill="#77AC30"/>
<rect x="118.4" y="486.2" width="4.8" height="2.45" fill="#4DBEEE"/>
<rect x="118.4" y="488.5" width="4.8" height="2.45" fill="#A2142F"/>
<rect x="118.4" y="490.8" width="4.8" height="2.45" fill="#0072BD"/>
<rect x="118.4" y="493.1" width="4.8" height="2.45" fill="#D95319"/>
<rect x="118.4" y="495.4" width="4.8" height="2.45" fill="#EDB120"/>
<rect x="118.4" y="497.7" width="4.8" height="2.45" fill="#7E2F8E"/>
<rect x="118.4" y="500.0" width="4.8" height="2.45" fill="#77AC30"/>
<line x1="123.2" y1="501.3" x2="1082.9" y2="604.1" stroke="#000" stroke-width="3.2" stroke-dasharray="12.7 9.2"/>
<rect x="619.4" y="548.2" width="13.9" height="13.9" fill="#000"/>
<rect x="1076.1" y="597.5" width="13.5" height="13.2" fill="#000"/>
<text x="86.60" y="528.15" font-family="'Liberation Sans', Arial, sans-serif" font-size="36.8" font-weight="normal" fill="#000" >0</text>
<text x="52.65" y="732.45" font-family="'Liberation Sans', Arial, sans-serif" font-size="36.8" font-weight="normal" fill="#000" >-20</text>
<text x="52.65" y="936.25" font-family="'Liberation Sans', Arial, sans-serif" font-size="36.8" font-weight="normal" fill="#000" >-40</text>
<text x="52.45" y="1140.25" font-family="'Liberation Sans', Arial, sans-serif" font-size="36.8" font-weight="normal" fill="#000" >-60</text>
<text x="110.35" y="1177.35" font-family="'Liberation Sans', Arial, sans-serif" font-size="36.8" font-weight="normal" fill="#000" >0</text>
<text x="345.88" y="1177.35" font-family="'Liberation Sans', Arial, sans-serif" font-size="36.8" font-weight="normal" fill="#000" >0.5</text>
<text x="613.85" y="1177.60" font-family="'Liberation Sans', Arial, sans-serif" font-size="36.8" font-weight="normal" fill="#000" >1</text>
<text x="849.75" y="1177.35" font-family="'Liberation Sans', Arial, sans-serif" font-size="36.8" font-weight="normal" fill="#000" >1.5</text>
<text x="1117.28" y="1177.60" font-family="'Liberation Sans', Arial, sans-serif" font-size="36.8" font-weight="normal" fill="#000" >2</text>
<text x="360.60" y="1237.90" font-family="'Liberation Sans', Arial, sans-serif" font-size="40.75" font-weight="normal" fill="#000" >Optical Path Difference (mm)</text>
<text transform="translate(29.70,1025.90) rotate(-90)" x="0" y="0" font-family="'Liberation Sans', Arial, sans-serif" font-size="40.8" font-weight="normal" fill="#000">Sensitivity roll-off (dB)</text>
<text x="1049.75" y="506.75" font-family="'Liberation Serif', 'Times New Roman', serif" font-size="38.5" font-weight="bold" fill="#000" >c)</text>
<text x="574.40" y="526.30" font-family="'Liberation Serif', 'Times New Roman', serif" font-size="39.2" font-weight="normal" fill="#000" >-3.6 dB</text>
<text x="965.80" y="573.30" font-family="'Liberation Serif', 'Times New Roman', serif" font-size="39.2" font-weight="normal" fill="#000" >-8.5 dB</text>
<line x1="1146.7" y1="407.5" x2="1146.7" y2="1104.3" stroke="#111" stroke-width="1.2"/>
<line x1="1146.2" y1="407.5" x2="1447.3" y2="407.5" stroke="#111" stroke-width="1.2"/>
<rect x="1146.7" y="559.5" width="362.8" height="115.7" fill="none" stroke="#000" stroke-width="1.2"/>
<rect x="1146.7" y="675.2" width="362.8" height="105.8" fill="none" stroke="#000" stroke-width="1.2"/>
<rect x="1146.7" y="781.0" width="362.8" height="91.7" fill="none" stroke="#000" stroke-width="1.2"/>
<path d="M1256.5,408.4 L1258.0,419.0 L1248.9,431.3 L1259.6,441.9 L1242.8,454.1 L1267.2,466.3 L1258.0,477.0 L1285.5,487.7 L1279.4,499.9 L1293.1,512.0 L1255.0,522.7 L1258.0,534.9 L1171.2,546.2 L1146.8,557.8 L1366.3,570.0 L1401.3,581.6 L1306.8,593.7 L1431.8,605.0 L1285.5,617.2 L1430.3,629.4 L1416.6,640.1 L1287.0,651.7 L1267.2,663.0 L1146.8,674.5 L1346.8,686.4 L1367.5,697.7 L1309.1,709.8 L1414.6,720.3 L1301.5,732.4 L1446.7,743.7 L1360.0,757.3 L1311.0,767.4 L1152.6,779.9 L1324.1,791.2 L1257.4,802.5 L1337.3,813.8 L1303.4,825.9 L1361.8,836.4 L1386.3,848.5 L1165.8,871.9 L1199.7,884.3 L1271.4,896.7 L1288.3,908.1 L1312.8,918.2 L1346.8,929.5 L1350.5,940.9 L1203.5,953.3 L1284.6,976.7 L1292.1,988.0 L1307.2,999.3 L1352.4,1011.3 L1295.9,1022.7 L1269.5,1034.0 L1262.7,1046.4 L1273.3,1059.6 L1277.0,1070.9 L1276.3,1083.0 L1292.1,1104.1" fill="none" stroke="#ff0000" stroke-width="3.0" stroke-linejoin="miter" stroke-miterlimit="3"/>
<clipPath id="cq0"><circle cx="1466.3" cy="615.8" r="12.4"/></clipPath>
<text x="1466.3" y="629.8" text-anchor="middle" clip-path="url(#cq0)" font-family="'Noto Sans CJK JP', sans-serif" font-weight="700" font-size="37" fill="#000">②</text>
<circle cx="1466.3" cy="615.8" r="14.2" fill="none" stroke="#000" stroke-width="2.7"/>
<clipPath id="cq1"><circle cx="1466.3" cy="727.9" r="12.4"/></clipPath>
<text x="1466.3" y="741.9" text-anchor="middle" clip-path="url(#cq1)" font-family="'Noto Sans CJK JP', sans-serif" font-weight="700" font-size="37" fill="#000">③</text>
<circle cx="1466.3" cy="727.9" r="14.2" fill="none" stroke="#000" stroke-width="2.7"/>
<clipPath id="cq2"><circle cx="1466.3" cy="839.1" r="12.4"/></clipPath>
<text x="1466.3" y="853.1" text-anchor="middle" clip-path="url(#cq2)" font-family="'Noto Sans CJK JP', sans-serif" font-weight="700" font-size="37" fill="#000">④</text>
<circle cx="1466.3" cy="839.1" r="14.2" fill="none" stroke="#000" stroke-width="2.7"/>
<text x="1228.20" y="377.80" font-family="'Liberation Serif', 'Times New Roman', serif" font-size="39.6" font-weight="bold" fill="#000" >Group 6</text>
<text x="1459.50" y="1077.20" font-family="'Liberation Serif', 'Times New Roman', serif" font-size="38.5" font-weight="bold" fill="#000" >d)</text>
<defs><linearGradient id="bg" gradientUnits="userSpaceOnUse" x1="0" y1="19" x2="0" y2="320"><stop offset="0" stop-color="#101010"/><stop offset="0.037" stop-color="#1e1e1e"/><stop offset="0.07" stop-color="#333"/><stop offset="0.12" stop-color="#474747"/><stop offset="0.236" stop-color="#5b5b5b"/><stop offset="0.47" stop-color="#6c6c6c"/><stop offset="0.8" stop-color="#737373"/><stop offset="1" stop-color="#777"/></linearGradient><linearGradient id="bgh" gradientUnits="userSpaceOnUse" x1="1139" y1="0" x2="1520" y2="0"><stop offset="0" stop-color="#000" stop-opacity="0.18"/><stop offset="0.3" stop-color="#000" stop-opacity="0"/><stop offset="1" stop-color="#000" stop-opacity="0"/></linearGradient><filter id="bl" x="-30%" y="-30%" width="160%" height="160%"><feGaussianBlur stdDeviation="0.8"/></filter><filter id="bl2" x="-30%" y="-30%" width="160%" height="160%"><feGaussianBlur stdDeviation="1.4"/></filter><filter id="bl3" x="-30%" y="-30%" width="160%" height="160%"><feGaussianBlur stdDeviation="2.2"/></filter><clipPath id="ic"><rect x="1139" y="19" width="381" height="300.5"/></clipPath></defs>
<g clip-path="url(#ic)">
<rect x="1139" y="19" width="381" height="300.5" fill="url(#bg)"/>
<rect x="1175.9" y="81.5" width="5.0" height="14.6" fill="#141414" opacity="0.55" filter="url(#bl2)"/>
<rect x="1177.9" y="93.1" width="15.4" height="5.0" fill="#141414" opacity="0.5" filter="url(#bl2)"/>
<rect x="1205.9" y="59.0" width="39.5" height="37.6" fill="#2a2a2a" opacity="0.9" filter="url(#bl)"/>
<rect x="1207.4" y="99.1" width="35.0" height="6.1" fill="#141414" opacity="0.8" filter="url(#bl2)"/>
<rect x="1205.9" y="60.2" width="39.5" height="7.2" fill="#f3f3f3" filter="url(#bl)"/>
<rect x="1205.9" y="73.8" width="39.5" height="7.9" fill="#f3f3f3" filter="url(#bl)"/>
<rect x="1205.9" y="87.5" width="39.5" height="8.6" fill="#f3f3f3" filter="url(#bl)"/>
<rect x="1259.7" y="59.5" width="41.7" height="37.3" fill="#3a3a3a" opacity="0.8" filter="url(#bl)"/>
<rect x="1260.5" y="59.5" width="9.3" height="37.3" fill="#f3f3f3" filter="url(#bl)"/>
<rect x="1261.5" y="97.3" width="7.3" height="4.8" fill="#141414" opacity="0.85" filter="url(#bl)"/>
<rect x="1276.2" y="59.5" width="10.1" height="37.3" fill="#f3f3f3" filter="url(#bl)"/>
<rect x="1277.2" y="97.3" width="8.1" height="4.8" fill="#141414" opacity="0.85" filter="url(#bl)"/>
<rect x="1292.0" y="59.5" width="8.6" height="37.3" fill="#f3f3f3" filter="url(#bl)"/>
<rect x="1293.0" y="97.3" width="6.6" height="4.8" fill="#141414" opacity="0.85" filter="url(#bl)"/>
<text x="1177.9" y="96.1" textLength="19.4" lengthAdjust="spacingAndGlyphs" font-family="'Liberation Sans', Arial, sans-serif" font-weight="bold" font-size="27.2" fill="#f3f3f3" stroke="#f3f3f3" stroke-width="1.46" stroke-linejoin="round" opacity="1.0" filter="url(#bl)">2</text>
<rect x="1175.6" y="138.6" width="5.0" height="14.7" fill="#141414" opacity="0.55" filter="url(#bl2)"/>
<rect x="1177.6" y="150.3" width="13.6" height="5.0" fill="#141414" opacity="0.5" filter="url(#bl2)"/>
<rect x="1203.5" y="118.9" width="38.2" height="34.9" fill="#2a2a2a" opacity="0.9" filter="url(#bl)"/>
<rect x="1205.0" y="156.3" width="33.7" height="5.6" fill="#141414" opacity="0.8" filter="url(#bl2)"/>
<rect x="1203.5" y="120.1" width="38.2" height="9.3" fill="#f3f3f3" filter="url(#bl)"/>
<rect x="1203.5" y="132.8" width="38.2" height="7.8" fill="#f3f3f3" filter="url(#bl)"/>
<rect x="1203.5" y="145.0" width="38.2" height="8.3" fill="#f3f3f3" filter="url(#bl)"/>
<rect x="1250.7" y="120.1" width="41.7" height="33.7" fill="#3a3a3a" opacity="0.8" filter="url(#bl)"/>
<rect x="1251.5" y="120.1" width="10.3" height="33.7" fill="#f3f3f3" filter="url(#bl)"/>
<rect x="1252.5" y="154.3" width="8.3" height="4.4" fill="#141414" opacity="0.85" filter="url(#bl)"/>
<rect x="1266.2" y="120.1" width="10.7" height="33.7" fill="#f3f3f3" filter="url(#bl)"/>
<rect x="1267.2" y="154.3" width="8.7" height="4.4" fill="#141414" opacity="0.85" filter="url(#bl)"/>
<rect x="1280.8" y="120.1" width="10.8" height="33.7" fill="#f3f3f3" filter="url(#bl)"/>
<rect x="1281.8" y="154.3" width="8.8" height="4.4" fill="#141414" opacity="0.85" filter="url(#bl)"/>
<text x="1177.6" y="153.3" textLength="17.6" lengthAdjust="spacingAndGlyphs" font-family="'Liberation Sans', Arial, sans-serif" font-weight="bold" font-size="27.4" fill="#f3f3f3" stroke="#f3f3f3" stroke-width="1.47" stroke-linejoin="round" opacity="1.0" filter="url(#bl)">3</text>
<rect x="1175.1" y="187.9" width="5.0" height="15.8" fill="#141414" opacity="0.55" filter="url(#bl2)"/>
<rect x="1177.1" y="200.7" width="14.1" height="5.0" fill="#141414" opacity="0.5" filter="url(#bl2)"/>
<rect x="1203.0" y="173.2" width="34.3" height="32.0" fill="#2a2a2a" opacity="0.9" filter="url(#bl)"/>
<rect x="1204.5" y="207.7" width="29.8" height="5.2" fill="#141414" opacity="0.8" filter="url(#bl2)"/>
<rect x="1203.0" y="174.4" width="34.3" height="7.8" fill="#f3f3f3" filter="url(#bl)"/>
<rect x="1203.0" y="186.1" width="34.3" height="7.3" fill="#f3f3f3" filter="url(#bl)"/>
<rect x="1203.0" y="197.8" width="34.3" height="6.9" fill="#f3f3f3" filter="url(#bl)"/>
<rect x="1243.3" y="174.4" width="38.8" height="30.3" fill="#3a3a3a" opacity="0.8" filter="url(#bl)"/>
<rect x="1244.1" y="174.4" width="11.3" height="30.3" fill="#f3f3f3" filter="url(#bl)"/>
<rect x="1245.1" y="205.2" width="9.3" height="3.9" fill="#141414" opacity="0.85" filter="url(#bl)"/>
<rect x="1259.8" y="174.4" width="8.3" height="30.3" fill="#f3f3f3" filter="url(#bl)"/>
<rect x="1260.8" y="205.2" width="6.3" height="3.9" fill="#141414" opacity="0.85" filter="url(#bl)"/>
<rect x="1271.5" y="174.4" width="9.8" height="30.3" fill="#f3f3f3" filter="url(#bl)"/>
<rect x="1272.5" y="205.2" width="7.8" height="3.9" fill="#141414" opacity="0.85" filter="url(#bl)"/>
<text x="1177.1" y="203.7" textLength="18.1" lengthAdjust="spacingAndGlyphs" font-family="'Liberation Sans', Arial, sans-serif" font-weight="bold" font-size="29.4" fill="#f3f3f3" stroke="#f3f3f3" stroke-width="1.58" stroke-linejoin="round" opacity="1.0" filter="url(#bl)">4</text>
<rect x="1174.4" y="232.7" width="5.0" height="15.2" fill="#141414" opacity="0.55" filter="url(#bl2)"/>
<rect x="1176.4" y="244.9" width="15.0" height="5.0" fill="#141414" opacity="0.5" filter="url(#bl2)"/>
<rect x="1202.6" y="221.8" width="30.1" height="27.9" fill="#2a2a2a" opacity="0.9" filter="url(#bl)"/>
<rect x="1204.1" y="252.2" width="25.6" height="4.5" fill="#141414" opacity="0.8" filter="url(#bl2)"/>
<rect x="1202.6" y="223.0" width="30.1" height="6.5" fill="#f3f3f3" filter="url(#bl)"/>
<rect x="1202.6" y="233.4" width="30.1" height="6.6" fill="#f3f3f3" filter="url(#bl)"/>
<rect x="1202.6" y="242.6" width="30.1" height="6.6" fill="#f3f3f3" filter="url(#bl)"/>
<rect x="1240.5" y="223.0" width="33.0" height="26.8" fill="#3a3a3a" opacity="0.8" filter="url(#bl)"/>
<rect x="1241.3" y="223.0" width="7.2" height="26.8" fill="#f3f3f3" filter="url(#bl)"/>
<rect x="1242.3" y="250.3" width="5.2" height="3.5" fill="#141414" opacity="0.85" filter="url(#bl)"/>
<rect x="1252.4" y="223.0" width="7.9" height="26.8" fill="#f3f3f3" filter="url(#bl)"/>
<rect x="1253.4" y="250.3" width="5.9" height="3.5" fill="#141414" opacity="0.85" filter="url(#bl)"/>
<rect x="1264.2" y="223.0" width="8.5" height="26.8" fill="#f3f3f3" filter="url(#bl)"/>
<rect x="1265.2" y="250.3" width="6.5" height="3.5" fill="#141414" opacity="0.85" filter="url(#bl)"/>
<text x="1176.4" y="247.9" textLength="19.0" lengthAdjust="spacingAndGlyphs" font-family="'Liberation Sans', Arial, sans-serif" font-weight="bold" font-size="28.3" fill="#f3f3f3" stroke="#f3f3f3" stroke-width="1.52" stroke-linejoin="round" opacity="1.0" filter="url(#bl)">5</text>
<rect x="1172.4" y="274.2" width="5.0" height="15.6" fill="#141414" opacity="0.55" filter="url(#bl2)"/>
<rect x="1174.4" y="286.8" width="15.7" height="5.0" fill="#141414" opacity="0.5" filter="url(#bl2)"/>
<rect x="1201.9" y="264.4" width="27.6" height="26.6" fill="#2a2a2a" opacity="0.9" filter="url(#bl)"/>
<rect x="1203.4" y="293.5" width="23.1" height="4.2" fill="#141414" opacity="0.8" filter="url(#bl2)"/>
<rect x="1201.9" y="265.6" width="27.6" height="7.8" fill="#f3f3f3" filter="url(#bl)"/>
<rect x="1201.9" y="275.4" width="27.6" height="6.6" fill="#f3f3f3" filter="url(#bl)"/>
<rect x="1201.9" y="283.9" width="27.6" height="6.6" fill="#f3f3f3" filter="url(#bl)"/>
<rect x="1235.9" y="265.6" width="27.8" height="24.9" fill="#3a3a3a" opacity="0.8" filter="url(#bl)"/>
<rect x="1236.7" y="265.6" width="5.9" height="24.9" fill="#f3f3f3" filter="url(#bl)"/>
<rect x="1237.7" y="291.0" width="3.9" height="3.2" fill="#141414" opacity="0.85" filter="url(#bl)"/>
<rect x="1245.9" y="265.6" width="5.9" height="24.9" fill="#f3f3f3" filter="url(#bl)"/>
<rect x="1246.9" y="291.0" width="3.9" height="3.2" fill="#141414" opacity="0.85" filter="url(#bl)"/>
<rect x="1255.7" y="265.6" width="7.2" height="24.9" fill="#f3f3f3" filter="url(#bl)"/>
<rect x="1256.7" y="291.0" width="5.2" height="3.2" fill="#141414" opacity="0.85" filter="url(#bl)"/>
<text x="1174.4" y="289.8" textLength="19.7" lengthAdjust="spacingAndGlyphs" font-family="'Liberation Sans', Arial, sans-serif" font-weight="bold" font-size="29.1" fill="#f3f3f3" stroke="#f3f3f3" stroke-width="1.56" stroke-linejoin="round" opacity="1.0" filter="url(#bl)">6</text>
<rect x="1241.2" y="35.1" width="5.0" height="18.6" fill="#141414" opacity="0.55" filter="url(#bl2)"/>
<rect x="1243.2" y="50.7" width="16.1" height="5.0" fill="#141414" opacity="0.5" filter="url(#bl2)"/>
<text x="1243.2" y="53.7" textLength="20.1" lengthAdjust="spacingAndGlyphs" font-family="'Liberation Sans', Arial, sans-serif" font-weight="bold" font-size="34.6" fill="#f3f3f3" stroke="#f3f3f3" stroke-width="1.86" stroke-linejoin="round" opacity="1.0" filter="url(#bl)">4</text>
<rect x="1322.2" y="60.0" width="2.8" height="36.0" fill="#111" opacity="0.8" filter="url(#bl)"/>
<rect x="1329.0" y="97.5" width="39.5" height="6.0" fill="#141414" opacity="0.9" filter="url(#bl2)"/>
<rect x="1328.6" y="59.5" width="40.2" height="37.3" fill="#f5f5f5" filter="url(#bl)"/>
<rect x="1412.2" y="36.1" width="5.0" height="18.5" fill="#141414" opacity="0.55" filter="url(#bl2)"/>
<rect x="1414.2" y="51.6" width="15.7" height="5.0" fill="#141414" opacity="0.5" filter="url(#bl2)"/>
<text x="1414.2" y="54.6" textLength="19.7" lengthAdjust="spacingAndGlyphs" font-family="'Liberation Sans', Arial, sans-serif" font-weight="bold" font-size="34.5" fill="#f3f3f3" stroke="#f3f3f3" stroke-width="1.85" stroke-linejoin="round" opacity="1.0" filter="url(#bl)">5</text>
<rect x="1397.0" y="60.4" width="29.0" height="21.2" fill="#3a3a3a" opacity="0.8" filter="url(#bl)"/>
<rect x="1397.8" y="60.4" width="7.6" height="21.2" fill="#f3f3f3" filter="url(#bl)"/>
<rect x="1398.8" y="82.1" width="5.6" height="2.8" fill="#141414" opacity="0.85" filter="url(#bl)"/>
<rect x="1407.7" y="60.4" width="7.6" height="21.2" fill="#f3f3f3" filter="url(#bl)"/>
<rect x="1408.7" y="82.1" width="5.6" height="2.8" fill="#141414" opacity="0.85" filter="url(#bl)"/>
<rect x="1417.6" y="60.4" width="7.6" height="21.2" fill="#f3f3f3" filter="url(#bl)"/>
<rect x="1418.6" y="82.1" width="5.6" height="2.8" fill="#141414" opacity="0.85" filter="url(#bl)"/>
<rect x="1431.5" y="59.2" width="24.0" height="22.9" fill="#2a2a2a" opacity="0.9" filter="url(#bl)"/>
<rect x="1433.0" y="84.6" width="19.5" height="3.6" fill="#141414" opacity="0.8" filter="url(#bl2)"/>
<rect x="1431.5" y="60.4" width="24.0" height="6.1" fill="#f3f3f3" filter="url(#bl)"/>
<rect x="1431.5" y="68.0" width="24.0" height="6.1" fill="#f3f3f3" filter="url(#bl)"/>
<rect x="1431.5" y="75.5" width="24.0" height="6.1" fill="#f3f3f3" filter="url(#bl)"/>
<text x="1458.4" y="81.6" textLength="10.1" lengthAdjust="spacingAndGlyphs" font-family="'Liberation Sans', Arial, sans-serif" font-weight="bold" font-size="19.4" fill="#f3f3f3" stroke="#f3f3f3" stroke-width="1.04" stroke-linejoin="round" opacity="0.75" filter="url(#bl2)">1</text>
<rect x="1402.3" y="93.6" width="26.6" height="19.3" fill="#3a3a3a" opacity="0.8" filter="url(#bl)"/>
<rect x="1403.1" y="93.6" width="6.9" height="19.3" fill="#f3f3f3" filter="url(#bl)"/>
<rect x="1404.1" y="113.4" width="4.9" height="2.5" fill="#141414" opacity="0.85" filter="url(#bl)"/>
<rect x="1412.1" y="93.6" width="6.9" height="19.3" fill="#f3f3f3" filter="url(#bl)"/>
<rect x="1413.1" y="113.4" width="4.9" height="2.5" fill="#141414" opacity="0.85" filter="url(#bl)"/>
<rect x="1421.2" y="93.6" width="6.9" height="19.3" fill="#f3f3f3" filter="url(#bl)"/>
<rect x="1422.2" y="113.4" width="4.9" height="2.5" fill="#141414" opacity="0.85" filter="url(#bl)"/>
<rect x="1433.4" y="92.4" width="22.1" height="21.0" fill="#2a2a2a" opacity="0.9" filter="url(#bl)"/>
<rect x="1434.9" y="115.9" width="17.6" height="3.3" fill="#141414" opacity="0.8" filter="url(#bl2)"/>
<rect x="1433.4" y="93.6" width="22.1" height="5.5" fill="#f3f3f3" filter="url(#bl)"/>
<rect x="1433.4" y="100.5" width="22.1" height="5.5" fill="#f3f3f3" filter="url(#bl)"/>
<rect x="1433.4" y="107.4" width="22.1" height="5.5" fill="#f3f3f3" filter="url(#bl)"/>
<text x="1457.0" y="112.9" textLength="11.5" lengthAdjust="spacingAndGlyphs" font-family="'Liberation Sans', Arial, sans-serif" font-weight="bold" font-size="17.6" fill="#f3f3f3" stroke="#f3f3f3" stroke-width="1.00" stroke-linejoin="round" opacity="0.75" filter="url(#bl2)">2</text>
<rect x="1407.1" y="123.5" width="24.7" height="17.9" fill="#3a3a3a" opacity="0.8" filter="url(#bl)"/>
<rect x="1407.9" y="123.5" width="6.4" height="17.9" fill="#f3f3f3" filter="url(#bl)"/>
<rect x="1408.9" y="141.9" width="4.4" height="2.3" fill="#141414" opacity="0.85" filter="url(#bl)"/>
<rect x="1416.2" y="123.5" width="6.4" height="17.9" fill="#f3f3f3" filter="url(#bl)"/>
<rect x="1417.2" y="141.9" width="4.4" height="2.3" fill="#141414" opacity="0.85" filter="url(#bl)"/>
<rect x="1424.6" y="123.5" width="6.4" height="17.9" fill="#f3f3f3" filter="url(#bl)"/>
<rect x="1425.6" y="141.9" width="4.4" height="2.3" fill="#141414" opacity="0.85" filter="url(#bl)"/>
<rect x="1434.0" y="122.3" width="18.4" height="19.6" fill="#2a2a2a" opacity="0.9" filter="url(#bl)"/>
<rect x="1435.5" y="144.4" width="13.9" height="3.0" fill="#141414" opacity="0.8" filter="url(#bl2)"/>
<rect x="1434.0" y="123.5" width="18.4" height="5.1" fill="#f3f3f3" filter="url(#bl)"/>
<rect x="1434.0" y="129.9" width="18.4" height="5.1" fill="#f3f3f3" filter="url(#bl)"/>
<rect x="1434.0" y="136.3" width="18.4" height="5.1" fill="#f3f3f3" filter="url(#bl)"/>
<text x="1456.5" y="141.4" textLength="11.0" lengthAdjust="spacingAndGlyphs" font-family="'Liberation Sans', Arial, sans-serif" font-weight="bold" font-size="16.4" fill="#f3f3f3" stroke="#f3f3f3" stroke-width="1.00" stroke-linejoin="round" opacity="0.75" filter="url(#bl2)">3</text>
<rect x="1411.2" y="151.3" width="21.4" height="16.0" fill="#3a3a3a" opacity="0.8" filter="url(#bl)"/>
<rect x="1412.0" y="151.3" width="5.5" height="16.0" fill="#f3f3f3" filter="url(#bl)"/>
<rect x="1413.0" y="167.8" width="3.5" height="2.1" fill="#141414" opacity="0.85" filter="url(#bl)"/>
<rect x="1419.2" y="151.3" width="5.5" height="16.0" fill="#f3f3f3" filter="url(#bl)"/>
<rect x="1420.2" y="167.8" width="3.5" height="2.1" fill="#141414" opacity="0.85" filter="url(#bl)"/>
<rect x="1426.3" y="151.3" width="5.5" height="16.0" fill="#f3f3f3" filter="url(#bl)"/>
<rect x="1427.3" y="167.8" width="3.5" height="2.1" fill="#141414" opacity="0.85" filter="url(#bl)"/>
<rect x="1437.1" y="150.1" width="15.3" height="17.7" fill="#2a2a2a" opacity="0.9" filter="url(#bl)"/>
<rect x="1438.6" y="170.3" width="10.8" height="2.7" fill="#141414" opacity="0.8" filter="url(#bl2)"/>
<rect x="1437.1" y="151.3" width="15.3" height="4.6" fill="#f3f3f3" filter="url(#bl)"/>
<rect x="1437.1" y="157.0" width="15.3" height="4.6" fill="#f3f3f3" filter="url(#bl)"/>
<rect x="1437.1" y="162.7" width="15.3" height="4.6" fill="#f3f3f3" filter="url(#bl)"/>
<text x="1456.2" y="167.3" textLength="11.4" lengthAdjust="spacingAndGlyphs" font-family="'Liberation Sans', Arial, sans-serif" font-weight="bold" font-size="14.6" fill="#f3f3f3" stroke="#f3f3f3" stroke-width="1.00" stroke-linejoin="round" opacity="0.75" filter="url(#bl2)">4</text>
<rect x="1414.2" y="175.0" width="20.7" height="14.4" fill="#3a3a3a" opacity="0.8" filter="url(#bl)"/>
<rect x="1415.0" y="175.0" width="5.3" height="14.4" fill="#f3f3f3" filter="url(#bl)"/>
<rect x="1416.0" y="189.9" width="3.3" height="1.9" fill="#141414" opacity="0.85" filter="url(#bl)"/>
<rect x="1421.9" y="175.0" width="5.3" height="14.4" fill="#f3f3f3" filter="url(#bl)"/>
<rect x="1422.9" y="189.9" width="3.3" height="1.9" fill="#141414" opacity="0.85" filter="url(#bl)"/>
<rect x="1428.8" y="175.0" width="5.3" height="14.4" fill="#f3f3f3" filter="url(#bl)"/>
<rect x="1429.8" y="189.9" width="3.3" height="1.9" fill="#141414" opacity="0.85" filter="url(#bl)"/>
<rect x="1438.0" y="173.8" width="14.4" height="16.1" fill="#2a2a2a" opacity="0.9" filter="url(#bl)"/>
<rect x="1439.5" y="192.4" width="9.9" height="2.4" fill="#141414" opacity="0.8" filter="url(#bl2)"/>
<rect x="1438.0" y="175.0" width="14.4" height="4.1" fill="#f3f3f3" filter="url(#bl)"/>
<rect x="1438.0" y="180.1" width="14.4" height="4.1" fill="#f3f3f3" filter="url(#bl)"/>
<rect x="1438.0" y="185.3" width="14.4" height="4.1" fill="#f3f3f3" filter="url(#bl)"/>
<text x="1456.0" y="189.4" textLength="11.0" lengthAdjust="spacingAndGlyphs" font-family="'Liberation Sans', Arial, sans-serif" font-weight="bold" font-size="13.2" fill="#f3f3f3" stroke="#f3f3f3" stroke-width="1.00" stroke-linejoin="round" opacity="0.75" filter="url(#bl2)">5</text>
<rect x="1416.5" y="197.0" width="18.4" height="12.2" fill="#3a3a3a" opacity="0.8" filter="url(#bl)"/>
<rect x="1417.3" y="197.0" width="4.7" height="12.2" fill="#f3f3f3" filter="url(#bl)"/>
<rect x="1418.3" y="209.7" width="2.7" height="1.6" fill="#141414" opacity="0.85" filter="url(#bl)"/>
<rect x="1423.4" y="197.0" width="4.7" height="12.2" fill="#f3f3f3" filter="url(#bl)"/>
<rect x="1424.4" y="209.7" width="2.7" height="1.6" fill="#141414" opacity="0.85" filter="url(#bl)"/>
<rect x="1429.4" y="197.0" width="4.7" height="12.2" fill="#f3f3f3" filter="url(#bl)"/>
<rect x="1430.4" y="209.7" width="2.7" height="1.6" fill="#141414" opacity="0.85" filter="url(#bl)"/>
<rect x="1438.6" y="195.8" width="13.8" height="13.9" fill="#2a2a2a" opacity="0.9" filter="url(#bl)"/>
<rect x="1440.1" y="212.2" width="9.3" height="2.1" fill="#141414" opacity="0.8" filter="url(#bl2)"/>
<rect x="1438.6" y="197.0" width="13.8" height="3.5" fill="#f3f3f3" filter="url(#bl)"/>
<rect x="1438.6" y="201.4" width="13.8" height="3.5" fill="#f3f3f3" filter="url(#bl)"/>
<rect x="1438.6" y="205.7" width="13.8" height="3.5" fill="#f3f3f3" filter="url(#bl)"/>
<text x="1456.0" y="209.2" textLength="11.0" lengthAdjust="spacingAndGlyphs" font-family="'Liberation Sans', Arial, sans-serif" font-weight="bold" font-size="11.1" fill="#f3f3f3" stroke="#f3f3f3" stroke-width="1.00" stroke-linejoin="round" opacity="0.75" filter="url(#bl2)">6</text>
<rect x="1449.6" y="228.4" width="5.0" height="18.1" fill="#141414" opacity="0.55" filter="url(#bl2)"/>
<rect x="1451.6" y="243.5" width="15.8" height="5.0" fill="#141414" opacity="0.5" filter="url(#bl2)"/>
<text x="1451.6" y="246.5" textLength="19.8" lengthAdjust="spacingAndGlyphs" font-family="'Liberation Sans', Arial, sans-serif" font-weight="bold" font-size="33.8" fill="#f3f3f3" stroke="#f3f3f3" stroke-width="1.81" stroke-linejoin="round" opacity="1.0" filter="url(#bl)">4</text>
<rect x="1405.0" y="236.6" width="47.0" height="9.2" fill="#8a8a8a" opacity="0.7" filter="url(#bl2)"/>
<rect x="1405.1" y="246.9" width="47.3" height="45.1" fill="#2a2a2a" opacity="0.9" filter="url(#bl)"/>
<rect x="1406.6" y="294.5" width="42.8" height="7.4" fill="#141414" opacity="0.8" filter="url(#bl2)"/>
<rect x="1405.1" y="248.1" width="47.3" height="11.4" fill="#f3f3f3" filter="url(#bl)"/>
<rect x="1405.1" y="264.8" width="47.3" height="12.2" fill="#f3f3f3" filter="url(#bl)"/>
<rect x="1405.1" y="280.8" width="47.3" height="10.7" fill="#f3f3f3" filter="url(#bl)"/>
<rect x="1339.6" y="247.4" width="50.2" height="45.0" fill="#3a3a3a" opacity="0.8" filter="url(#bl)"/>
<rect x="1340.4" y="247.4" width="12.8" height="45.0" fill="#f3f3f3" filter="url(#bl)"/>
<rect x="1341.4" y="292.9" width="10.8" height="5.9" fill="#141414" opacity="0.85" filter="url(#bl)"/>
<rect x="1357.2" y="247.4" width="13.2" height="45.0" fill="#f3f3f3" filter="url(#bl)"/>
<rect x="1358.2" y="292.9" width="11.2" height="5.9" fill="#141414" opacity="0.85" filter="url(#bl)"/>
<rect x="1375.8" y="247.4" width="13.2" height="45.0" fill="#f3f3f3" filter="url(#bl)"/>
<rect x="1376.8" y="292.9" width="11.2" height="5.9" fill="#141414" opacity="0.85" filter="url(#bl)"/>
<text x="1459.2" y="291.5" textLength="16.0" lengthAdjust="spacingAndGlyphs" font-family="'Liberation Sans', Arial, sans-serif" font-weight="bold" font-size="29.9" fill="#f3f3f3" stroke="#f3f3f3" stroke-width="1.60" stroke-linejoin="round" opacity="1.0" filter="url(#bl)">1</text>
<rect x="1314.0" y="142.6" width="17.0" height="2.0" fill="#141414" opacity="0.8" filter="url(#bl)"/>
<rect x="1314.5" y="145.1" width="16.5" height="8.8" fill="#f3f3f3" opacity="0.9" filter="url(#bl)"/>
<rect x="1316.5" y="149.1" width="14.5" height="1.3" fill="#333" opacity="0.6" filter="url(#bl)"/>
<rect x="1314.0" y="154.8" width="17.0" height="2.0" fill="#141414" opacity="0.8" filter="url(#bl)"/>
<rect x="1314.5" y="157.3" width="16.5" height="10.7" fill="#f3f3f3" opacity="0.9" filter="url(#bl)"/>
<rect x="1316.5" y="162.1" width="14.5" height="1.6" fill="#333" opacity="0.6" filter="url(#bl)"/>
<rect x="1314.0" y="169.3" width="17.0" height="2.0" fill="#141414" opacity="0.8" filter="url(#bl)"/>
<rect x="1314.5" y="171.8" width="16.5" height="9.2" fill="#f3f3f3" opacity="0.81" filter="url(#bl)"/>
<rect x="1316.5" y="175.9" width="14.5" height="1.4" fill="#333" opacity="0.6" filter="url(#bl)"/>
<rect x="1314.0" y="180.7" width="17.0" height="2.0" fill="#141414" opacity="0.8" filter="url(#bl)"/>
<rect x="1314.5" y="183.2" width="16.5" height="8.4" fill="#f3f3f3" opacity="0.765" filter="url(#bl)"/>
<rect x="1316.5" y="187.0" width="14.5" height="1.3" fill="#333" opacity="0.6" filter="url(#bl)"/>
<rect x="1314.0" y="191.4" width="17.0" height="2.0" fill="#141414" opacity="0.8" filter="url(#bl)"/>
<rect x="1314.5" y="193.9" width="16.5" height="8.0" fill="#f3f3f3" opacity="0.765" filter="url(#bl)"/>
<rect x="1316.5" y="197.5" width="14.5" height="1.2" fill="#333" opacity="0.6" filter="url(#bl)"/>
<rect x="1333.0" y="143.0" width="13.0" height="2.0" fill="#141414" opacity="0.7" filter="url(#bl)"/>
<rect x="1333.0" y="145.0" width="13.0" height="9.0" fill="#e0e0e0" opacity="0.85" filter="url(#bl)"/>
<rect x="1333.0" y="156.0" width="13.0" height="2.0" fill="#141414" opacity="0.7" filter="url(#bl)"/>
<rect x="1333.0" y="158.0" width="13.0" height="10.0" fill="#e0e0e0" opacity="0.8" filter="url(#bl)"/>
<rect x="1333.0" y="170.0" width="13.0" height="2.0" fill="#141414" opacity="0.7" filter="url(#bl)"/>
<rect x="1333.0" y="172.0" width="13.0" height="9.0" fill="#e0e0e0" opacity="0.55" filter="url(#bl)"/>
<rect x="1333.0" y="181.0" width="13.0" height="2.0" fill="#141414" opacity="0.7" filter="url(#bl)"/>
<rect x="1333.0" y="183.0" width="13.0" height="9.0" fill="#e0e0e0" opacity="0.5" filter="url(#bl)"/>
<rect x="1333.0" y="192.0" width="13.0" height="2.0" fill="#141414" opacity="0.7" filter="url(#bl)"/>
<rect x="1333.0" y="194.0" width="13.0" height="8.0" fill="#e0e0e0" opacity="0.5" filter="url(#bl)"/>
<rect x="1352.0" y="144.4" width="12.0" height="9.6" fill="#fafafa" filter="url(#bl)"/>
<rect x="1351.0" y="156.6" width="13.0" height="4.4" fill="#141414" opacity="0.9" filter="url(#bl)"/>
<rect x="1371.0" y="132.5" width="8.0" height="5.5" fill="#e8e8e8" opacity="0.7" filter="url(#bl)"/>
<rect x="1370.0" y="145.0" width="19.0" height="4.0" fill="#ececec" opacity="0.8" filter="url(#bl)"/>
<rect x="1370.0" y="149.0" width="16.0" height="2.2" fill="#141414" opacity="0.65" filter="url(#bl)"/>
<rect x="1370.0" y="153.0" width="19.0" height="3.5" fill="#ececec" opacity="0.8" filter="url(#bl)"/>
<rect x="1370.0" y="156.5" width="16.0" height="2.2" fill="#141414" opacity="0.65" filter="url(#bl)"/>
<rect x="1370.0" y="160.0" width="19.0" height="3.5" fill="#ececec" opacity="0.8" filter="url(#bl)"/>
<rect x="1370.0" y="163.5" width="16.0" height="2.2" fill="#141414" opacity="0.65" filter="url(#bl)"/>
<rect x="1370.0" y="167.0" width="19.0" height="3.0" fill="#ececec" opacity="0.8" filter="url(#bl)"/>
<rect x="1370.0" y="170.0" width="16.0" height="2.2" fill="#141414" opacity="0.65" filter="url(#bl)"/>
<rect x="1370.0" y="173.5" width="19.0" height="3.0" fill="#ececec" opacity="0.8" filter="url(#bl)"/>
<rect x="1370.0" y="176.5" width="16.0" height="2.2" fill="#141414" opacity="0.65" filter="url(#bl)"/>
<rect x="1370.0" y="180.0" width="19.0" height="2.5" fill="#ececec" opacity="0.8" filter="url(#bl)"/>
<rect x="1370.0" y="182.5" width="16.0" height="2.2" fill="#141414" opacity="0.65" filter="url(#bl)"/>
<rect x="1369.0" y="142.0" width="9.0" height="2.0" fill="#141414" opacity="0.8" filter="url(#bl)"/>
<rect x="1352.0" y="190.0" width="17.0" height="12.0" fill="#c8c8c8" opacity="0.9" filter="url(#bl)"/>
<rect x="1354.0" y="190.5" width="3.0" height="11.5" fill="#f5f5f5" filter="url(#bl)"/>
<rect x="1359.5" y="190.5" width="3.0" height="11.5" fill="#f5f5f5" filter="url(#bl)"/>
<rect x="1365.0" y="190.5" width="3.0" height="11.5" fill="#f5f5f5" filter="url(#bl)"/>
<rect x="1371.0" y="190.0" width="16.0" height="3.0" fill="#f5f5f5" filter="url(#bl)"/>
<rect x="1371.0" y="194.5" width="16.0" height="3.0" fill="#f5f5f5" filter="url(#bl)"/>
<rect x="1371.0" y="199.0" width="16.0" height="3.0" fill="#f5f5f5" filter="url(#bl)"/>
<rect x="1352.0" y="203.0" width="36.0" height="5.0" fill="#333" opacity="0.6" filter="url(#bl2)"/>
<line x1="1322.4" y1="134.1" x2="1322.4" y2="204.5" stroke="#f00" stroke-width="1" stroke-dasharray="7 1.2"/>
</g>
<text x="1312.40" y="246.50" font-family="'Liberation Serif', 'Times New Roman', serif" font-size="33.1" font-weight="normal" fill="#000" >(b)</text>
<rect x="120" y="0" width="1413" height="1.1" fill="#9a9a9a"/>
<rect x="1531.9" y="0" width="1.1" height="1128" fill="#d0d0d0"/>
<line x1="118.8" y1="2.45" x2="1531.9" y2="2.45" stroke="#222" stroke-width="2.8" />
<line x1="120.4" y1="1.0" x2="120.4" y2="463" stroke="#222" stroke-width="3.2" />
<line x1="118.8" y1="461.7" x2="1129.5" y2="461.7" stroke="#000" stroke-width="3.5" />
<line x1="1127.8" y1="1.0" x2="1127.8" y2="1126.8" stroke="#000" stroke-width="3.7" />
<line x1="1530.4" y1="1.0" x2="1530.4" y2="1126.8" stroke="#222" stroke-width="2.9" />
<line x1="1126" y1="1125.4" x2="1531.9" y2="1125.4" stroke="#1c1c1c" stroke-width="2.9" />
</svg></body></html>
